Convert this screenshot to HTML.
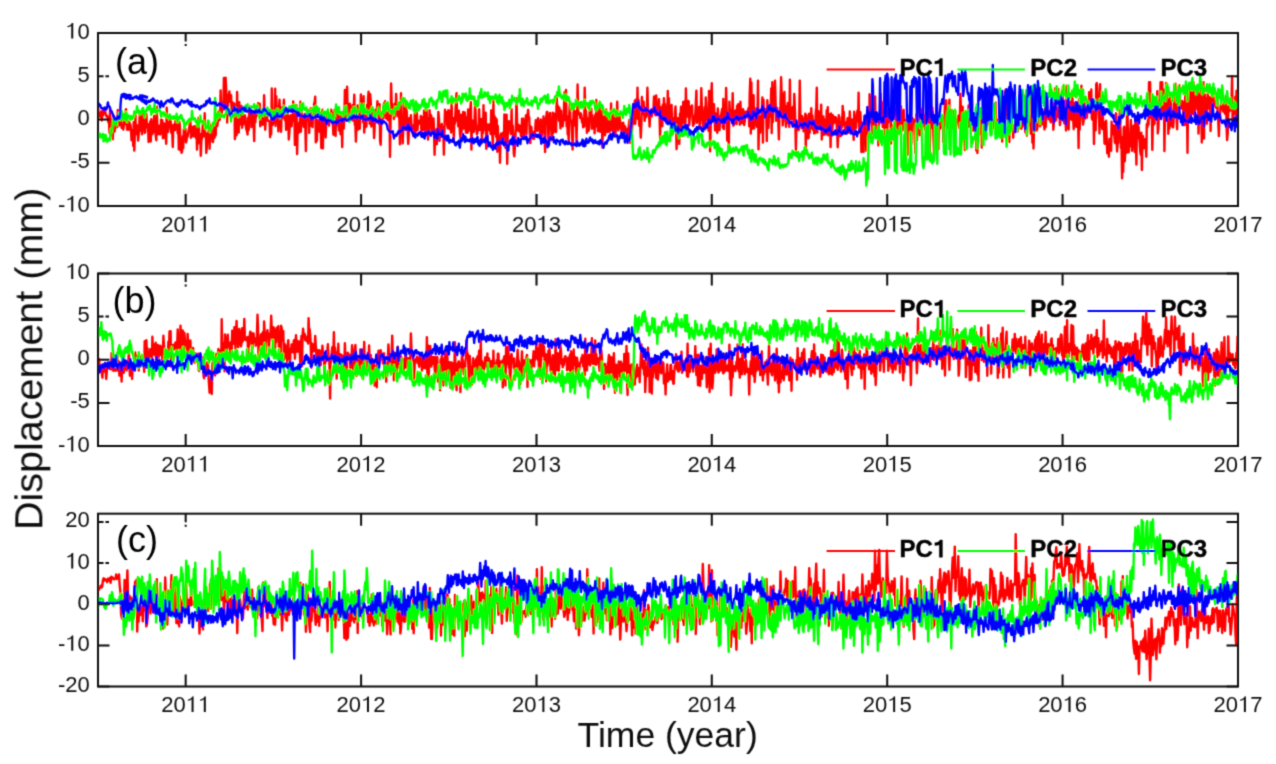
<!DOCTYPE html><html><head><meta charset="utf-8"><style>html,body{margin:0;padding:0;background:#fff;overflow:hidden;}svg{display:block}</style></head><body>
<svg width="1276" height="764" viewBox="0 0 1276 764">
<rect width="1276" height="764" fill="#fff"/>
<defs><filter id="bl" x="0" y="0" width="1276" height="764" filterUnits="userSpaceOnUse"><feConvolveMatrix order="3" kernelMatrix="0.0277 0.1110 0.0277 0.1110 0.4452 0.1110 0.0277 0.1110 0.0277" edgeMode="none"/></filter>
<clipPath id="ca"><rect x="98.0" y="33.0" width="1140.0" height="173.0"/></clipPath>
<clipPath id="cb"><rect x="98.0" y="273.5" width="1140.0" height="172.5"/></clipPath>
<clipPath id="cc"><rect x="98.0" y="513.7" width="1140.0" height="172.8"/></clipPath>
</defs>
<g filter="url(#bl)">
<g clip-path="url(#ca)" fill="none" stroke-width="2.4" stroke-linejoin="round">
<path stroke="#ff0000" d="M98.0 106.3 98.5 111.7 99.1 114.4 99.6 113.1 100.2 116.7 100.7 113.9 101.3 111.3 101.8 120.5 102.4 111.3 102.9 115.5 103.5 110.8 104.0 112.8 104.6 113.5 105.1 110.6 105.7 114.2 106.2 116.1 106.8 115.4 107.3 116.0 107.9 118.9 108.4 122.4 109.0 121.3 109.5 133.2 110.1 107.6 110.6 135.8 111.2 119.2 111.7 121.2 112.3 119.6 112.8 139.2 113.4 120.6 113.9 122.1 114.5 131.5 115.0 128.3 115.6 127.4 116.1 123.1 116.7 121.2 117.2 127.1 117.8 110.0 118.3 118.9 118.9 122.4 119.4 125.3 120.0 123.7 120.5 124.9 121.1 114.7 121.6 127.8 122.2 128.0 122.7 127.0 123.3 129.5 123.8 125.3 124.4 119.2 124.9 124.0 125.5 113.2 126.0 109.2 126.6 122.5 127.1 129.7 127.7 123.3 128.2 121.7 128.8 129.7 129.3 122.0 129.9 128.4 130.4 124.4 131.0 130.0 131.5 140.1 132.1 140.3 132.6 129.9 133.2 145.9 133.7 121.9 134.3 150.6 134.8 133.7 135.4 113.6 135.9 134.1 136.5 124.6 137.0 126.2 137.6 130.5 138.1 140.6 138.7 134.1 139.2 126.0 139.8 111.4 140.3 130.5 140.9 130.1 141.4 125.1 142.0 134.3 142.5 108.9 143.1 117.7 143.6 124.6 144.2 125.3 144.7 133.0 145.3 132.0 145.8 115.3 146.4 113.8 146.9 127.0 147.5 123.9 148.0 124.4 148.6 142.0 149.1 133.4 149.7 127.8 150.2 121.4 150.8 141.5 151.3 119.2 151.9 127.6 152.4 134.2 153.0 127.5 153.5 132.2 154.1 115.6 154.6 124.0 155.2 122.9 155.7 135.7 156.3 140.2 156.8 106.7 157.4 127.7 157.9 134.3 158.5 132.8 159.0 127.0 159.6 125.6 160.1 134.5 160.7 133.5 161.2 119.5 161.8 130.8 162.3 120.2 162.9 138.3 163.4 123.1 164.0 137.6 164.5 123.8 165.1 130.2 165.6 134.3 166.2 143.8 166.7 107.7 167.3 131.2 167.8 132.0 168.4 129.0 168.9 122.1 169.5 126.7 170.0 117.0 170.6 118.9 171.1 132.6 171.7 128.3 172.2 131.3 172.8 147.0 173.3 124.6 173.9 130.0 174.4 129.7 175.0 130.1 175.5 118.1 176.1 126.6 176.6 125.6 177.2 125.0 177.7 133.4 178.3 123.9 178.8 149.4 179.4 121.7 179.9 126.6 180.5 150.3 181.0 141.2 181.6 152.9 182.1 151.3 182.7 136.3 183.2 148.2 183.8 129.7 184.3 126.7 184.9 133.6 185.4 128.7 186.0 142.4 186.5 140.5 187.1 135.7 187.6 136.6 188.2 132.4 188.7 130.2 189.3 127.5 189.8 119.7 190.4 120.1 190.9 137.7 191.5 129.5 192.0 126.9 192.6 132.3 193.1 136.4 193.7 131.8 194.2 126.3 194.8 133.2 195.3 136.5 195.9 137.9 196.4 125.4 197.0 149.6 197.5 132.0 198.1 143.6 198.6 117.7 199.2 135.8 199.7 136.9 200.3 133.9 200.8 155.7 201.4 140.4 201.9 137.9 202.5 130.7 203.0 120.9 203.6 136.5 204.1 132.3 204.7 113.3 205.2 132.7 205.8 134.1 206.3 152.9 206.9 145.6 207.4 134.6 208.0 133.0 208.5 137.9 209.1 122.4 209.6 148.8 210.2 124.8 210.7 137.6 211.3 133.8 211.8 125.9 212.4 141.5 212.9 142.1 213.5 136.9 214.0 125.1 214.6 137.6 215.1 128.6 215.7 135.4 216.2 122.4 216.8 114.8 217.3 126.1 217.9 121.4 218.4 111.6 219.0 111.4 219.5 120.1 220.1 118.2 220.6 90.4 221.2 112.5 221.7 114.6 222.3 102.2 222.8 108.9 223.4 103.9 223.9 78.0 224.5 109.7 225.0 109.2 225.6 77.6 226.1 87.7 226.7 98.0 227.2 122.5 227.8 109.0 228.3 94.6 228.9 97.0 229.4 91.5 230.0 101.7 230.5 97.5 231.1 95.1 231.6 114.4 232.2 101.9 232.7 104.6 233.3 108.9 233.8 107.9 234.4 103.5 234.9 139.0 235.5 134.0 236.0 112.8 236.6 135.0 237.1 92.0 237.7 127.9 238.2 119.4 238.8 132.6 239.3 102.2 239.9 119.4 240.4 106.3 241.0 124.4 241.5 106.0 242.1 127.8 242.6 107.9 243.2 124.6 243.7 122.1 244.3 118.7 244.8 115.3 245.4 117.8 245.9 127.1 246.5 129.8 247.0 131.3 247.6 134.5 248.1 118.0 248.7 130.0 249.2 106.1 249.8 108.6 250.3 122.6 250.9 108.3 251.4 127.1 252.0 111.0 252.5 113.2 253.1 113.1 253.6 122.6 254.2 141.1 254.7 109.5 255.3 122.3 255.8 115.6 256.4 108.7 256.9 116.0 257.5 110.3 258.0 103.3 258.6 114.4 259.1 110.0 259.7 103.6 260.2 126.2 260.8 116.8 261.3 118.7 261.9 118.9 262.4 124.8 263.0 110.0 263.5 124.4 264.1 95.3 264.6 110.2 265.2 129.7 265.7 119.5 266.3 116.5 266.8 111.0 267.4 119.9 267.9 120.7 268.5 120.4 269.0 121.0 269.6 122.2 270.1 137.3 270.7 126.8 271.2 134.4 271.8 88.5 272.3 125.1 272.9 124.4 273.4 122.3 274.0 120.2 274.5 119.9 275.1 88.8 275.6 125.9 276.2 96.3 276.7 109.9 277.3 110.3 277.8 114.5 278.4 131.4 278.9 110.3 279.5 99.8 280.0 112.3 280.6 119.8 281.1 131.9 281.7 107.5 282.2 114.7 282.8 118.1 283.3 111.9 283.9 99.8 284.4 112.0 285.0 120.2 285.5 112.1 286.1 129.9 286.6 119.9 287.2 117.9 287.7 114.1 288.3 119.9 288.8 139.5 289.4 131.8 289.9 120.1 290.5 115.2 291.0 118.1 291.6 126.3 292.1 117.3 292.7 118.5 293.2 101.4 293.8 120.9 294.3 105.9 294.9 144.9 295.4 112.8 296.0 110.5 296.5 105.3 297.1 154.1 297.6 129.2 298.2 124.2 298.7 132.7 299.3 122.3 299.8 128.0 300.4 101.8 300.9 131.8 301.5 108.5 302.0 124.0 302.6 116.1 303.1 117.8 303.7 126.8 304.2 126.6 304.8 113.6 305.3 125.3 305.9 151.1 306.4 119.2 307.0 119.8 307.5 109.6 308.1 118.5 308.6 110.5 309.2 132.9 309.7 109.7 310.3 125.7 310.8 108.2 311.4 122.0 311.9 125.8 312.5 127.1 313.0 113.7 313.6 114.6 314.1 103.7 314.7 102.0 315.2 96.6 315.8 142.4 316.3 120.1 316.9 140.8 317.4 120.0 318.0 123.1 318.5 121.9 319.1 124.6 319.6 131.9 320.2 113.0 320.7 125.1 321.3 148.0 321.8 116.9 322.4 109.6 322.9 148.4 323.5 118.4 324.0 120.8 324.6 122.1 325.1 112.7 325.7 137.4 326.2 121.9 326.8 117.0 327.3 123.3 327.9 112.9 328.4 115.6 329.0 125.6 329.5 119.9 330.1 118.5 330.6 120.6 331.2 109.7 331.7 122.1 332.3 112.7 332.8 122.5 333.4 134.7 333.9 122.8 334.5 110.0 335.0 118.6 335.6 136.0 336.1 107.6 336.7 107.7 337.2 112.8 337.8 125.4 338.3 112.2 338.9 130.5 339.4 116.3 340.0 118.0 340.5 134.2 341.1 120.1 341.6 116.0 342.2 147.0 342.7 112.0 343.3 116.5 343.8 128.5 344.4 115.9 344.9 90.0 345.5 97.6 346.0 119.4 346.6 120.8 347.1 86.6 347.7 113.0 348.2 118.9 348.8 104.4 349.3 109.3 349.9 103.8 350.4 112.4 351.0 110.8 351.5 120.0 352.1 119.1 352.6 105.2 353.2 120.6 353.7 110.1 354.3 94.8 354.8 124.8 355.4 125.5 355.9 141.6 356.5 127.0 357.0 120.1 357.6 105.5 358.1 129.5 358.7 117.8 359.2 105.4 359.8 128.7 360.3 112.9 360.9 94.5 361.4 107.1 362.0 110.4 362.5 112.5 363.1 122.2 363.6 96.2 364.2 132.6 364.7 123.2 365.3 111.7 365.8 127.0 366.4 126.3 366.9 105.0 367.5 119.9 368.0 99.1 368.6 91.7 369.1 107.1 369.7 123.8 370.2 94.1 370.8 102.5 371.3 126.5 371.9 107.3 372.4 107.2 373.0 117.5 373.5 118.6 374.1 138.1 374.6 127.8 375.2 110.0 375.7 112.7 376.3 109.4 376.8 112.1 377.4 101.2 377.9 107.9 378.5 117.2 379.0 123.9 379.6 104.2 380.1 140.9 380.7 144.7 381.2 120.2 381.8 112.2 382.3 112.0 382.9 117.3 383.4 118.4 384.0 103.3 384.5 107.7 385.1 101.1 385.6 105.2 386.2 118.4 386.7 117.5 387.3 118.0 387.8 120.1 388.4 111.9 388.9 118.5 389.5 110.3 390.0 156.7 390.6 117.8 391.1 83.5 391.7 103.9 392.2 103.8 392.8 110.3 393.3 111.4 393.9 119.0 394.4 111.5 395.0 103.4 395.5 116.2 396.1 93.9 396.6 106.0 397.2 113.6 397.7 104.8 398.3 116.6 398.8 106.0 399.4 121.3 399.9 144.2 400.5 121.3 401.0 93.3 401.6 115.6 402.1 117.1 402.7 143.4 403.2 130.7 403.8 125.6 404.3 98.4 404.9 129.9 405.4 124.1 406.0 115.9 406.5 106.9 407.1 119.9 407.6 128.4 408.2 143.9 408.7 135.4 409.3 118.3 409.8 122.5 410.4 126.4 410.9 115.2 411.5 125.7 412.0 131.2 412.6 131.8 413.1 135.6 413.7 125.2 414.2 135.6 414.8 112.0 415.3 134.2 415.9 128.3 416.4 107.7 417.0 115.5 417.5 130.2 418.1 120.5 418.6 121.8 419.2 123.6 419.7 123.4 420.3 123.5 420.8 116.0 421.4 133.0 421.9 122.4 422.5 117.1 423.0 126.8 423.6 130.1 424.1 110.4 424.7 124.6 425.2 114.7 425.8 133.3 426.3 106.8 426.9 116.4 427.4 120.2 428.0 139.6 428.5 132.7 429.1 131.6 429.6 110.2 430.2 123.3 430.7 114.8 431.3 115.8 431.8 133.2 432.4 131.3 432.9 122.0 433.5 118.4 434.0 130.3 434.6 154.8 435.1 129.9 435.7 129.8 436.2 129.8 436.8 144.1 437.3 128.4 437.9 128.9 438.4 111.9 439.0 119.3 439.5 140.9 440.1 130.2 440.6 126.9 441.2 126.3 441.7 123.9 442.3 130.9 442.8 126.8 443.4 134.8 443.9 154.6 444.5 127.3 445.0 109.7 445.6 121.0 446.1 112.2 446.7 112.2 447.2 125.2 447.8 128.4 448.3 110.3 448.9 118.7 449.4 120.0 450.0 129.3 450.5 110.4 451.1 132.6 451.6 101.2 452.2 125.2 452.7 124.5 453.3 118.1 453.8 142.0 454.4 118.8 454.9 123.6 455.5 110.2 456.0 98.5 456.6 93.2 457.1 120.8 457.7 118.1 458.2 126.4 458.8 110.6 459.3 120.8 459.9 132.8 460.4 137.9 461.0 114.8 461.5 133.0 462.1 121.4 462.6 126.8 463.2 111.9 463.7 128.6 464.3 117.8 464.8 112.4 465.4 119.5 465.9 132.6 466.5 117.8 467.0 126.8 467.6 132.7 468.1 109.5 468.7 130.9 469.2 121.2 469.8 111.4 470.3 109.6 470.9 101.9 471.4 149.6 472.0 121.0 472.5 120.5 473.1 132.0 473.6 132.1 474.2 129.1 474.7 114.7 475.3 100.9 475.8 122.3 476.4 127.8 476.9 134.4 477.5 132.0 478.0 129.7 478.6 128.6 479.1 109.3 479.7 129.9 480.2 118.9 480.8 124.6 481.3 119.0 481.9 139.2 482.4 119.9 483.0 132.9 483.5 105.3 484.1 129.5 484.6 126.5 485.2 126.6 485.7 112.8 486.3 148.8 486.8 143.8 487.4 124.5 487.9 127.4 488.5 129.4 489.0 124.4 489.6 130.3 490.1 129.5 490.7 134.1 491.2 110.5 491.8 116.3 492.3 134.5 492.9 146.5 493.4 99.8 494.0 134.1 494.5 116.1 495.1 119.6 495.6 117.8 496.2 137.0 496.7 119.4 497.3 151.8 497.8 126.0 498.4 144.2 498.9 146.5 499.5 138.7 500.0 162.8 500.6 134.9 501.1 133.6 501.7 138.7 502.2 133.7 502.8 133.2 503.3 132.4 503.9 143.5 504.4 114.4 505.0 138.4 505.5 147.9 506.1 130.6 506.6 114.8 507.2 163.8 507.7 135.0 508.3 132.6 508.8 121.1 509.4 124.8 509.9 122.4 510.5 121.6 511.0 134.3 511.6 109.2 512.1 129.0 512.7 125.6 513.2 135.6 513.8 153.3 514.3 156.2 514.9 147.5 515.4 138.8 516.0 121.9 516.5 98.2 517.1 122.8 517.6 130.2 518.2 124.4 518.7 131.4 519.3 127.4 519.8 125.7 520.4 128.6 520.9 136.3 521.5 134.2 522.0 118.7 522.6 123.2 523.1 118.6 523.7 137.9 524.2 124.3 524.8 121.2 525.3 124.9 525.9 115.5 526.4 134.3 527.0 114.6 527.5 116.9 528.1 109.9 528.6 117.6 529.2 117.2 529.7 131.5 530.3 143.1 530.8 126.7 531.4 126.9 531.9 134.2 532.5 138.6 533.0 135.1 533.6 132.2 534.1 138.8 534.7 134.4 535.2 129.2 535.8 120.1 536.3 126.5 536.9 126.8 537.4 131.0 538.0 118.3 538.5 125.3 539.1 127.5 539.6 124.0 540.2 135.9 540.7 119.4 541.3 121.4 541.8 135.8 542.4 128.6 542.9 128.5 543.5 116.5 544.0 121.8 544.6 134.4 545.1 152.1 545.7 122.1 546.2 118.0 546.8 112.0 547.3 112.0 547.9 117.9 548.4 139.4 549.0 126.0 549.5 120.4 550.1 112.9 550.6 129.0 551.2 127.3 551.7 140.3 552.3 133.9 552.8 112.6 553.4 132.8 553.9 130.7 554.5 113.6 555.0 120.9 555.6 114.7 556.1 132.0 556.7 95.1 557.2 113.1 557.8 105.7 558.3 108.2 558.9 120.8 559.4 107.8 560.0 119.4 560.5 128.4 561.1 110.8 561.6 121.1 562.2 117.4 562.7 126.3 563.3 120.5 563.8 114.2 564.4 92.4 564.9 120.1 565.5 109.6 566.0 90.0 566.6 126.2 567.1 116.2 567.7 134.4 568.2 132.1 568.8 141.5 569.3 114.0 569.9 102.5 570.4 120.2 571.0 121.7 571.5 120.6 572.1 134.1 572.6 149.5 573.2 122.4 573.7 109.0 574.3 119.4 574.8 125.4 575.4 120.9 575.9 111.1 576.5 142.3 577.0 120.3 577.6 84.5 578.1 108.3 578.7 114.3 579.2 114.4 579.8 113.4 580.3 118.0 580.9 113.5 581.4 115.4 582.0 122.3 582.5 118.8 583.1 127.3 583.6 125.2 584.2 126.5 584.7 87.6 585.3 113.0 585.8 110.3 586.4 115.9 586.9 132.8 587.5 123.5 588.0 118.7 588.6 130.8 589.1 127.9 589.7 109.8 590.2 120.5 590.8 120.2 591.3 108.5 591.9 128.8 592.4 115.2 593.0 128.0 593.5 123.7 594.1 118.0 594.6 133.4 595.2 115.1 595.7 126.5 596.3 100.0 596.8 126.4 597.4 117.3 597.9 131.2 598.5 123.4 599.0 106.1 599.6 109.0 600.1 131.8 600.7 119.7 601.2 118.6 601.8 108.1 602.3 147.4 602.9 129.8 603.4 122.4 604.0 122.3 604.5 115.2 605.1 135.3 605.6 110.7 606.2 109.6 606.7 125.8 607.3 132.0 607.8 130.6 608.4 128.7 608.9 115.7 609.5 131.9 610.0 124.8 610.6 129.1 611.1 103.5 611.7 130.1 612.2 118.8 612.8 131.2 613.3 113.9 613.9 134.2 614.4 112.5 615.0 111.3 615.5 135.0 616.1 121.8 616.6 117.7 617.2 101.8 617.7 118.3 618.3 130.4 618.8 126.2 619.4 125.9 619.9 116.2 620.5 128.2 621.0 125.5 621.6 132.0 622.1 123.2 622.7 130.4 623.2 122.7 623.8 125.9 624.3 133.1 624.9 126.1 625.4 128.4 626.0 130.3 626.5 128.6 627.1 136.0 627.6 128.9 628.2 141.2 628.7 126.9 629.3 120.0 629.8 132.6 630.4 143.1 630.9 118.5 631.5 135.5 632.0 131.9 632.6 117.9 633.1 104.1 633.7 121.0 634.2 123.5 634.8 100.7 635.3 123.8 635.9 99.7 636.4 100.4 637.0 118.3 637.5 87.6 638.1 119.1 638.6 100.1 639.2 125.5 639.7 125.5 640.3 126.7 640.8 137.8 641.4 123.5 641.9 97.0 642.5 114.0 643.0 110.8 643.6 101.6 644.1 112.2 644.7 120.9 645.2 113.2 645.8 107.6 646.3 117.0 646.9 107.9 647.4 87.7 648.0 107.8 648.5 114.6 649.1 116.1 649.6 126.6 650.2 114.8 650.7 112.1 651.3 113.1 651.8 116.3 652.4 111.7 652.9 108.8 653.5 108.0 654.0 96.5 654.6 108.5 655.1 114.1 655.7 115.2 656.2 95.4 656.8 115.3 657.3 102.9 657.9 105.9 658.4 109.1 659.0 99.3 659.5 112.4 660.1 138.4 660.6 107.1 661.2 116.0 661.7 115.8 662.3 126.3 662.8 104.8 663.4 118.2 663.9 98.2 664.5 110.0 665.0 104.2 665.6 118.1 666.1 116.3 666.7 112.8 667.2 121.8 667.8 91.0 668.3 120.8 668.9 98.2 669.4 110.8 670.0 117.1 670.5 119.6 671.1 125.2 671.6 105.0 672.2 131.0 672.7 134.1 673.3 120.5 673.8 117.9 674.4 127.9 674.9 112.1 675.5 106.5 676.0 120.9 676.6 149.1 677.1 121.3 677.7 118.3 678.2 120.7 678.8 119.8 679.3 143.9 679.9 113.8 680.4 119.0 681.0 106.8 681.5 114.6 682.1 129.2 682.6 136.1 683.2 102.0 683.7 105.6 684.3 130.3 684.8 101.3 685.4 125.9 685.9 88.4 686.5 117.1 687.0 103.7 687.6 110.0 688.1 100.9 688.7 101.4 689.2 125.2 689.8 116.3 690.3 106.7 690.9 112.4 691.4 110.5 692.0 105.4 692.5 119.4 693.1 125.9 693.6 119.0 694.2 123.8 694.7 116.3 695.3 113.8 695.8 103.6 696.4 90.6 696.9 122.8 697.5 116.8 698.0 114.4 698.6 119.5 699.1 107.0 699.7 128.8 700.2 114.6 700.8 115.3 701.3 88.2 701.9 106.7 702.4 119.9 703.0 125.8 703.5 115.8 704.1 124.8 704.6 107.3 705.2 129.3 705.7 97.4 706.3 107.0 706.8 120.4 707.4 114.6 707.9 119.1 708.5 130.7 709.0 90.9 709.6 100.7 710.1 151.3 710.7 125.0 711.2 94.8 711.8 83.2 712.3 109.0 712.9 114.2 713.4 111.5 714.0 104.2 714.5 117.2 715.1 130.4 715.6 113.4 716.2 120.0 716.7 129.8 717.3 132.7 717.8 108.5 718.4 121.7 718.9 116.1 719.5 130.1 720.0 119.8 720.6 121.0 721.1 114.8 721.7 111.2 722.2 108.8 722.8 127.7 723.3 98.9 723.9 129.1 724.4 114.3 725.0 111.7 725.5 121.0 726.1 87.9 726.6 109.0 727.2 140.5 727.7 121.1 728.3 112.9 728.8 148.7 729.4 101.7 729.9 111.9 730.5 117.2 731.0 115.5 731.6 110.0 732.1 119.2 732.7 93.2 733.2 125.6 733.8 125.4 734.3 121.6 734.9 113.0 735.4 110.5 736.0 114.3 736.5 124.1 737.1 105.6 737.6 115.5 738.2 104.1 738.7 119.5 739.3 115.6 739.8 124.8 740.4 101.8 740.9 112.7 741.5 116.3 742.0 123.4 742.6 119.8 743.1 109.2 743.7 112.0 744.2 125.1 744.8 120.5 745.3 112.2 745.9 116.3 746.4 111.4 747.0 117.3 747.5 112.2 748.1 110.6 748.6 107.9 749.2 126.4 749.7 94.6 750.3 78.8 750.8 133.5 751.4 82.5 751.9 129.0 752.5 102.9 753.0 96.6 753.6 95.2 754.1 128.5 754.7 108.2 755.2 115.1 755.8 112.8 756.3 123.4 756.9 126.9 757.4 117.4 758.0 80.6 758.5 149.3 759.1 124.4 759.6 116.3 760.2 132.6 760.7 122.0 761.3 120.2 761.8 110.8 762.4 97.4 762.9 142.5 763.5 99.6 764.0 113.4 764.6 115.4 765.1 108.9 765.7 108.9 766.2 109.1 766.8 141.0 767.3 100.2 767.9 111.9 768.4 128.0 769.0 113.8 769.5 110.5 770.1 104.7 770.6 116.8 771.2 88.4 771.7 133.0 772.3 82.3 772.8 122.0 773.4 90.0 773.9 106.4 774.5 94.7 775.0 80.6 775.6 102.2 776.1 120.7 776.7 113.9 777.2 108.0 777.8 113.3 778.3 120.3 778.9 139.4 779.4 113.0 780.0 114.3 780.5 105.4 781.1 77.2 781.6 92.6 782.2 94.4 782.7 125.4 783.3 114.2 783.8 110.5 784.4 92.0 784.9 119.2 785.5 119.8 786.0 126.8 786.6 105.9 787.1 122.0 787.7 103.0 788.2 123.2 788.8 105.6 789.3 126.9 789.9 79.7 790.4 119.0 791.0 107.5 791.5 108.3 792.1 118.9 792.6 118.3 793.2 106.6 793.7 122.7 794.3 93.9 794.8 107.3 795.4 124.4 795.9 150.2 796.5 121.6 797.0 124.5 797.6 124.7 798.1 129.5 798.7 130.0 799.2 120.1 799.8 80.6 800.3 115.1 800.9 116.1 801.4 128.0 802.0 115.9 802.5 117.9 803.1 126.5 803.6 131.3 804.2 119.3 804.7 123.5 805.3 113.8 805.8 150.6 806.4 115.0 806.9 122.6 807.5 124.6 808.0 138.4 808.6 137.9 809.1 113.6 809.7 132.7 810.2 115.7 810.8 122.2 811.3 108.3 811.9 128.2 812.4 115.5 813.0 129.9 813.5 120.2 814.1 133.5 814.6 126.5 815.2 132.9 815.7 112.6 816.3 107.4 816.8 87.8 817.4 132.4 817.9 114.5 818.5 111.3 819.0 120.4 819.6 118.1 820.1 129.0 820.7 122.1 821.2 104.7 821.8 139.5 822.3 123.2 822.9 123.9 823.4 116.4 824.0 134.7 824.5 123.7 825.1 122.9 825.6 119.5 826.2 134.4 826.7 110.3 827.3 132.4 827.8 107.1 828.4 135.3 828.9 121.0 829.5 134.7 830.0 114.1 830.6 147.1 831.1 113.5 831.7 130.3 832.2 135.6 832.8 115.3 833.3 123.7 833.9 121.3 834.4 119.9 835.0 117.0 835.5 122.5 836.1 117.8 836.6 124.3 837.2 132.4 837.7 147.3 838.3 134.8 838.8 115.1 839.4 136.1 839.9 122.2 840.5 128.3 841.0 136.0 841.6 117.2 842.1 127.2 842.7 105.9 843.2 124.9 843.8 111.6 844.3 123.5 844.9 122.3 845.4 133.8 846.0 122.9 846.5 133.4 847.1 122.5 847.6 118.1 848.2 122.7 848.7 132.6 849.3 124.8 849.8 111.4 850.4 124.6 850.9 133.0 851.5 128.0 852.0 119.4 852.6 127.7 853.1 127.7 853.7 139.9 854.2 111.6 854.8 122.5 855.3 128.5 855.9 128.2 856.4 120.8 857.0 114.1 857.5 110.5 858.1 121.1 858.6 92.8 859.2 130.8 859.7 116.5 860.3 112.1 860.8 122.6 861.4 152.1 861.9 133.4 862.5 122.9 863.0 122.5 863.6 151.9 864.1 125.7 864.7 115.9 865.2 125.5 865.8 127.1 866.3 150.7 866.9 115.1 867.4 132.4 868.0 129.3 868.5 128.7 869.1 137.4 869.6 94.3 870.2 122.2 870.7 116.3 871.3 119.4 871.8 96.3 872.4 133.5 872.9 113.3 873.5 115.7 874.0 125.1 874.6 128.4 875.1 96.4 875.7 130.6 876.2 126.8 876.8 125.6 877.3 126.9 877.9 125.9 878.4 145.4 879.0 119.5 879.5 116.2 880.1 112.9 880.6 93.4 881.2 106.9 881.7 101.7 882.3 114.0 882.8 127.3 883.4 120.2 883.9 112.8 884.5 110.5 885.0 146.9 885.6 124.3 886.1 120.1 886.7 111.9 887.2 137.9 887.8 110.8 888.3 122.4 888.9 114.6 889.4 112.7 890.0 119.7 890.5 108.6 891.1 143.6 891.6 124.1 892.2 137.8 892.7 131.6 893.3 127.9 893.8 139.3 894.4 139.5 894.9 133.3 895.5 122.1 896.0 108.2 896.6 138.2 897.1 113.8 897.7 133.6 898.2 120.8 898.8 126.1 899.3 101.4 899.9 115.8 900.4 134.8 901.0 106.3 901.5 127.0 902.1 119.5 902.6 130.5 903.2 114.2 903.7 109.9 904.3 124.4 904.8 119.8 905.4 137.4 905.9 122.1 906.5 124.4 907.0 141.8 907.6 154.7 908.1 122.3 908.7 124.1 909.2 119.7 909.8 119.7 910.3 135.8 910.9 123.6 911.4 143.9 912.0 120.2 912.5 118.0 913.1 120.5 913.6 119.5 914.2 120.2 914.7 133.0 915.3 153.0 915.8 129.6 916.4 114.3 916.9 140.5 917.5 120.5 918.0 126.8 918.6 128.5 919.1 121.0 919.7 135.2 920.2 109.2 920.8 126.4 921.3 133.5 921.9 136.1 922.4 108.5 923.0 124.8 923.5 125.6 924.1 115.5 924.6 125.0 925.2 129.5 925.7 113.9 926.3 110.2 926.8 129.8 927.4 133.9 927.9 127.5 928.5 97.7 929.0 124.7 929.6 154.8 930.1 134.0 930.7 96.1 931.2 127.9 931.8 122.4 932.3 107.4 932.9 113.0 933.4 135.8 934.0 154.1 934.5 128.0 935.1 127.5 935.6 114.9 936.2 131.0 936.7 94.0 937.3 129.2 937.8 132.8 938.4 149.5 938.9 129.7 939.5 125.6 940.0 117.9 940.6 128.3 941.1 115.9 941.7 123.2 942.2 119.9 942.8 117.3 943.3 141.9 943.9 122.0 944.4 125.5 945.0 100.3 945.5 122.6 946.1 100.5 946.6 111.3 947.2 128.1 947.7 110.5 948.3 111.9 948.8 119.2 949.4 99.6 949.9 122.7 950.5 111.8 951.0 123.1 951.6 110.9 952.1 120.6 952.7 124.6 953.2 128.2 953.8 111.2 954.3 127.3 954.9 115.1 955.4 134.9 956.0 122.8 956.5 119.7 957.1 120.7 957.6 121.9 958.2 115.8 958.7 125.9 959.3 128.3 959.8 121.6 960.4 93.6 960.9 108.4 961.5 125.4 962.0 132.6 962.6 106.8 963.1 115.5 963.7 117.2 964.2 127.7 964.8 150.0 965.3 120.3 965.9 122.7 966.4 133.7 967.0 118.5 967.5 127.2 968.1 120.9 968.6 105.5 969.2 114.8 969.7 126.8 970.3 108.1 970.8 113.2 971.4 119.9 971.9 100.8 972.5 121.8 973.0 131.0 973.6 125.2 974.1 123.0 974.7 122.7 975.2 131.4 975.8 117.4 976.3 150.4 976.9 123.0 977.4 153.0 978.0 128.9 978.5 133.1 979.1 134.5 979.6 128.6 980.2 122.3 980.7 118.2 981.3 117.2 981.8 147.5 982.4 116.1 982.9 118.9 983.5 124.4 984.0 110.0 984.6 126.1 985.1 111.3 985.7 130.5 986.2 130.2 986.8 119.9 987.3 109.6 987.9 119.5 988.4 121.9 989.0 91.2 989.5 124.5 990.1 121.8 990.6 103.8 991.2 123.3 991.7 103.7 992.3 112.8 992.8 128.5 993.4 112.3 993.9 116.4 994.5 119.5 995.0 128.8 995.6 102.5 996.1 126.3 996.7 127.5 997.2 130.4 997.8 126.4 998.3 119.8 998.9 129.6 999.4 130.8 1000.0 124.1 1000.5 126.3 1001.1 127.1 1001.6 93.0 1002.2 141.5 1002.7 120.1 1003.3 123.9 1003.8 123.4 1004.4 127.9 1004.9 126.3 1005.5 89.8 1006.0 106.7 1006.6 117.0 1007.1 118.5 1007.7 118.8 1008.2 96.9 1008.8 119.9 1009.3 142.0 1009.9 115.0 1010.4 117.8 1011.0 120.0 1011.5 125.9 1012.1 124.2 1012.6 126.2 1013.2 137.8 1013.7 126.7 1014.3 131.8 1014.8 124.3 1015.4 123.9 1015.9 120.9 1016.5 119.7 1017.0 117.8 1017.6 131.3 1018.1 125.5 1018.7 127.0 1019.2 127.9 1019.8 127.6 1020.3 126.2 1020.9 115.9 1021.4 128.7 1022.0 122.1 1022.5 126.6 1023.1 93.4 1023.6 112.4 1024.2 112.4 1024.7 120.0 1025.3 132.2 1025.8 123.8 1026.4 129.9 1026.9 135.7 1027.5 114.4 1028.0 124.6 1028.6 120.3 1029.1 118.4 1029.7 91.7 1030.2 122.4 1030.8 133.7 1031.3 101.6 1031.9 107.2 1032.4 142.6 1033.0 124.9 1033.5 148.5 1034.1 124.5 1034.6 131.4 1035.2 90.8 1035.7 118.0 1036.3 123.9 1036.8 130.4 1037.4 127.6 1037.9 112.1 1038.5 123.9 1039.0 116.9 1039.6 119.2 1040.1 126.2 1040.7 124.6 1041.2 112.6 1041.8 124.3 1042.3 123.5 1042.9 123.9 1043.4 121.9 1044.0 123.3 1044.5 129.5 1045.1 108.3 1045.6 127.2 1046.2 118.2 1046.7 106.1 1047.3 116.6 1047.8 111.5 1048.4 118.1 1048.9 119.2 1049.5 111.0 1050.0 116.1 1050.6 122.2 1051.1 121.0 1051.7 116.2 1052.2 110.9 1052.8 104.3 1053.3 129.7 1053.9 123.0 1054.4 108.7 1055.0 88.3 1055.5 120.8 1056.1 119.7 1056.6 106.6 1057.2 109.6 1057.7 116.8 1058.3 88.9 1058.8 115.6 1059.4 108.8 1059.9 125.1 1060.5 120.8 1061.0 117.3 1061.6 108.3 1062.1 116.9 1062.7 87.0 1063.2 120.1 1063.8 118.0 1064.3 123.3 1064.9 121.8 1065.4 116.6 1066.0 130.5 1066.5 85.8 1067.1 127.7 1067.6 94.5 1068.2 99.1 1068.7 129.5 1069.3 103.4 1069.8 118.9 1070.4 102.0 1070.9 104.9 1071.5 119.8 1072.0 91.0 1072.6 101.1 1073.1 117.1 1073.7 129.3 1074.2 113.6 1074.8 102.9 1075.3 126.0 1075.9 123.0 1076.4 126.9 1077.0 102.3 1077.5 122.0 1078.1 119.1 1078.6 148.0 1079.2 99.2 1079.7 129.6 1080.3 115.0 1080.8 113.3 1081.4 85.8 1081.9 117.5 1082.5 109.7 1083.0 124.6 1083.6 121.0 1084.1 101.8 1084.7 104.0 1085.2 118.6 1085.8 112.5 1086.3 103.1 1086.9 117.6 1087.4 101.0 1088.0 105.4 1088.5 112.6 1089.1 92.1 1089.6 112.1 1090.2 93.2 1090.7 107.5 1091.3 89.5 1091.8 118.4 1092.4 119.6 1092.9 105.7 1093.5 117.3 1094.0 143.9 1094.6 101.3 1095.1 110.4 1095.7 130.2 1096.2 84.2 1096.8 83.0 1097.3 88.5 1097.9 104.3 1098.4 111.0 1099.0 120.5 1099.5 133.5 1100.1 84.3 1100.6 120.3 1101.2 122.4 1101.7 124.9 1102.3 129.1 1102.8 115.2 1103.4 126.9 1103.9 122.3 1104.5 143.3 1105.0 143.8 1105.6 134.6 1106.1 120.7 1106.7 138.4 1107.2 153.2 1107.8 144.5 1108.3 142.7 1108.9 156.8 1109.4 139.0 1110.0 140.2 1110.5 150.2 1111.1 150.7 1111.6 121.7 1112.2 134.5 1112.7 125.2 1113.3 134.2 1113.8 125.6 1114.4 136.3 1114.9 142.5 1115.5 143.2 1116.0 113.1 1116.6 140.3 1117.1 151.5 1117.7 142.3 1118.2 143.3 1118.8 127.6 1119.3 132.4 1119.9 109.9 1120.4 129.5 1121.0 148.0 1121.5 143.1 1122.1 178.3 1122.6 137.0 1123.2 171.7 1123.7 128.0 1124.3 126.7 1124.8 161.4 1125.4 149.3 1125.9 144.9 1126.5 152.8 1127.0 111.5 1127.6 115.0 1128.1 151.9 1128.7 152.2 1129.2 141.5 1129.8 146.1 1130.3 132.1 1130.9 120.0 1131.4 136.0 1132.0 150.9 1132.5 138.2 1133.1 140.9 1133.6 125.6 1134.2 135.9 1134.7 152.0 1135.3 122.1 1135.8 134.3 1136.4 164.6 1136.9 119.8 1137.5 138.0 1138.0 125.0 1138.6 127.4 1139.1 136.6 1139.7 142.6 1140.2 151.2 1140.8 154.8 1141.3 132.6 1141.9 169.9 1142.4 141.5 1143.0 136.1 1143.5 148.2 1144.1 148.1 1144.6 141.0 1145.2 139.3 1145.7 140.8 1146.3 156.8 1146.8 124.1 1147.4 127.1 1147.9 120.4 1148.5 124.6 1149.0 82.3 1149.6 87.2 1150.1 82.3 1150.7 117.6 1151.2 107.3 1151.8 110.5 1152.3 149.7 1152.9 117.3 1153.4 125.1 1154.0 110.4 1154.5 123.7 1155.1 105.5 1155.6 107.4 1156.2 118.2 1156.7 107.7 1157.3 91.2 1157.8 133.4 1158.4 128.2 1158.9 112.0 1159.5 110.7 1160.0 105.9 1160.6 82.3 1161.1 87.7 1161.7 114.4 1162.2 82.3 1162.8 110.7 1163.3 111.0 1163.9 89.7 1164.4 151.0 1165.0 113.7 1165.5 114.4 1166.1 82.9 1166.6 94.6 1167.2 104.9 1167.7 99.2 1168.3 133.8 1168.8 115.8 1169.4 128.7 1169.9 95.6 1170.5 112.5 1171.0 101.0 1171.6 125.8 1172.1 113.3 1172.7 127.2 1173.2 127.3 1173.8 116.8 1174.3 95.2 1174.9 106.6 1175.4 83.8 1176.0 111.3 1176.5 114.6 1177.1 129.3 1177.6 102.2 1178.2 91.1 1178.7 96.2 1179.3 85.2 1179.8 94.2 1180.4 107.8 1180.9 108.0 1181.5 106.2 1182.0 100.9 1182.6 109.3 1183.1 103.2 1183.7 125.0 1184.2 101.8 1184.8 125.0 1185.3 92.6 1185.9 112.5 1186.4 113.1 1187.0 107.4 1187.5 152.7 1188.1 101.9 1188.6 87.8 1189.2 88.6 1189.7 94.8 1190.3 117.6 1190.8 84.8 1191.4 97.7 1191.9 91.9 1192.5 113.9 1193.0 106.6 1193.6 82.3 1194.1 98.3 1194.7 116.9 1195.2 87.3 1195.8 98.9 1196.3 105.8 1196.9 98.4 1197.4 109.6 1198.0 85.2 1198.5 133.5 1199.1 102.5 1199.6 120.0 1200.2 82.3 1200.7 116.1 1201.3 112.8 1201.8 142.4 1202.4 91.7 1202.9 111.2 1203.5 82.3 1204.0 138.5 1204.6 94.2 1205.1 98.2 1205.7 102.4 1206.2 108.4 1206.8 123.7 1207.3 101.8 1207.9 90.8 1208.4 108.3 1209.0 104.6 1209.5 99.7 1210.1 97.3 1210.6 131.0 1211.2 103.1 1211.7 99.8 1212.3 88.6 1212.8 93.5 1213.4 94.1 1213.9 102.7 1214.5 105.8 1215.0 106.2 1215.6 104.6 1216.1 107.7 1216.7 93.8 1217.2 98.2 1217.8 116.1 1218.3 121.5 1218.9 136.1 1219.4 114.7 1220.0 116.3 1220.5 107.0 1221.1 103.0 1221.6 107.4 1222.2 104.6 1222.7 109.5 1223.3 111.5 1223.8 105.4 1224.4 102.0 1224.9 113.7 1225.5 111.6 1226.0 96.0 1226.6 126.9 1227.1 140.1 1227.7 133.7 1228.2 114.5 1228.8 105.2 1229.3 111.3 1229.9 104.1 1230.4 110.2 1231.0 102.1 1231.5 101.8 1232.1 76.2 1232.6 122.6 1233.2 104.0 1233.7 114.3 1234.3 110.1 1234.8 103.9 1235.4 96.6 1235.9 117.7 1236.5 90.7 1237.0 99.7 1237.6 104.0"/>
<path stroke="#00ff00" d="M98.0 135.8 98.5 136.7 99.1 136.4 99.6 133.5 100.2 135.7 100.7 137.6 101.3 134.9 101.8 136.6 102.4 137.3 102.9 133.9 103.5 141.4 104.0 141.0 104.6 138.9 105.1 135.0 105.7 134.9 106.2 139.6 106.8 141.6 107.3 141.8 107.9 140.7 108.4 138.6 109.0 139.9 109.5 138.3 110.1 139.9 110.6 132.1 111.2 128.6 111.7 132.2 112.3 128.8 112.8 124.2 113.4 119.5 113.9 121.8 114.5 123.5 115.0 122.4 115.6 118.1 116.1 119.4 116.7 125.5 117.2 120.2 117.8 120.0 118.3 119.2 118.9 113.1 119.4 115.8 120.0 120.1 120.5 115.0 121.1 117.1 121.6 110.7 122.2 119.7 122.7 118.3 123.3 115.8 123.8 114.0 124.4 117.1 124.9 119.7 125.5 117.2 126.0 112.0 126.6 119.9 127.1 122.1 127.7 114.9 128.2 115.7 128.8 116.0 129.3 117.2 129.9 117.0 130.4 119.9 131.0 115.9 131.5 118.2 132.1 116.8 132.6 119.1 133.2 116.5 133.7 117.1 134.3 111.5 134.8 112.7 135.4 113.5 135.9 113.0 136.5 112.4 137.0 106.3 137.6 109.6 138.1 110.6 138.7 113.0 139.2 113.1 139.8 114.4 140.3 111.2 140.9 111.2 141.4 113.6 142.0 110.1 142.5 108.7 143.1 107.9 143.6 112.2 144.2 111.6 144.7 117.4 145.3 113.6 145.8 110.6 146.4 110.9 146.9 109.5 147.5 107.2 148.0 107.0 148.6 109.5 149.1 107.2 149.7 105.3 150.2 108.8 150.8 108.7 151.3 114.8 151.9 112.3 152.4 109.5 153.0 108.8 153.5 112.4 154.1 110.4 154.6 103.3 155.2 108.7 155.7 111.0 156.3 113.2 156.8 111.0 157.4 110.1 157.9 111.2 158.5 110.2 159.0 109.4 159.6 110.3 160.1 110.4 160.7 114.8 161.2 117.1 161.8 112.8 162.3 113.4 162.9 112.5 163.4 113.4 164.0 112.4 164.5 116.1 165.1 116.0 165.6 113.5 166.2 114.6 166.7 116.3 167.3 117.4 167.8 116.1 168.4 118.3 168.9 118.1 169.5 114.5 170.0 115.1 170.6 118.6 171.1 116.5 171.7 118.8 172.2 118.6 172.8 116.9 173.3 118.7 173.9 116.1 174.4 118.8 175.0 118.9 175.5 118.1 176.1 119.5 176.6 113.8 177.2 122.0 177.7 122.2 178.3 118.6 178.8 117.1 179.4 118.4 179.9 117.9 180.5 115.6 181.0 114.9 181.6 116.1 182.1 119.2 182.7 121.0 183.2 119.3 183.8 119.8 184.3 128.5 184.9 123.4 185.4 124.8 186.0 123.9 186.5 122.8 187.1 123.8 187.6 120.9 188.2 122.3 188.7 121.7 189.3 119.0 189.8 120.5 190.4 119.9 190.9 120.2 191.5 118.1 192.0 111.0 192.6 118.3 193.1 119.5 193.7 118.5 194.2 118.9 194.8 118.2 195.3 119.3 195.9 122.2 196.4 120.3 197.0 121.0 197.5 126.3 198.1 120.6 198.6 126.2 199.2 122.7 199.7 121.3 200.3 115.6 200.8 119.9 201.4 121.4 201.9 122.2 202.5 122.2 203.0 123.2 203.6 121.0 204.1 123.0 204.7 124.1 205.2 127.7 205.8 129.1 206.3 126.6 206.9 127.9 207.4 126.6 208.0 120.4 208.5 121.2 209.1 126.2 209.6 130.5 210.2 132.2 210.7 129.2 211.3 128.6 211.8 127.7 212.4 124.3 212.9 122.7 213.5 123.1 214.0 125.1 214.6 123.1 215.1 97.9 215.7 121.4 216.2 118.6 216.8 118.4 217.3 114.9 217.9 117.8 218.4 113.5 219.0 116.4 219.5 112.5 220.1 114.7 220.6 115.6 221.2 117.0 221.7 115.6 222.3 115.8 222.8 115.7 223.4 114.9 223.9 117.3 224.5 117.2 225.0 115.5 225.6 113.8 226.1 112.4 226.7 109.5 227.2 111.9 227.8 112.5 228.3 111.8 228.9 108.2 229.4 110.7 230.0 116.1 230.5 116.3 231.1 121.5 231.6 112.0 232.2 114.0 232.7 117.0 233.3 114.1 233.8 114.4 234.4 115.6 234.9 115.6 235.5 114.7 236.0 108.0 236.6 111.5 237.1 110.1 237.7 109.9 238.2 117.0 238.8 116.6 239.3 115.5 239.9 113.3 240.4 113.2 241.0 112.7 241.5 112.2 242.1 112.3 242.6 114.1 243.2 110.7 243.7 107.8 244.3 106.8 244.8 106.4 245.4 106.9 245.9 105.6 246.5 109.8 247.0 106.8 247.6 104.3 248.1 107.3 248.7 108.4 249.2 108.9 249.8 108.6 250.3 109.0 250.9 107.0 251.4 106.4 252.0 106.6 252.5 107.6 253.1 107.3 253.6 107.3 254.2 104.1 254.7 106.1 255.3 107.5 255.8 110.3 256.4 112.5 256.9 106.0 257.5 105.2 258.0 107.7 258.6 111.6 259.1 115.6 259.7 119.0 260.2 116.2 260.8 113.8 261.3 115.9 261.9 108.9 262.4 109.8 263.0 110.4 263.5 115.7 264.1 109.6 264.6 108.5 265.2 111.8 265.7 114.0 266.3 115.1 266.8 112.5 267.4 107.5 267.9 112.5 268.5 115.3 269.0 113.9 269.6 116.3 270.1 109.7 270.7 115.0 271.2 111.8 271.8 110.9 272.3 112.0 272.9 119.5 273.4 116.7 274.0 111.4 274.5 111.5 275.1 118.2 275.6 112.1 276.2 112.2 276.7 109.5 277.3 109.7 277.8 109.2 278.4 114.5 278.9 113.7 279.5 114.8 280.0 118.4 280.6 110.9 281.1 113.1 281.7 110.2 282.2 112.3 282.8 109.4 283.3 108.4 283.9 106.1 284.4 114.0 285.0 111.5 285.5 109.2 286.1 112.8 286.6 112.9 287.2 111.3 287.7 112.9 288.3 108.5 288.8 107.9 289.4 106.5 289.9 107.7 290.5 107.6 291.0 106.5 291.6 109.2 292.1 105.7 292.7 105.0 293.2 110.6 293.8 108.9 294.3 105.4 294.9 111.6 295.4 104.7 296.0 109.6 296.5 108.0 297.1 108.5 297.6 112.5 298.2 109.9 298.7 108.4 299.3 109.3 299.8 109.5 300.4 110.9 300.9 104.5 301.5 111.6 302.0 105.9 302.6 103.5 303.1 103.3 303.7 109.2 304.2 108.4 304.8 109.7 305.3 108.2 305.9 109.9 306.4 107.4 307.0 113.4 307.5 114.5 308.1 112.8 308.6 111.5 309.2 113.0 309.7 110.3 310.3 111.0 310.8 109.9 311.4 110.8 311.9 109.5 312.5 108.7 313.0 112.1 313.6 114.8 314.1 107.1 314.7 112.1 315.2 109.6 315.8 107.3 316.3 105.8 316.9 106.6 317.4 111.1 318.0 116.0 318.5 112.1 319.1 108.4 319.6 112.8 320.2 114.3 320.7 115.8 321.3 114.0 321.8 116.4 322.4 116.0 322.9 113.4 323.5 111.2 324.0 114.7 324.6 113.6 325.1 116.7 325.7 112.3 326.2 111.8 326.8 113.3 327.3 113.9 327.9 109.4 328.4 119.3 329.0 112.8 329.5 115.3 330.1 117.3 330.6 121.1 331.2 114.2 331.7 117.4 332.3 119.9 332.8 123.0 333.4 120.8 333.9 119.2 334.5 115.8 335.0 116.1 335.6 109.4 336.1 104.5 336.7 111.5 337.2 112.5 337.8 110.7 338.3 113.1 338.9 107.1 339.4 112.8 340.0 113.1 340.5 114.2 341.1 112.9 341.6 112.1 342.2 112.6 342.7 112.8 343.3 116.3 343.8 114.0 344.4 111.0 344.9 106.8 345.5 108.3 346.0 106.2 346.6 113.0 347.1 113.4 347.7 116.3 348.2 121.2 348.8 118.4 349.3 116.0 349.9 121.6 350.4 114.8 351.0 114.0 351.5 112.3 352.1 109.6 352.6 113.5 353.2 112.6 353.7 107.1 354.3 111.4 354.8 111.3 355.4 107.5 355.9 109.3 356.5 117.8 357.0 112.5 357.6 112.0 358.1 112.0 358.7 110.1 359.2 109.6 359.8 110.3 360.3 103.9 360.9 106.9 361.4 105.7 362.0 114.0 362.5 107.3 363.1 107.0 363.6 104.0 364.2 109.2 364.7 113.0 365.3 112.1 365.8 109.5 366.4 109.6 366.9 113.4 367.5 114.1 368.0 110.9 368.6 111.4 369.1 116.1 369.7 112.9 370.2 111.8 370.8 110.8 371.3 108.6 371.9 107.1 372.4 111.1 373.0 109.5 373.5 109.6 374.1 118.1 374.6 113.4 375.2 118.4 375.7 116.8 376.3 114.3 376.8 114.1 377.4 111.6 377.9 111.5 378.5 107.5 379.0 113.4 379.6 113.4 380.1 112.7 380.7 115.2 381.2 112.8 381.8 116.7 382.3 111.7 382.9 111.0 383.4 105.5 384.0 110.2 384.5 112.6 385.1 108.5 385.6 103.2 386.2 106.2 386.7 110.1 387.3 108.0 387.8 102.1 388.4 107.2 388.9 106.7 389.5 111.2 390.0 112.4 390.6 112.9 391.1 109.9 391.7 111.6 392.2 111.2 392.8 110.4 393.3 111.3 393.9 115.2 394.4 112.3 395.0 107.3 395.5 109.6 396.1 107.2 396.6 107.3 397.2 107.7 397.7 108.1 398.3 108.9 398.8 102.3 399.4 105.7 399.9 103.3 400.5 102.4 401.0 103.4 401.6 100.8 402.1 102.2 402.7 98.0 403.2 100.7 403.8 99.7 404.3 98.8 404.9 102.6 405.4 105.7 406.0 100.7 406.5 104.2 407.1 101.9 407.6 103.8 408.2 108.0 408.7 104.3 409.3 105.5 409.8 108.3 410.4 103.4 410.9 100.7 411.5 103.5 412.0 104.3 412.6 105.8 413.1 99.9 413.7 110.8 414.2 104.0 414.8 107.1 415.3 112.6 415.9 101.4 416.4 110.7 417.0 108.1 417.5 103.8 418.1 110.4 418.6 108.8 419.2 109.0 419.7 105.1 420.3 107.8 420.8 105.5 421.4 105.2 421.9 103.9 422.5 100.3 423.0 103.2 423.6 106.3 424.1 99.0 424.7 102.5 425.2 105.6 425.8 109.8 426.3 103.5 426.9 104.4 427.4 106.7 428.0 107.3 428.5 106.5 429.1 102.6 429.6 99.3 430.2 99.8 430.7 100.7 431.3 97.6 431.8 101.7 432.4 100.2 432.9 105.3 433.5 102.1 434.0 101.4 434.6 102.8 435.1 104.0 435.7 105.5 436.2 108.5 436.8 100.5 437.3 101.8 437.9 100.2 438.4 99.2 439.0 97.1 439.5 91.6 440.1 91.8 440.6 98.0 441.2 98.1 441.7 102.1 442.3 101.9 442.8 92.7 443.4 91.3 443.9 93.9 444.5 95.8 445.0 91.0 445.6 90.4 446.1 94.7 446.7 97.2 447.2 90.4 447.8 103.4 448.3 100.3 448.9 102.9 449.4 102.0 450.0 101.8 450.5 98.6 451.1 101.6 451.6 96.3 452.2 97.9 452.7 103.2 453.3 99.4 453.8 98.4 454.4 99.9 454.9 99.5 455.5 99.5 456.0 102.2 456.6 100.3 457.1 99.6 457.7 100.4 458.2 98.8 458.8 95.6 459.3 99.2 459.9 97.3 460.4 97.9 461.0 103.5 461.5 100.5 462.1 101.7 462.6 93.6 463.2 98.5 463.7 94.3 464.3 96.9 464.8 96.5 465.4 94.2 465.9 93.5 466.5 100.4 467.0 99.0 467.6 100.9 468.1 96.6 468.7 98.6 469.2 99.0 469.8 88.4 470.3 98.8 470.9 95.1 471.4 98.2 472.0 99.0 472.5 96.5 473.1 99.0 473.6 97.7 474.2 96.7 474.7 104.7 475.3 101.7 475.8 100.9 476.4 101.4 476.9 106.8 477.5 102.3 478.0 105.8 478.6 96.2 479.1 96.0 479.7 97.7 480.2 92.3 480.8 93.2 481.3 89.0 481.9 97.8 482.4 94.4 483.0 94.9 483.5 96.4 484.1 96.7 484.6 92.2 485.2 92.7 485.7 94.2 486.3 96.1 486.8 93.9 487.4 94.6 487.9 92.5 488.5 99.6 489.0 95.8 489.6 96.1 490.1 103.0 490.7 97.3 491.2 97.7 491.8 98.4 492.3 96.4 492.9 96.9 493.4 99.2 494.0 99.1 494.5 97.8 495.1 96.3 495.6 94.5 496.2 96.0 496.7 102.1 497.3 101.1 497.8 97.0 498.4 103.8 498.9 97.0 499.5 94.7 500.0 96.8 500.6 98.2 501.1 102.7 501.7 100.5 502.2 97.3 502.8 104.4 503.3 100.7 503.9 105.1 504.4 110.0 505.0 107.8 505.5 103.3 506.1 104.9 506.6 103.1 507.2 106.4 507.7 103.7 508.3 102.3 508.8 104.1 509.4 99.6 509.9 108.5 510.5 101.8 511.0 104.4 511.6 102.1 512.1 95.7 512.7 99.8 513.2 99.5 513.8 100.4 514.3 98.9 514.9 97.8 515.4 99.0 516.0 103.2 516.5 103.6 517.1 103.4 517.6 102.0 518.2 100.2 518.7 95.9 519.3 101.0 519.8 89.2 520.4 97.2 520.9 103.2 521.5 105.3 522.0 102.1 522.6 98.8 523.1 100.5 523.7 106.4 524.2 101.5 524.8 101.4 525.3 103.2 525.9 102.2 526.4 99.8 527.0 98.2 527.5 100.5 528.1 104.6 528.6 104.4 529.2 104.6 529.7 103.6 530.3 102.9 530.8 104.3 531.4 100.8 531.9 105.8 532.5 101.6 533.0 100.8 533.6 101.6 534.1 101.8 534.7 98.2 535.2 97.1 535.8 102.2 536.3 97.9 536.9 102.1 537.4 103.0 538.0 108.8 538.5 105.2 539.1 104.0 539.6 104.4 540.2 101.8 540.7 98.8 541.3 98.5 541.8 101.8 542.4 98.4 542.9 99.6 543.5 97.0 544.0 97.2 544.6 95.7 545.1 96.2 545.7 99.8 546.2 102.7 546.8 97.0 547.3 96.7 547.9 94.4 548.4 103.2 549.0 103.1 549.5 103.0 550.1 100.5 550.6 101.9 551.2 101.0 551.7 100.4 552.3 100.3 552.8 100.1 553.4 103.4 553.9 99.6 554.5 101.3 555.0 96.7 555.6 97.3 556.1 96.2 556.7 95.8 557.2 92.2 557.8 91.7 558.3 96.0 558.9 86.4 559.4 91.8 560.0 94.2 560.5 94.6 561.1 97.3 561.6 96.9 562.2 98.6 562.7 97.5 563.3 95.7 563.8 94.6 564.4 97.3 564.9 100.2 565.5 94.5 566.0 97.4 566.6 101.0 567.1 96.2 567.7 96.5 568.2 98.1 568.8 97.4 569.3 101.7 569.9 102.1 570.4 102.0 571.0 105.7 571.5 109.7 572.1 104.7 572.6 104.3 573.2 103.6 573.7 108.5 574.3 107.3 574.8 107.3 575.4 104.6 575.9 99.8 576.5 104.4 577.0 104.7 577.6 102.8 578.1 103.6 578.7 102.1 579.2 104.2 579.8 108.3 580.3 106.3 580.9 101.8 581.4 102.9 582.0 102.2 582.5 107.3 583.1 107.7 583.6 106.5 584.2 101.1 584.7 99.9 585.3 101.6 585.8 104.6 586.4 104.5 586.9 103.2 587.5 104.8 588.0 107.7 588.6 103.1 589.1 105.8 589.7 109.9 590.2 101.3 590.8 105.1 591.3 103.9 591.9 101.5 592.4 100.7 593.0 101.1 593.5 102.8 594.1 102.5 594.6 102.4 595.2 109.4 595.7 105.1 596.3 110.5 596.8 106.4 597.4 109.0 597.9 106.8 598.5 107.4 599.0 103.5 599.6 101.7 600.1 103.0 600.7 104.2 601.2 106.6 601.8 108.8 602.3 105.2 602.9 107.0 603.4 109.6 604.0 113.9 604.5 112.0 605.1 113.8 605.6 111.3 606.2 111.0 606.7 115.5 607.3 115.8 607.8 113.0 608.4 115.9 608.9 117.8 609.5 119.1 610.0 114.6 610.6 112.0 611.1 113.3 611.7 113.7 612.2 110.8 612.8 111.6 613.3 111.7 613.9 108.9 614.4 110.4 615.0 112.4 615.5 115.8 616.1 113.3 616.6 110.6 617.2 115.2 617.7 112.9 618.3 113.2 618.8 115.4 619.4 113.0 619.9 114.5 620.5 111.3 621.0 114.2 621.6 113.8 622.1 113.7 622.7 118.0 623.2 111.9 623.8 111.6 624.3 106.0 624.9 113.7 625.4 112.8 626.0 114.9 626.5 112.3 627.1 108.5 627.6 109.6 628.2 112.3 628.7 111.6 629.3 104.9 629.8 107.8 630.4 114.5 630.9 124.3 631.5 130.2 632.0 135.7 632.6 147.2 633.1 156.6 633.7 158.9 634.2 154.9 634.8 157.1 635.3 157.6 635.9 159.2 636.4 156.1 637.0 157.4 637.5 154.3 638.1 156.7 638.6 149.2 639.2 150.9 639.7 147.3 640.3 152.0 640.8 153.8 641.4 159.7 641.9 156.0 642.5 158.5 643.0 155.5 643.6 153.5 644.1 150.8 644.7 157.2 645.2 152.9 645.8 157.9 646.3 153.2 646.9 158.5 647.4 147.9 648.0 159.0 648.5 152.6 649.1 162.2 649.6 155.5 650.2 155.7 650.7 155.7 651.3 156.9 651.8 155.5 652.4 157.2 652.9 150.7 653.5 150.2 654.0 152.7 654.6 152.8 655.1 149.7 655.7 149.6 656.2 148.5 656.8 146.1 657.3 146.4 657.9 144.9 658.4 146.8 659.0 142.5 659.5 143.2 660.1 145.3 660.6 137.0 661.2 143.4 661.7 142.9 662.3 143.0 662.8 135.9 663.4 137.0 663.9 137.5 664.5 141.5 665.0 132.2 665.6 144.0 666.1 136.8 666.7 145.3 667.2 131.7 667.8 138.1 668.3 136.4 668.9 140.5 669.4 141.3 670.0 140.9 670.5 129.9 671.1 123.4 671.6 135.0 672.2 135.0 672.7 130.8 673.3 131.1 673.8 122.9 674.4 123.9 674.9 131.5 675.5 124.9 676.0 132.5 676.6 129.5 677.1 129.4 677.7 127.7 678.2 130.8 678.8 138.2 679.3 136.3 679.9 133.0 680.4 133.4 681.0 130.3 681.5 136.0 682.1 133.5 682.6 135.4 683.2 133.1 683.7 125.7 684.3 135.6 684.8 133.3 685.4 129.9 685.9 134.3 686.5 134.4 687.0 130.7 687.6 131.7 688.1 136.8 688.7 132.9 689.2 134.9 689.8 132.0 690.3 135.4 690.9 134.3 691.4 137.1 692.0 149.6 692.5 147.0 693.1 141.8 693.6 146.6 694.2 136.9 694.7 139.5 695.3 139.6 695.8 137.6 696.4 136.8 696.9 136.8 697.5 136.0 698.0 131.4 698.6 143.3 699.1 138.0 699.7 135.2 700.2 135.0 700.8 133.9 701.3 135.1 701.9 134.3 702.4 145.1 703.0 140.8 703.5 142.2 704.1 146.5 704.6 145.1 705.2 147.3 705.7 146.8 706.3 146.3 706.8 143.2 707.4 145.6 707.9 142.8 708.5 142.9 709.0 143.5 709.6 141.6 710.1 143.1 710.7 146.3 711.2 144.9 711.8 144.7 712.3 142.6 712.9 142.0 713.4 141.1 714.0 142.7 714.5 148.1 715.1 142.1 715.6 145.2 716.2 144.8 716.7 149.0 717.3 155.6 717.8 143.2 718.4 146.0 718.9 148.6 719.5 150.7 720.0 147.9 720.6 154.5 721.1 151.6 721.7 149.2 722.2 154.4 722.8 156.5 723.3 153.7 723.9 160.1 724.4 155.9 725.0 152.6 725.5 152.9 726.1 153.1 726.6 156.2 727.2 152.5 727.7 151.3 728.3 152.2 728.8 145.1 729.4 145.9 729.9 147.7 730.5 148.5 731.0 153.1 731.6 149.6 732.1 151.7 732.7 149.3 733.2 147.9 733.8 151.6 734.3 149.2 734.9 149.8 735.4 150.4 736.0 147.3 736.5 149.0 737.1 148.6 737.6 149.4 738.2 151.9 738.7 153.4 739.3 150.0 739.8 150.8 740.4 150.3 740.9 148.6 741.5 147.6 742.0 146.4 742.6 150.3 743.1 152.4 743.7 155.6 744.2 146.0 744.8 148.9 745.3 149.0 745.9 147.8 746.4 145.4 747.0 145.1 747.5 150.3 748.1 153.8 748.6 153.8 749.2 149.9 749.7 158.1 750.3 154.0 750.8 153.5 751.4 161.9 751.9 150.3 752.5 150.0 753.0 152.4 753.6 157.5 754.1 159.5 754.7 161.8 755.2 154.1 755.8 154.8 756.3 160.5 756.9 161.8 757.4 160.4 758.0 164.9 758.5 160.8 759.1 158.7 759.6 158.3 760.2 157.7 760.7 159.1 761.3 159.7 761.8 161.4 762.4 160.9 762.9 158.6 763.5 163.3 764.0 163.1 764.6 159.9 765.1 164.4 765.7 162.4 766.2 162.2 766.8 164.4 767.3 167.4 767.9 169.3 768.4 170.3 769.0 163.7 769.5 159.0 770.1 160.8 770.6 159.9 771.2 161.6 771.7 160.3 772.3 162.4 772.8 164.3 773.4 162.1 773.9 155.9 774.5 157.2 775.0 162.9 775.6 165.2 776.1 162.6 776.7 163.1 777.2 160.0 777.8 160.8 778.3 158.1 778.9 165.7 779.4 162.8 780.0 168.1 780.5 167.3 781.1 165.6 781.6 166.1 782.2 164.7 782.7 166.5 783.3 167.3 783.8 165.8 784.4 164.9 784.9 164.6 785.5 166.3 786.0 166.0 786.6 164.8 787.1 164.2 787.7 163.6 788.2 163.4 788.8 153.6 789.3 157.4 789.9 155.2 790.4 156.5 791.0 153.8 791.5 158.1 792.1 156.4 792.6 150.6 793.2 152.6 793.7 151.8 794.3 152.4 794.8 155.0 795.4 152.3 795.9 155.9 796.5 151.9 797.0 154.5 797.6 157.0 798.1 152.0 798.7 157.9 799.2 161.1 799.8 153.9 800.3 155.3 800.9 155.3 801.4 156.2 802.0 152.1 802.5 151.5 803.1 160.4 803.6 157.0 804.2 151.0 804.7 147.1 805.3 148.2 805.8 150.1 806.4 154.0 806.9 149.8 807.5 154.9 808.0 153.4 808.6 156.0 809.1 158.3 809.7 156.3 810.2 157.4 810.8 154.6 811.3 156.3 811.9 152.8 812.4 158.0 813.0 160.1 813.5 163.4 814.1 159.1 814.6 163.9 815.2 159.5 815.7 157.6 816.3 159.9 816.8 158.1 817.4 164.9 817.9 158.4 818.5 157.6 819.0 160.5 819.6 160.8 820.1 159.7 820.7 163.2 821.2 158.6 821.8 161.7 822.3 162.1 822.9 159.0 823.4 154.8 824.0 158.5 824.5 154.8 825.1 156.8 825.6 159.9 826.2 157.7 826.7 158.1 827.3 153.9 827.8 162.6 828.4 161.4 828.9 162.8 829.5 163.8 830.0 164.3 830.6 162.7 831.1 167.3 831.7 165.0 832.2 159.9 832.8 161.7 833.3 164.4 833.9 166.5 834.4 168.3 835.0 168.5 835.5 170.3 836.1 169.0 836.6 168.8 837.2 171.6 837.7 168.2 838.3 171.1 838.8 172.3 839.4 167.8 839.9 174.1 840.5 166.7 841.0 174.3 841.6 167.6 842.1 167.5 842.7 165.3 843.2 172.1 843.8 167.5 844.3 174.4 844.9 179.5 845.4 170.3 846.0 177.4 846.5 174.0 847.1 169.6 847.6 171.1 848.2 169.7 848.7 164.5 849.3 167.2 849.8 170.2 850.4 170.5 850.9 163.2 851.5 160.9 852.0 168.8 852.6 168.4 853.1 164.3 853.7 168.2 854.2 167.6 854.8 167.2 855.3 172.7 855.9 161.2 856.4 169.4 857.0 170.3 857.5 169.6 858.1 171.0 858.6 169.8 859.2 161.7 859.7 166.2 860.3 167.7 860.8 170.7 861.4 166.8 861.9 166.3 862.5 170.1 863.0 169.0 863.6 158.2 864.1 164.9 864.7 164.7 865.2 166.1 865.8 162.6 866.3 185.6 866.9 177.0 867.4 170.6 868.0 179.2 868.5 135.7 869.1 135.4 869.6 132.6 870.2 134.5 870.7 133.4 871.3 142.5 871.8 142.2 872.4 143.2 872.9 138.2 873.5 135.8 874.0 126.6 874.6 133.4 875.1 137.6 875.7 137.8 876.2 135.6 876.8 130.4 877.3 131.2 877.9 139.3 878.4 126.4 879.0 129.7 879.5 137.6 880.1 142.3 880.6 137.7 881.2 130.8 881.7 145.1 882.3 130.8 882.8 137.3 883.4 135.8 883.9 138.7 884.5 138.8 885.0 173.9 885.6 139.0 886.1 130.1 886.7 131.2 887.2 136.8 887.8 168.0 888.3 168.2 888.9 167.8 889.4 130.1 890.0 129.8 890.5 138.5 891.1 140.2 891.6 133.3 892.2 138.5 892.7 127.9 893.3 130.8 893.8 128.3 894.4 121.9 894.9 171.1 895.5 128.3 896.0 133.8 896.6 173.3 897.1 131.7 897.7 134.3 898.2 131.1 898.8 133.4 899.3 130.9 899.9 127.8 900.4 126.5 901.0 126.3 901.5 166.9 902.1 161.0 902.6 170.2 903.2 164.9 903.7 170.6 904.3 134.8 904.8 170.4 905.4 123.0 905.9 157.5 906.5 171.4 907.0 170.1 907.6 165.4 908.1 164.5 908.7 170.2 909.2 159.6 909.8 173.0 910.3 132.1 910.9 133.1 911.4 167.0 912.0 163.5 912.5 163.4 913.1 163.6 913.6 173.7 914.2 170.8 914.7 164.4 915.3 165.4 915.8 163.9 916.4 123.8 916.9 126.8 917.5 120.4 918.0 125.1 918.6 122.4 919.1 123.5 919.7 127.8 920.2 127.6 920.8 123.4 921.3 118.8 921.9 133.6 922.4 158.5 923.0 166.4 923.5 168.3 924.1 163.5 924.6 157.2 925.2 159.4 925.7 127.1 926.3 159.2 926.8 122.5 927.4 159.3 927.9 156.9 928.5 134.0 929.0 125.1 929.6 159.1 930.1 161.3 930.7 156.4 931.2 153.4 931.8 159.7 932.3 163.4 932.9 156.1 933.4 161.9 934.0 160.4 934.5 154.4 935.1 120.8 935.6 115.7 936.2 121.4 936.7 124.4 937.3 163.8 937.8 116.9 938.4 121.7 938.9 114.8 939.5 116.7 940.0 120.5 940.6 119.4 941.1 117.5 941.7 118.4 942.2 114.6 942.8 125.7 943.3 124.5 943.9 152.2 944.4 154.2 945.0 150.7 945.5 149.9 946.1 154.3 946.6 116.2 947.2 117.7 947.7 110.6 948.3 119.2 948.8 106.1 949.4 148.9 949.9 113.0 950.5 154.6 951.0 117.7 951.6 109.7 952.1 118.3 952.7 118.0 953.2 115.8 953.8 153.6 954.3 156.4 954.9 109.6 955.4 110.9 956.0 152.6 956.5 154.6 957.1 147.5 957.6 149.3 958.2 148.6 958.7 153.9 959.3 151.0 959.8 153.6 960.4 122.8 960.9 154.4 961.5 145.6 962.0 141.0 962.6 113.1 963.1 139.2 963.7 139.2 964.2 122.2 964.8 116.2 965.3 111.0 965.9 145.5 966.4 149.2 967.0 147.8 967.5 111.8 968.1 112.6 968.6 117.0 969.2 110.0 969.7 117.0 970.3 115.7 970.8 131.9 971.4 147.1 971.9 140.4 972.5 143.4 973.0 137.3 973.6 138.0 974.1 139.0 974.7 139.7 975.2 134.5 975.8 108.0 976.3 108.5 976.9 104.3 977.4 148.3 978.0 142.6 978.5 142.6 979.1 109.9 979.6 108.2 980.2 108.3 980.7 117.9 981.3 107.6 981.8 111.5 982.4 115.0 982.9 114.4 983.5 145.3 984.0 113.9 984.6 118.7 985.1 135.6 985.7 131.6 986.2 139.3 986.8 104.4 987.3 99.4 987.9 112.4 988.4 101.7 989.0 111.5 989.5 114.9 990.1 130.1 990.6 135.6 991.2 129.5 991.7 134.8 992.3 103.9 992.8 114.6 993.4 117.4 993.9 108.3 994.5 103.1 995.0 129.4 995.6 138.7 996.1 133.1 996.7 122.4 997.2 137.8 997.8 124.4 998.3 129.0 998.9 136.1 999.4 102.4 1000.0 88.4 1000.5 138.1 1001.1 122.0 1001.6 130.8 1002.2 128.3 1002.7 105.2 1003.3 137.4 1003.8 103.0 1004.4 104.5 1004.9 129.3 1005.5 135.6 1006.0 130.3 1006.6 146.8 1007.1 129.2 1007.7 126.2 1008.2 109.9 1008.8 103.1 1009.3 134.2 1009.9 132.9 1010.4 98.6 1011.0 101.6 1011.5 130.6 1012.1 122.1 1012.6 93.9 1013.2 98.8 1013.7 98.2 1014.3 91.6 1014.8 97.7 1015.4 97.2 1015.9 129.2 1016.5 127.9 1017.0 129.8 1017.6 129.6 1018.1 123.9 1018.7 126.5 1019.2 104.5 1019.8 126.7 1020.3 96.9 1020.9 97.5 1021.4 100.7 1022.0 91.4 1022.5 90.0 1023.1 95.1 1023.6 95.5 1024.2 120.7 1024.7 105.2 1025.3 96.0 1025.8 99.3 1026.4 90.0 1026.9 134.5 1027.5 126.1 1028.0 123.5 1028.6 121.0 1029.1 100.2 1029.7 94.0 1030.2 96.3 1030.8 95.0 1031.3 90.4 1031.9 86.9 1032.4 86.4 1033.0 85.7 1033.5 116.6 1034.1 132.0 1034.6 93.7 1035.2 96.5 1035.7 85.7 1036.3 118.5 1036.8 121.9 1037.4 102.3 1037.9 101.3 1038.5 102.7 1039.0 103.4 1039.6 87.1 1040.1 123.8 1040.7 90.9 1041.2 99.7 1041.8 102.7 1042.3 99.6 1042.9 85.4 1043.4 94.3 1044.0 106.3 1044.5 98.8 1045.1 91.5 1045.6 100.3 1046.2 93.2 1046.7 96.6 1047.3 98.1 1047.8 95.8 1048.4 93.1 1048.9 96.3 1049.5 96.9 1050.0 84.2 1050.6 87.1 1051.1 96.3 1051.7 89.4 1052.2 99.0 1052.8 100.7 1053.3 94.2 1053.9 99.3 1054.4 92.3 1055.0 96.2 1055.5 100.3 1056.1 94.5 1056.6 86.1 1057.2 89.2 1057.7 99.5 1058.3 104.8 1058.8 105.8 1059.4 101.1 1059.9 94.7 1060.5 98.7 1061.0 100.7 1061.6 91.0 1062.1 96.0 1062.7 94.6 1063.2 87.6 1063.8 85.0 1064.3 93.0 1064.9 95.2 1065.4 95.4 1066.0 96.8 1066.5 96.0 1067.1 98.2 1067.6 92.4 1068.2 85.5 1068.7 93.4 1069.3 92.9 1069.8 98.5 1070.4 93.5 1070.9 94.2 1071.5 96.3 1072.0 94.0 1072.6 90.6 1073.1 94.8 1073.7 89.0 1074.2 96.0 1074.8 81.5 1075.3 90.3 1075.9 96.8 1076.4 97.2 1077.0 90.7 1077.5 84.9 1078.1 94.1 1078.6 89.7 1079.2 90.3 1079.7 94.3 1080.3 103.3 1080.8 89.8 1081.4 95.2 1081.9 98.2 1082.5 108.4 1083.0 89.4 1083.6 101.3 1084.1 100.7 1084.7 99.0 1085.2 97.6 1085.8 96.7 1086.3 100.5 1086.9 100.6 1087.4 106.3 1088.0 101.5 1088.5 105.7 1089.1 107.4 1089.6 104.8 1090.2 103.1 1090.7 104.6 1091.3 102.6 1091.8 106.3 1092.4 103.0 1092.9 106.0 1093.5 107.4 1094.0 104.1 1094.6 109.2 1095.1 100.0 1095.7 102.7 1096.2 109.6 1096.8 102.5 1097.3 102.7 1097.9 103.7 1098.4 102.8 1099.0 106.2 1099.5 99.3 1100.1 102.0 1100.6 107.7 1101.2 102.5 1101.7 97.9 1102.3 91.9 1102.8 96.8 1103.4 103.6 1103.9 99.6 1104.5 98.6 1105.0 102.2 1105.6 89.3 1106.1 94.7 1106.7 100.7 1107.2 101.0 1107.8 102.1 1108.3 101.4 1108.9 106.6 1109.4 106.2 1110.0 109.6 1110.5 101.3 1111.1 102.9 1111.6 115.1 1112.2 105.4 1112.7 101.8 1113.3 101.9 1113.8 105.2 1114.4 106.5 1114.9 102.7 1115.5 102.3 1116.0 104.0 1116.6 108.7 1117.1 100.1 1117.7 110.6 1118.2 108.5 1118.8 95.9 1119.3 100.9 1119.9 102.3 1120.4 101.6 1121.0 96.3 1121.5 115.1 1122.1 105.9 1122.6 108.6 1123.2 107.8 1123.7 105.6 1124.3 99.7 1124.8 103.9 1125.4 103.4 1125.9 103.4 1126.5 101.5 1127.0 114.0 1127.6 92.4 1128.1 106.2 1128.7 100.7 1129.2 102.2 1129.8 93.9 1130.3 114.2 1130.9 105.1 1131.4 98.4 1132.0 98.0 1132.5 102.0 1133.1 101.3 1133.6 102.1 1134.2 103.8 1134.7 98.8 1135.3 93.4 1135.8 102.3 1136.4 108.1 1136.9 103.0 1137.5 103.5 1138.0 99.2 1138.6 102.0 1139.1 105.5 1139.7 101.4 1140.2 102.8 1140.8 96.1 1141.3 101.0 1141.9 101.8 1142.4 106.4 1143.0 103.5 1143.5 103.8 1144.1 100.1 1144.6 103.6 1145.2 104.5 1145.7 108.0 1146.3 109.1 1146.8 96.3 1147.4 93.0 1147.9 103.8 1148.5 106.6 1149.0 104.0 1149.6 107.2 1150.1 105.8 1150.7 109.3 1151.2 103.4 1151.8 102.0 1152.3 94.3 1152.9 106.3 1153.4 106.7 1154.0 96.7 1154.5 101.8 1155.1 106.0 1155.6 101.2 1156.2 97.2 1156.7 96.8 1157.3 102.0 1157.8 105.3 1158.4 103.3 1158.9 107.6 1159.5 104.5 1160.0 105.6 1160.6 100.8 1161.1 91.6 1161.7 104.3 1162.2 98.6 1162.8 97.9 1163.3 100.0 1163.9 96.2 1164.4 96.4 1165.0 94.7 1165.5 101.0 1166.1 85.9 1166.6 89.9 1167.2 84.0 1167.7 90.3 1168.3 87.4 1168.8 96.3 1169.4 94.7 1169.9 92.3 1170.5 94.0 1171.0 96.1 1171.6 96.8 1172.1 92.8 1172.7 101.1 1173.2 94.7 1173.8 96.0 1174.3 84.2 1174.9 95.1 1175.4 91.2 1176.0 94.2 1176.5 102.0 1177.1 94.3 1177.6 93.4 1178.2 86.2 1178.7 105.0 1179.3 102.7 1179.8 95.8 1180.4 91.7 1180.9 87.9 1181.5 90.5 1182.0 90.1 1182.6 91.1 1183.1 85.6 1183.7 94.1 1184.2 88.6 1184.8 94.0 1185.3 92.0 1185.9 81.4 1186.4 89.4 1187.0 89.7 1187.5 100.9 1188.1 86.5 1188.6 86.1 1189.2 82.6 1189.7 86.4 1190.3 82.6 1190.8 90.0 1191.4 85.4 1191.9 82.3 1192.5 78.3 1193.0 90.3 1193.6 84.2 1194.1 88.5 1194.7 86.1 1195.2 89.9 1195.8 90.5 1196.3 94.4 1196.9 89.3 1197.4 84.6 1198.0 86.3 1198.5 85.7 1199.1 91.5 1199.6 88.1 1200.2 76.1 1200.7 87.8 1201.3 82.0 1201.8 87.0 1202.4 94.3 1202.9 86.9 1203.5 87.1 1204.0 90.8 1204.6 91.7 1205.1 89.9 1205.7 88.7 1206.2 88.9 1206.8 84.2 1207.3 91.7 1207.9 91.0 1208.4 85.9 1209.0 92.7 1209.5 84.3 1210.1 86.7 1210.6 91.4 1211.2 88.1 1211.7 95.5 1212.3 92.4 1212.8 96.3 1213.4 83.8 1213.9 92.6 1214.5 87.9 1215.0 89.7 1215.6 94.2 1216.1 94.5 1216.7 100.2 1217.2 105.4 1217.8 94.0 1218.3 89.0 1218.9 97.8 1219.4 92.8 1220.0 96.8 1220.5 89.7 1221.1 103.8 1221.6 97.1 1222.2 85.4 1222.7 93.1 1223.3 96.1 1223.8 99.8 1224.4 103.2 1224.9 102.7 1225.5 101.2 1226.0 101.7 1226.6 96.5 1227.1 91.2 1227.7 97.4 1228.2 103.6 1228.8 103.8 1229.3 99.4 1229.9 104.8 1230.4 98.0 1231.0 106.1 1231.5 108.1 1232.1 105.1 1232.6 105.2 1233.2 108.4 1233.7 101.1 1234.3 106.6 1234.8 108.5 1235.4 102.7 1235.9 107.4 1236.5 104.5 1237.0 105.6 1237.6 104.2"/>
<path stroke="#0000ff" d="M98.0 106.8 98.5 103.3 99.1 104.6 99.6 105.4 100.2 105.0 100.7 106.7 101.3 108.2 101.8 108.2 102.4 108.2 102.9 109.1 103.5 109.0 104.0 110.1 104.6 107.4 105.1 109.6 105.7 109.8 106.2 109.4 106.8 108.3 107.3 106.0 107.9 102.5 108.4 105.8 109.0 106.1 109.5 106.7 110.1 108.6 110.6 111.0 111.2 112.5 111.7 111.4 112.3 113.5 112.8 114.1 113.4 117.0 113.9 116.0 114.5 119.3 115.0 119.8 115.6 118.5 116.1 119.6 116.7 119.6 117.2 118.3 117.8 116.0 118.3 118.7 118.9 117.2 119.4 118.4 120.0 117.1 120.5 105.7 121.1 97.9 121.6 95.7 122.2 96.9 122.7 96.7 123.3 96.4 123.8 96.4 124.4 96.9 124.9 97.4 125.5 97.8 126.0 98.5 126.6 97.0 127.1 98.1 127.7 97.4 128.2 97.2 128.8 98.3 129.3 97.4 129.9 99.3 130.4 98.4 131.0 98.3 131.5 97.4 132.1 98.9 132.6 98.8 133.2 98.2 133.7 97.9 134.3 97.1 134.8 97.3 135.4 96.7 135.9 97.3 136.5 96.3 137.0 97.9 137.6 97.6 138.1 98.4 138.7 99.1 139.2 97.1 139.8 96.9 140.3 99.5 140.9 100.2 141.4 98.8 142.0 97.0 142.5 101.6 143.1 101.3 143.6 99.7 144.2 101.4 144.7 102.9 145.3 101.4 145.8 100.4 146.4 104.2 146.9 102.6 147.5 102.4 148.0 101.6 148.6 100.7 149.1 102.0 149.7 101.6 150.2 101.6 150.8 100.4 151.3 99.6 151.9 99.7 152.4 100.5 153.0 98.4 153.5 99.9 154.1 99.5 154.6 100.6 155.2 101.5 155.7 102.6 156.3 101.2 156.8 102.1 157.4 100.8 157.9 103.2 158.5 102.5 159.0 103.6 159.6 104.1 160.1 107.7 160.7 105.2 161.2 101.1 161.8 102.9 162.3 103.7 162.9 105.8 163.4 106.4 164.0 104.4 164.5 103.9 165.1 102.8 165.6 103.2 166.2 101.4 166.7 101.4 167.3 100.6 167.8 101.1 168.4 100.2 168.9 101.5 169.5 100.6 170.0 100.6 170.6 102.3 171.1 98.7 171.7 100.5 172.2 98.5 172.8 99.9 173.3 101.4 173.9 103.4 174.4 103.3 175.0 103.6 175.5 104.3 176.1 105.6 176.6 103.4 177.2 103.4 177.7 106.8 178.3 104.7 178.8 104.5 179.4 102.6 179.9 104.7 180.5 102.4 181.0 101.5 181.6 100.1 182.1 100.7 182.7 101.1 183.2 101.6 183.8 102.6 184.3 101.7 184.9 101.3 185.4 102.2 186.0 101.5 186.5 101.1 187.1 100.7 187.6 99.7 188.2 101.3 188.7 103.8 189.3 101.6 189.8 103.5 190.4 105.4 190.9 105.1 191.5 101.9 192.0 106.5 192.6 105.5 193.1 105.7 193.7 104.7 194.2 105.4 194.8 106.0 195.3 106.6 195.9 107.2 196.4 105.5 197.0 105.3 197.5 105.9 198.1 106.8 198.6 106.7 199.2 108.3 199.7 109.3 200.3 107.3 200.8 107.8 201.4 105.9 201.9 106.6 202.5 106.5 203.0 105.8 203.6 106.3 204.1 104.5 204.7 105.2 205.2 105.6 205.8 104.6 206.3 101.2 206.9 103.5 207.4 100.8 208.0 102.1 208.5 101.4 209.1 101.4 209.6 98.5 210.2 103.0 210.7 102.8 211.3 103.6 211.8 102.8 212.4 102.4 212.9 103.5 213.5 102.8 214.0 102.1 214.6 102.5 215.1 104.2 215.7 102.2 216.2 104.4 216.8 105.6 217.3 105.3 217.9 105.3 218.4 104.8 219.0 104.1 219.5 103.0 220.1 105.1 220.6 103.6 221.2 103.6 221.7 103.6 222.3 106.0 222.8 105.0 223.4 105.8 223.9 107.4 224.5 108.8 225.0 105.0 225.6 106.8 226.1 106.8 226.7 106.2 227.2 107.6 227.8 109.6 228.3 109.8 228.9 110.8 229.4 112.3 230.0 115.2 230.5 113.2 231.1 113.6 231.6 113.7 232.2 111.6 232.7 110.4 233.3 110.6 233.8 109.0 234.4 107.1 234.9 110.9 235.5 110.1 236.0 110.0 236.6 110.0 237.1 108.5 237.7 112.8 238.2 111.1 238.8 110.5 239.3 111.0 239.9 110.4 240.4 111.8 241.0 108.1 241.5 109.5 242.1 108.3 242.6 108.3 243.2 107.6 243.7 110.3 244.3 110.9 244.8 111.3 245.4 107.8 245.9 109.5 246.5 110.9 247.0 111.7 247.6 111.5 248.1 111.1 248.7 110.5 249.2 108.2 249.8 108.8 250.3 110.7 250.9 113.5 251.4 110.1 252.0 111.6 252.5 112.0 253.1 111.6 253.6 112.7 254.2 111.2 254.7 113.1 255.3 113.0 255.8 111.2 256.4 110.1 256.9 110.6 257.5 112.8 258.0 111.3 258.6 111.8 259.1 109.6 259.7 112.4 260.2 112.4 260.8 112.1 261.3 112.7 261.9 113.1 262.4 111.6 263.0 110.5 263.5 109.6 264.1 108.0 264.6 110.6 265.2 110.3 265.7 109.7 266.3 111.2 266.8 111.3 267.4 113.7 267.9 112.8 268.5 114.8 269.0 115.1 269.6 113.0 270.1 114.5 270.7 114.8 271.2 117.7 271.8 119.6 272.3 118.6 272.9 119.8 273.4 119.9 274.0 116.8 274.5 118.0 275.1 118.3 275.6 115.9 276.2 116.2 276.7 114.1 277.3 113.2 277.8 115.2 278.4 116.4 278.9 117.3 279.5 116.0 280.0 116.6 280.6 115.3 281.1 117.2 281.7 114.3 282.2 115.6 282.8 113.7 283.3 113.9 283.9 112.6 284.4 111.8 285.0 108.9 285.5 109.3 286.1 107.8 286.6 110.1 287.2 111.1 287.7 112.4 288.3 109.5 288.8 109.9 289.4 111.0 289.9 109.9 290.5 110.9 291.0 111.6 291.6 108.9 292.1 111.8 292.7 110.0 293.2 111.8 293.8 109.8 294.3 110.4 294.9 110.8 295.4 111.9 296.0 111.8 296.5 112.8 297.1 111.6 297.6 116.1 298.2 115.1 298.7 112.5 299.3 114.8 299.8 115.8 300.4 115.1 300.9 115.4 301.5 116.3 302.0 116.3 302.6 116.6 303.1 115.7 303.7 116.2 304.2 117.1 304.8 117.9 305.3 114.6 305.9 116.9 306.4 116.5 307.0 116.1 307.5 116.5 308.1 115.9 308.6 115.5 309.2 114.7 309.7 114.2 310.3 117.3 310.8 117.9 311.4 119.6 311.9 116.8 312.5 118.9 313.0 117.1 313.6 117.3 314.1 117.5 314.7 117.5 315.2 116.3 315.8 115.7 316.3 117.2 316.9 116.4 317.4 117.0 318.0 114.2 318.5 116.7 319.1 116.9 319.6 117.2 320.2 119.7 320.7 119.1 321.3 115.6 321.8 118.5 322.4 121.0 322.9 118.9 323.5 117.5 324.0 117.2 324.6 119.2 325.1 118.4 325.7 121.5 326.2 122.5 326.8 124.1 327.3 119.9 327.9 119.8 328.4 119.8 329.0 121.2 329.5 120.1 330.1 120.0 330.6 120.7 331.2 121.4 331.7 121.1 332.3 123.0 332.8 123.4 333.4 122.7 333.9 121.8 334.5 121.4 335.0 121.4 335.6 122.2 336.1 123.8 336.7 122.8 337.2 121.5 337.8 120.3 338.3 122.7 338.9 119.9 339.4 121.0 340.0 120.1 340.5 120.8 341.1 119.2 341.6 119.6 342.2 121.4 342.7 119.0 343.3 120.5 343.8 119.0 344.4 119.6 344.9 118.5 345.5 119.3 346.0 119.3 346.6 120.6 347.1 120.0 347.7 120.6 348.2 119.7 348.8 118.8 349.3 118.7 349.9 119.4 350.4 117.0 351.0 117.7 351.5 119.1 352.1 116.7 352.6 116.0 353.2 117.9 353.7 115.2 354.3 117.0 354.8 117.8 355.4 117.6 355.9 116.0 356.5 115.6 357.0 118.2 357.6 116.2 358.1 116.3 358.7 116.7 359.2 117.7 359.8 117.7 360.3 117.4 360.9 118.5 361.4 115.6 362.0 116.0 362.5 115.7 363.1 115.6 363.6 119.6 364.2 119.5 364.7 119.6 365.3 119.1 365.8 120.2 366.4 119.9 366.9 118.6 367.5 118.2 368.0 118.3 368.6 119.4 369.1 118.9 369.7 118.3 370.2 114.9 370.8 118.0 371.3 119.5 371.9 120.3 372.4 121.0 373.0 117.5 373.5 120.0 374.1 118.7 374.6 120.8 375.2 120.0 375.7 118.7 376.3 120.0 376.8 122.0 377.4 122.5 377.9 122.4 378.5 121.6 379.0 119.8 379.6 119.6 380.1 119.8 380.7 123.6 381.2 122.2 381.8 124.0 382.3 120.8 382.9 122.4 383.4 121.1 384.0 121.4 384.5 122.3 385.1 122.4 385.6 122.8 386.2 123.5 386.7 124.5 387.3 126.2 387.8 129.3 388.4 129.7 388.9 131.2 389.5 131.3 390.0 132.0 390.6 132.7 391.1 131.4 391.7 132.0 392.2 132.4 392.8 131.3 393.3 135.1 393.9 138.4 394.4 136.0 395.0 135.9 395.5 134.8 396.1 134.9 396.6 135.7 397.2 134.0 397.7 132.6 398.3 133.8 398.8 130.7 399.4 132.5 399.9 131.3 400.5 131.0 401.0 131.6 401.6 131.3 402.1 127.2 402.7 129.7 403.2 126.6 403.8 128.1 404.3 127.3 404.9 128.4 405.4 127.6 406.0 127.9 406.5 129.9 407.1 126.2 407.6 125.0 408.2 124.6 408.7 126.6 409.3 130.6 409.8 128.5 410.4 129.9 410.9 127.3 411.5 129.4 412.0 131.7 412.6 133.0 413.1 132.1 413.7 136.3 414.2 134.6 414.8 133.2 415.3 137.5 415.9 134.9 416.4 134.4 417.0 134.3 417.5 135.6 418.1 135.1 418.6 132.9 419.2 133.6 419.7 132.3 420.3 131.9 420.8 134.4 421.4 136.2 421.9 136.8 422.5 132.9 423.0 135.5 423.6 137.2 424.1 132.9 424.7 138.5 425.2 132.2 425.8 133.5 426.3 133.2 426.9 135.2 427.4 134.2 428.0 131.5 428.5 131.4 429.1 132.4 429.6 132.4 430.2 134.6 430.7 135.8 431.3 134.4 431.8 132.8 432.4 132.9 432.9 131.4 433.5 133.3 434.0 131.3 434.6 138.1 435.1 134.5 435.7 133.8 436.2 137.2 436.8 134.6 437.3 139.2 437.9 129.2 438.4 133.4 439.0 134.7 439.5 135.0 440.1 133.8 440.6 132.8 441.2 134.4 441.7 136.8 442.3 130.2 442.8 135.8 443.4 135.3 443.9 135.9 444.5 139.0 445.0 138.7 445.6 139.1 446.1 135.7 446.7 140.6 447.2 140.3 447.8 136.9 448.3 135.6 448.9 140.6 449.4 142.7 450.0 140.3 450.5 139.9 451.1 140.5 451.6 141.6 452.2 141.2 452.7 141.5 453.3 138.1 453.8 141.2 454.4 142.0 454.9 143.5 455.5 145.3 456.0 145.3 456.6 142.5 457.1 142.3 457.7 142.6 458.2 143.8 458.8 140.7 459.3 145.6 459.9 147.6 460.4 141.5 461.0 138.3 461.5 141.3 462.1 140.1 462.6 137.4 463.2 134.2 463.7 139.0 464.3 136.3 464.8 142.0 465.4 136.8 465.9 139.8 466.5 140.7 467.0 141.0 467.6 139.5 468.1 140.0 468.7 140.9 469.2 141.2 469.8 141.5 470.3 139.0 470.9 140.5 471.4 141.1 472.0 142.4 472.5 137.9 473.1 140.8 473.6 143.4 474.2 140.4 474.7 141.7 475.3 139.0 475.8 141.8 476.4 140.9 476.9 139.3 477.5 136.8 478.0 142.3 478.6 144.3 479.1 142.5 479.7 145.7 480.2 140.8 480.8 139.3 481.3 143.5 481.9 141.2 482.4 142.2 483.0 141.6 483.5 139.5 484.1 141.0 484.6 139.7 485.2 142.5 485.7 137.5 486.3 140.6 486.8 139.7 487.4 135.7 487.9 142.6 488.5 146.3 489.0 142.5 489.6 143.3 490.1 142.5 490.7 145.7 491.2 147.2 491.8 147.6 492.3 147.1 492.9 149.8 493.4 145.1 494.0 145.3 494.5 144.9 495.1 145.7 495.6 148.9 496.2 143.7 496.7 142.8 497.3 144.3 497.8 141.6 498.4 145.2 498.9 144.4 499.5 141.5 500.0 141.4 500.6 141.7 501.1 143.4 501.7 143.5 502.2 143.2 502.8 138.5 503.3 143.9 503.9 145.4 504.4 142.6 505.0 143.0 505.5 142.3 506.1 144.3 506.6 145.1 507.2 150.4 507.7 147.0 508.3 150.7 508.8 144.9 509.4 144.2 509.9 140.7 510.5 142.8 511.0 139.8 511.6 144.2 512.1 142.4 512.7 136.7 513.2 144.8 513.8 137.3 514.3 142.0 514.9 143.4 515.4 140.8 516.0 141.9 516.5 140.7 517.1 143.7 517.6 145.8 518.2 138.0 518.7 140.4 519.3 139.3 519.8 139.7 520.4 144.0 520.9 139.4 521.5 138.6 522.0 138.7 522.6 137.0 523.1 137.9 523.7 139.2 524.2 138.4 524.8 137.6 525.3 136.4 525.9 139.2 526.4 136.5 527.0 138.8 527.5 143.2 528.1 140.5 528.6 141.3 529.2 139.1 529.7 138.7 530.3 137.7 530.8 137.9 531.4 134.5 531.9 135.7 532.5 136.0 533.0 133.9 533.6 135.1 534.1 136.3 534.7 136.0 535.2 135.0 535.8 134.5 536.3 136.6 536.9 134.8 537.4 137.1 538.0 136.3 538.5 134.7 539.1 136.3 539.6 137.6 540.2 138.6 540.7 135.3 541.3 143.7 541.8 139.9 542.4 138.4 542.9 140.0 543.5 142.4 544.0 142.8 544.6 137.2 545.1 139.4 545.7 140.5 546.2 140.0 546.8 144.0 547.3 147.3 547.9 142.0 548.4 146.3 549.0 144.1 549.5 138.3 550.1 137.1 550.6 139.2 551.2 139.2 551.7 138.3 552.3 139.1 552.8 137.8 553.4 136.8 553.9 142.5 554.5 140.4 555.0 141.2 555.6 141.1 556.1 143.9 556.7 139.6 557.2 140.8 557.8 141.1 558.3 140.8 558.9 141.4 559.4 141.5 560.0 144.7 560.5 141.1 561.1 140.1 561.6 140.5 562.2 140.2 562.7 139.7 563.3 142.8 563.8 141.6 564.4 143.5 564.9 144.3 565.5 144.0 566.0 141.1 566.6 142.5 567.1 142.7 567.7 143.9 568.2 142.8 568.8 141.6 569.3 143.7 569.9 143.5 570.4 143.3 571.0 143.1 571.5 145.3 572.1 145.4 572.6 144.9 573.2 143.7 573.7 145.1 574.3 143.5 574.8 144.2 575.4 144.9 575.9 143.7 576.5 146.2 577.0 140.9 577.6 144.7 578.1 145.1 578.7 143.7 579.2 145.6 579.8 145.4 580.3 144.5 580.9 142.8 581.4 144.2 582.0 142.6 582.5 139.8 583.1 145.8 583.6 140.6 584.2 146.3 584.7 143.3 585.3 145.9 585.8 142.4 586.4 138.8 586.9 141.7 587.5 142.8 588.0 142.8 588.6 142.5 589.1 140.9 589.7 138.4 590.2 137.6 590.8 140.4 591.3 140.7 591.9 141.3 592.4 139.6 593.0 142.7 593.5 143.3 594.1 141.1 594.6 141.3 595.2 140.3 595.7 142.8 596.3 142.1 596.8 142.8 597.4 142.8 597.9 143.6 598.5 141.4 599.0 142.4 599.6 144.3 600.1 141.1 600.7 139.9 601.2 141.4 601.8 141.7 602.3 143.9 602.9 144.4 603.4 147.7 604.0 144.5 604.5 144.3 605.1 142.4 605.6 142.8 606.2 142.0 606.7 143.5 607.3 140.5 607.8 140.1 608.4 140.2 608.9 136.9 609.5 135.4 610.0 135.4 610.6 133.9 611.1 139.2 611.7 139.6 612.2 138.0 612.8 136.4 613.3 132.5 613.9 135.8 614.4 135.4 615.0 136.5 615.5 136.3 616.1 135.4 616.6 135.3 617.2 135.3 617.7 138.5 618.3 142.5 618.8 138.3 619.4 136.7 619.9 138.2 620.5 135.5 621.0 135.1 621.6 132.1 622.1 137.7 622.7 137.9 623.2 134.3 623.8 134.9 624.3 132.6 624.9 142.5 625.4 137.8 626.0 138.9 626.5 138.5 627.1 134.4 627.6 142.9 628.2 137.6 628.7 140.6 629.3 139.7 629.8 140.0 630.4 133.6 630.9 128.3 631.5 119.3 632.0 115.7 632.6 110.4 633.1 105.0 633.7 103.9 634.2 104.1 634.8 106.8 635.3 107.9 635.9 102.7 636.4 105.5 637.0 103.2 637.5 106.4 638.1 101.5 638.6 104.1 639.2 108.5 639.7 108.0 640.3 106.8 640.8 110.2 641.4 109.3 641.9 110.2 642.5 109.8 643.0 111.1 643.6 110.3 644.1 109.9 644.7 110.8 645.2 107.9 645.8 110.0 646.3 110.3 646.9 109.0 647.4 109.5 648.0 110.4 648.5 110.7 649.1 112.2 649.6 111.6 650.2 114.5 650.7 113.1 651.3 109.5 651.8 112.3 652.4 112.5 652.9 111.9 653.5 111.4 654.0 112.2 654.6 107.0 655.1 109.8 655.7 111.9 656.2 110.8 656.8 114.9 657.3 113.4 657.9 114.7 658.4 113.2 659.0 113.4 659.5 115.6 660.1 110.6 660.6 118.1 661.2 115.7 661.7 119.0 662.3 118.4 662.8 119.1 663.4 119.7 663.9 117.8 664.5 117.2 665.0 120.7 665.6 121.4 666.1 118.1 666.7 123.4 667.2 121.6 667.8 122.1 668.3 124.2 668.9 122.9 669.4 121.6 670.0 120.3 670.5 123.5 671.1 123.7 671.6 127.9 672.2 124.0 672.7 123.3 673.3 124.2 673.8 124.4 674.4 122.3 674.9 128.0 675.5 130.3 676.0 131.0 676.6 130.3 677.1 131.0 677.7 126.2 678.2 133.2 678.8 128.2 679.3 128.9 679.9 129.7 680.4 129.4 681.0 130.8 681.5 131.2 682.1 130.1 682.6 126.8 683.2 126.8 683.7 126.6 684.3 128.2 684.8 125.5 685.4 124.9 685.9 125.8 686.5 129.5 687.0 127.1 687.6 125.0 688.1 129.2 688.7 129.3 689.2 132.3 689.8 134.5 690.3 130.5 690.9 131.5 691.4 131.5 692.0 132.1 692.5 134.2 693.1 132.8 693.6 135.3 694.2 130.7 694.7 130.8 695.3 129.0 695.8 131.7 696.4 128.3 696.9 127.0 697.5 130.2 698.0 129.1 698.6 126.8 699.1 127.2 699.7 127.5 700.2 128.3 700.8 127.8 701.3 127.2 701.9 131.0 702.4 130.7 703.0 131.5 703.5 129.5 704.1 127.0 704.6 128.7 705.2 128.3 705.7 123.4 706.3 126.8 706.8 126.6 707.4 127.7 707.9 124.2 708.5 119.7 709.0 119.6 709.6 122.7 710.1 121.1 710.7 123.9 711.2 122.0 711.8 120.1 712.3 115.9 712.9 121.6 713.4 117.9 714.0 120.5 714.5 116.0 715.1 119.8 715.6 119.7 716.2 123.0 716.7 119.7 717.3 120.6 717.8 118.0 718.4 118.1 718.9 119.0 719.5 120.1 720.0 120.3 720.6 120.3 721.1 122.8 721.7 119.4 722.2 121.6 722.8 119.4 723.3 122.6 723.9 117.9 724.4 121.9 725.0 122.8 725.5 116.9 726.1 120.1 726.6 119.1 727.2 119.1 727.7 112.7 728.3 115.4 728.8 117.8 729.4 118.9 729.9 118.5 730.5 120.0 731.0 119.6 731.6 120.3 732.1 123.0 732.7 119.1 733.2 124.0 733.8 121.2 734.3 119.8 734.9 118.0 735.4 117.4 736.0 116.3 736.5 117.2 737.1 118.8 737.6 116.5 738.2 118.9 738.7 120.3 739.3 119.3 739.8 118.6 740.4 117.2 740.9 117.9 741.5 117.5 742.0 118.7 742.6 117.6 743.1 117.7 743.7 118.1 744.2 115.3 744.8 116.3 745.3 117.5 745.9 116.7 746.4 115.8 747.0 113.8 747.5 115.6 748.1 111.8 748.6 116.5 749.2 116.1 749.7 115.3 750.3 120.1 750.8 117.3 751.4 117.9 751.9 119.1 752.5 119.1 753.0 111.2 753.6 115.9 754.1 115.7 754.7 113.0 755.2 116.0 755.8 116.4 756.3 118.3 756.9 112.3 757.4 108.3 758.0 112.5 758.5 113.6 759.1 111.8 759.6 111.8 760.2 110.0 760.7 112.4 761.3 111.4 761.8 109.2 762.4 105.6 762.9 108.7 763.5 108.4 764.0 111.5 764.6 111.8 765.1 117.6 765.7 112.7 766.2 111.5 766.8 111.5 767.3 112.4 767.9 107.6 768.4 105.9 769.0 109.5 769.5 109.7 770.1 105.1 770.6 110.9 771.2 107.6 771.7 108.1 772.3 109.3 772.8 111.7 773.4 107.8 773.9 110.0 774.5 109.7 775.0 111.2 775.6 107.6 776.1 109.5 776.7 110.3 777.2 116.1 777.8 117.0 778.3 117.6 778.9 114.3 779.4 111.2 780.0 113.2 780.5 113.0 781.1 116.3 781.6 117.2 782.2 116.5 782.7 117.6 783.3 117.0 783.8 117.3 784.4 114.1 784.9 117.7 785.5 113.7 786.0 116.4 786.6 118.5 787.1 119.0 787.7 119.6 788.2 120.2 788.8 120.9 789.3 122.8 789.9 123.3 790.4 122.2 791.0 122.6 791.5 121.5 792.1 122.5 792.6 126.6 793.2 126.5 793.7 126.0 794.3 125.3 794.8 124.3 795.4 126.6 795.9 125.7 796.5 120.5 797.0 126.1 797.6 128.2 798.1 127.1 798.7 126.4 799.2 125.9 799.8 125.1 800.3 123.2 800.9 123.9 801.4 125.7 802.0 125.3 802.5 124.9 803.1 127.8 803.6 123.1 804.2 122.6 804.7 123.7 805.3 125.1 805.8 123.3 806.4 125.8 806.9 126.0 807.5 127.3 808.0 128.2 808.6 125.1 809.1 121.2 809.7 123.2 810.2 121.4 810.8 123.0 811.3 122.4 811.9 125.1 812.4 123.6 813.0 123.9 813.5 121.1 814.1 121.7 814.6 125.1 815.2 127.7 815.7 128.3 816.3 126.0 816.8 129.0 817.4 126.9 817.9 128.6 818.5 128.4 819.0 127.5 819.6 129.0 820.1 126.3 820.7 127.9 821.2 129.7 821.8 127.4 822.3 129.3 822.9 128.9 823.4 128.5 824.0 131.3 824.5 129.1 825.1 130.7 825.6 132.3 826.2 132.5 826.7 131.3 827.3 129.2 827.8 131.2 828.4 128.1 828.9 129.1 829.5 128.4 830.0 125.5 830.6 131.0 831.1 132.7 831.7 134.9 832.2 133.0 832.8 132.5 833.3 132.0 833.9 134.5 834.4 131.8 835.0 131.1 835.5 130.2 836.1 134.5 836.6 132.3 837.2 133.2 837.7 134.4 838.3 130.2 838.8 131.6 839.4 126.2 839.9 131.9 840.5 131.8 841.0 133.5 841.6 132.4 842.1 134.6 842.7 133.6 843.2 131.0 843.8 130.3 844.3 133.2 844.9 132.0 845.4 131.4 846.0 133.4 846.5 132.2 847.1 133.3 847.6 126.7 848.2 129.1 848.7 130.5 849.3 128.9 849.8 127.0 850.4 130.4 850.9 133.6 851.5 130.6 852.0 131.7 852.6 133.2 853.1 133.9 853.7 134.9 854.2 134.8 854.8 133.6 855.3 130.8 855.9 131.0 856.4 133.7 857.0 136.3 857.5 132.3 858.1 133.4 858.6 132.5 859.2 131.7 859.7 129.7 860.3 132.0 860.8 127.3 861.4 126.6 861.9 127.2 862.5 124.1 863.0 123.0 863.6 123.2 864.1 123.6 864.7 115.8 865.2 124.8 865.8 115.7 866.3 115.5 866.9 115.5 867.4 107.0 868.0 112.9 868.5 129.7 869.1 124.7 869.6 121.9 870.2 118.3 870.7 111.1 871.3 116.9 871.8 115.7 872.4 79.2 872.9 85.5 873.5 119.6 874.0 116.4 874.6 121.4 875.1 119.3 875.7 112.2 876.2 122.5 876.8 112.5 877.3 121.9 877.9 115.6 878.4 114.4 879.0 119.6 879.5 117.9 880.1 78.1 880.6 119.0 881.2 122.6 881.7 117.6 882.3 121.9 882.8 119.5 883.4 117.6 883.9 122.6 884.5 82.2 885.0 83.1 885.6 75.8 886.1 116.9 886.7 81.3 887.2 73.7 887.8 77.0 888.3 79.2 888.9 116.9 889.4 116.6 890.0 119.0 890.5 119.5 891.1 116.8 891.6 77.3 892.2 121.0 892.7 114.3 893.3 119.4 893.8 117.7 894.4 79.3 894.9 78.5 895.5 77.1 896.0 74.5 896.6 114.0 897.1 117.5 897.7 120.4 898.2 80.6 898.8 115.4 899.3 118.2 899.9 120.6 900.4 75.2 901.0 83.3 901.5 78.2 902.1 80.9 902.6 76.8 903.2 81.7 903.7 81.5 904.3 83.7 904.8 83.8 905.4 88.6 905.9 83.9 906.5 82.9 907.0 120.6 907.6 115.3 908.1 122.0 908.7 116.7 909.2 122.4 909.8 119.2 910.3 86.4 910.9 121.7 911.4 118.0 912.0 80.8 912.5 81.1 913.1 79.0 913.6 86.8 914.2 77.0 914.7 80.5 915.3 79.4 915.8 78.4 916.4 85.7 916.9 115.7 917.5 122.0 918.0 82.6 918.6 80.3 919.1 77.2 919.7 78.3 920.2 117.0 920.8 117.5 921.3 119.1 921.9 114.4 922.4 117.3 923.0 123.0 923.5 76.6 924.1 85.5 924.6 80.5 925.2 87.5 925.7 78.6 926.3 123.7 926.8 122.9 927.4 117.8 927.9 119.8 928.5 74.7 929.0 82.1 929.6 78.0 930.1 79.6 930.7 117.4 931.2 84.3 931.8 120.3 932.3 112.3 932.9 121.1 933.4 121.5 934.0 115.1 934.5 123.4 935.1 121.9 935.6 122.0 936.2 117.8 936.7 78.1 937.3 125.0 937.8 120.4 938.4 117.1 938.9 117.2 939.5 116.7 940.0 111.3 940.6 104.6 941.1 103.5 941.7 103.5 942.2 99.6 942.8 98.9 943.3 104.0 943.9 95.1 944.4 89.1 945.0 80.9 945.5 75.8 946.1 82.5 946.6 78.5 947.2 92.1 947.7 88.5 948.3 74.4 948.8 81.3 949.4 78.9 949.9 74.5 950.5 74.3 951.0 78.1 951.6 76.4 952.1 71.8 952.7 86.2 953.2 76.8 953.8 78.5 954.3 80.6 954.9 76.0 955.4 87.4 956.0 87.3 956.5 91.5 957.1 91.5 957.6 88.3 958.2 95.0 958.7 73.9 959.3 76.2 959.8 80.0 960.4 76.5 960.9 79.7 961.5 79.9 962.0 70.8 962.6 75.9 963.1 96.0 963.7 91.6 964.2 87.1 964.8 73.7 965.3 71.1 965.9 77.4 966.4 81.1 967.0 87.4 967.5 92.5 968.1 94.5 968.6 92.8 969.2 100.1 969.7 97.8 970.3 117.6 970.8 120.7 971.4 89.7 971.9 85.7 972.5 123.0 973.0 125.1 973.6 115.9 974.1 113.3 974.7 127.1 975.2 130.9 975.8 117.1 976.3 122.6 976.9 126.0 977.4 112.8 978.0 114.7 978.5 92.6 979.1 87.6 979.6 99.9 980.2 93.0 980.7 96.9 981.3 89.0 981.8 97.8 982.4 90.0 982.9 123.0 983.5 91.9 984.0 116.7 984.6 123.0 985.1 83.8 985.7 130.3 986.2 124.6 986.8 87.9 987.3 94.5 987.9 94.7 988.4 120.8 989.0 118.4 989.5 86.6 990.1 100.4 990.6 119.5 991.2 115.2 991.7 120.4 992.3 90.1 992.8 65.0 993.4 95.2 993.9 90.9 994.5 90.3 995.0 89.3 995.6 91.6 996.1 94.4 996.7 89.6 997.2 89.5 997.8 93.0 998.3 96.8 998.9 96.3 999.4 123.1 1000.0 119.5 1000.5 120.8 1001.1 121.6 1001.6 121.2 1002.2 90.9 1002.7 101.7 1003.3 122.1 1003.8 116.3 1004.4 96.7 1004.9 133.0 1005.5 91.1 1006.0 91.9 1006.6 89.1 1007.1 94.7 1007.7 97.2 1008.2 119.3 1008.8 92.7 1009.3 87.0 1009.9 122.3 1010.4 82.5 1011.0 89.1 1011.5 88.5 1012.1 91.5 1012.6 94.5 1013.2 117.6 1013.7 110.3 1014.3 116.8 1014.8 85.2 1015.4 132.2 1015.9 123.5 1016.5 126.1 1017.0 114.7 1017.6 116.0 1018.1 120.2 1018.7 125.2 1019.2 96.9 1019.8 85.9 1020.3 119.9 1020.9 89.7 1021.4 95.7 1022.0 119.4 1022.5 116.3 1023.1 122.1 1023.6 123.3 1024.2 124.3 1024.7 118.0 1025.3 129.2 1025.8 122.5 1026.4 122.8 1026.9 96.1 1027.5 97.2 1028.0 85.1 1028.6 90.0 1029.1 95.1 1029.7 89.1 1030.2 89.8 1030.8 86.5 1031.3 91.8 1031.9 94.4 1032.4 117.0 1033.0 105.9 1033.5 116.8 1034.1 130.5 1034.6 84.6 1035.2 90.5 1035.7 121.8 1036.3 97.5 1036.8 88.9 1037.4 93.2 1037.9 81.0 1038.5 88.4 1039.0 117.1 1039.6 88.0 1040.1 95.9 1040.7 97.1 1041.2 114.5 1041.8 112.8 1042.3 109.3 1042.9 120.0 1043.4 112.2 1044.0 113.2 1044.5 112.9 1045.1 111.3 1045.6 114.2 1046.2 93.2 1046.7 97.0 1047.3 97.2 1047.8 116.9 1048.4 111.5 1048.9 116.6 1049.5 113.3 1050.0 112.6 1050.6 114.2 1051.1 100.4 1051.7 98.3 1052.2 116.3 1052.8 110.5 1053.3 107.2 1053.9 122.4 1054.4 116.9 1055.0 100.5 1055.5 110.0 1056.1 100.0 1056.6 104.2 1057.2 102.7 1057.7 103.2 1058.3 102.6 1058.8 100.8 1059.4 106.4 1059.9 118.9 1060.5 117.8 1061.0 96.6 1061.6 99.2 1062.1 119.2 1062.7 120.3 1063.2 116.4 1063.8 100.8 1064.3 117.1 1064.9 117.2 1065.4 114.7 1066.0 124.4 1066.5 108.5 1067.1 106.6 1067.6 102.5 1068.2 98.4 1068.7 104.1 1069.3 107.9 1069.8 106.8 1070.4 109.4 1070.9 107.3 1071.5 110.3 1072.0 111.4 1072.6 106.5 1073.1 109.7 1073.7 108.2 1074.2 112.3 1074.8 108.3 1075.3 110.8 1075.9 102.1 1076.4 104.3 1077.0 112.2 1077.5 103.2 1078.1 110.4 1078.6 106.6 1079.2 110.8 1079.7 112.6 1080.3 106.2 1080.8 115.9 1081.4 109.6 1081.9 114.1 1082.5 115.0 1083.0 114.5 1083.6 104.8 1084.1 107.5 1084.7 117.6 1085.2 110.7 1085.8 108.9 1086.3 112.0 1086.9 107.6 1087.4 106.3 1088.0 105.0 1088.5 107.2 1089.1 111.5 1089.6 109.9 1090.2 112.4 1090.7 112.1 1091.3 99.4 1091.8 109.0 1092.4 102.1 1092.9 99.3 1093.5 101.1 1094.0 107.3 1094.6 106.6 1095.1 105.3 1095.7 110.5 1096.2 108.7 1096.8 110.0 1097.3 102.4 1097.9 105.8 1098.4 108.6 1099.0 107.7 1099.5 108.7 1100.1 107.6 1100.6 103.5 1101.2 103.2 1101.7 110.8 1102.3 114.8 1102.8 112.8 1103.4 107.2 1103.9 111.0 1104.5 114.5 1105.0 111.7 1105.6 112.9 1106.1 109.0 1106.7 110.4 1107.2 109.1 1107.8 111.6 1108.3 109.5 1108.9 113.2 1109.4 111.0 1110.0 114.2 1110.5 114.6 1111.1 112.9 1111.6 116.2 1112.2 115.1 1112.7 115.0 1113.3 118.2 1113.8 115.1 1114.4 121.8 1114.9 121.0 1115.5 121.3 1116.0 122.6 1116.6 124.3 1117.1 123.8 1117.7 121.7 1118.2 128.8 1118.8 117.0 1119.3 123.7 1119.9 123.7 1120.4 118.0 1121.0 116.5 1121.5 114.9 1122.1 117.9 1122.6 117.2 1123.2 116.0 1123.7 115.9 1124.3 111.1 1124.8 107.8 1125.4 108.5 1125.9 108.9 1126.5 109.5 1127.0 105.1 1127.6 110.3 1128.1 112.1 1128.7 115.0 1129.2 107.8 1129.8 105.1 1130.3 111.1 1130.9 114.0 1131.4 110.8 1132.0 114.8 1132.5 116.6 1133.1 114.9 1133.6 114.6 1134.2 113.9 1134.7 115.5 1135.3 121.5 1135.8 116.9 1136.4 116.3 1136.9 118.0 1137.5 120.8 1138.0 112.8 1138.6 117.0 1139.1 123.6 1139.7 115.9 1140.2 115.7 1140.8 114.4 1141.3 114.8 1141.9 117.6 1142.4 117.0 1143.0 114.8 1143.5 113.1 1144.1 113.4 1144.6 109.6 1145.2 118.7 1145.7 105.5 1146.3 109.1 1146.8 109.1 1147.4 115.9 1147.9 113.1 1148.5 109.6 1149.0 111.5 1149.6 114.7 1150.1 111.3 1150.7 111.6 1151.2 111.2 1151.8 111.6 1152.3 114.8 1152.9 109.8 1153.4 113.9 1154.0 117.0 1154.5 114.3 1155.1 106.5 1155.6 111.7 1156.2 113.5 1156.7 119.7 1157.3 106.4 1157.8 114.2 1158.4 112.9 1158.9 114.3 1159.5 116.6 1160.0 109.0 1160.6 118.6 1161.1 119.1 1161.7 116.3 1162.2 115.4 1162.8 113.3 1163.3 113.9 1163.9 115.5 1164.4 111.6 1165.0 116.3 1165.5 117.0 1166.1 115.2 1166.6 120.8 1167.2 110.7 1167.7 114.2 1168.3 115.6 1168.8 115.8 1169.4 110.4 1169.9 107.1 1170.5 119.5 1171.0 116.9 1171.6 117.5 1172.1 115.5 1172.7 115.3 1173.2 111.0 1173.8 116.9 1174.3 112.0 1174.9 117.4 1175.4 116.4 1176.0 113.7 1176.5 117.4 1177.1 114.8 1177.6 113.8 1178.2 116.5 1178.7 118.4 1179.3 106.9 1179.8 116.6 1180.4 114.3 1180.9 122.3 1181.5 118.6 1182.0 116.6 1182.6 125.1 1183.1 117.3 1183.7 112.1 1184.2 118.4 1184.8 118.9 1185.3 121.7 1185.9 121.4 1186.4 120.8 1187.0 120.9 1187.5 121.5 1188.1 121.5 1188.6 122.4 1189.2 118.7 1189.7 122.2 1190.3 120.5 1190.8 115.3 1191.4 122.8 1191.9 118.0 1192.5 120.8 1193.0 120.8 1193.6 121.1 1194.1 119.8 1194.7 121.8 1195.2 112.4 1195.8 120.2 1196.3 124.0 1196.9 118.1 1197.4 115.5 1198.0 120.9 1198.5 121.7 1199.1 124.1 1199.6 122.1 1200.2 123.0 1200.7 116.7 1201.3 117.4 1201.8 118.7 1202.4 116.5 1202.9 115.4 1203.5 116.9 1204.0 126.4 1204.6 118.1 1205.1 118.2 1205.7 111.5 1206.2 113.2 1206.8 117.3 1207.3 117.3 1207.9 113.0 1208.4 120.3 1209.0 113.9 1209.5 116.9 1210.1 115.7 1210.6 119.1 1211.2 121.9 1211.7 115.6 1212.3 108.7 1212.8 104.1 1213.4 116.3 1213.9 115.2 1214.5 114.4 1215.0 119.6 1215.6 118.7 1216.1 113.8 1216.7 118.2 1217.2 111.6 1217.8 113.9 1218.3 113.4 1218.9 117.6 1219.4 113.9 1220.0 115.7 1220.5 119.6 1221.1 120.8 1221.6 121.6 1222.2 123.0 1222.7 120.8 1223.3 121.4 1223.8 120.7 1224.4 120.4 1224.9 123.7 1225.5 122.2 1226.0 126.6 1226.6 121.1 1227.1 119.4 1227.7 119.4 1228.2 121.5 1228.8 121.0 1229.3 123.7 1229.9 127.4 1230.4 125.8 1231.0 123.6 1231.5 130.2 1232.1 124.8 1232.6 121.1 1233.2 124.5 1233.7 125.0 1234.3 117.8 1234.8 131.3 1235.4 122.8 1235.9 118.4 1236.5 126.6 1237.0 116.8 1237.6 115.2"/>
<path stroke="#0000ff" stroke-width="3" d="M121 95.5L124 94.2L127 95.5L130 95.2L131 96.5M139 96L142 95.8L146 97L148 97.5"/>
</g>
<g stroke="#0d0d0d" stroke-width="2" fill="none">
<rect x="98.0" y="33.0" width="1140.0" height="173.0"/>
<path d="M185.7 206.0V194.0M361.1 206.0V194.0M361.1 33.0V45.0M536.5 206.0V194.0M536.5 33.0V45.0M711.8 206.0V194.0M711.8 33.0V45.0M887.2 206.0V194.0M887.2 33.0V45.0M1062.6 206.0V194.0M1062.6 33.0V45.0M98.0 33.0H109.5M1238.0 33.0H1226.5M1238.0 76.2H1226.5M98.0 119.5H109.5M1238.0 119.5H1226.5M98.0 162.8H109.5M1238.0 162.8H1226.5M98.0 206.0H109.5M1238.0 206.0H1226.5M185.7 33.0V41.5M185.7 44.0V46.0M98.0 76.2H103.5M105.5 76.2H109.0"/>
</g>
<g font-family="Liberation Sans, sans-serif" font-size="22" fill="#0d0d0d">
<text x="161.22" y="231.50">20</text>
<path d="M191.59 231.50L193.59 231.50L193.59 216.03L192.20 216.03C191.74 217.75 189.87 218.78 187.89 219.00L187.89 220.32C189.65 220.24 190.97 219.73 191.59 218.85ZM203.82 231.50L205.83 231.50L205.83 216.03L204.44 216.03C203.98 217.75 202.11 218.78 200.13 219.00L200.13 220.32C201.89 220.24 203.21 219.73 203.82 218.85Z"/>
<text x="336.61" y="231.50">20</text>
<text x="373.31" y="231.50">2</text>
<path d="M366.97 231.50L368.97 231.50L368.97 216.03L367.59 216.03C367.13 217.75 365.26 218.78 363.28 219.00L363.28 220.32C365.04 220.24 366.36 219.73 366.97 218.85Z"/>
<text x="511.99" y="231.50">20</text>
<text x="548.70" y="231.50">3</text>
<path d="M542.36 231.50L544.36 231.50L544.36 216.03L542.97 216.03C542.51 217.75 540.64 218.78 538.66 219.00L538.66 220.32C540.42 220.24 541.74 219.73 542.36 218.85Z"/>
<text x="687.38" y="231.50">20</text>
<text x="724.08" y="231.50">4</text>
<path d="M717.74 231.50L719.74 231.50L719.74 216.03L718.36 216.03C717.90 217.75 716.03 218.78 714.05 219.00L714.05 220.32C715.81 220.24 717.13 219.73 717.74 218.85Z"/>
<text x="862.76" y="231.50">20</text>
<text x="899.47" y="231.50">5</text>
<path d="M893.13 231.50L895.13 231.50L895.13 216.03L893.74 216.03C893.28 217.75 891.41 218.78 889.43 219.00L889.43 220.32C891.19 220.24 892.51 219.73 893.13 218.85Z"/>
<text x="1038.14" y="231.50">20</text>
<text x="1074.85" y="231.50">6</text>
<path d="M1068.51 231.50L1070.51 231.50L1070.51 216.03L1069.13 216.03C1068.67 217.75 1066.80 218.78 1064.82 219.00L1064.82 220.32C1066.58 220.24 1067.90 219.73 1068.51 218.85Z"/>
<text x="1213.53" y="231.50">20</text>
<text x="1250.24" y="231.50">7</text>
<path d="M1243.90 231.50L1245.90 231.50L1245.90 216.03L1244.51 216.03C1244.05 217.75 1242.18 218.78 1240.20 219.00L1240.20 220.32C1241.96 220.24 1243.28 219.73 1243.90 218.85Z"/>
<text x="77.56" y="38.50">0</text>
<path d="M71.23 38.50L73.23 38.50L73.23 23.03L71.84 23.03C71.38 24.75 69.51 25.78 67.53 26.00L67.53 27.32C69.29 27.24 70.61 26.73 71.23 25.85Z"/>
<text x="77.56" y="81.75">5</text>
<text x="77.56" y="125.00">0</text>
<text x="70.24" y="168.25">-5</text>
<text x="58.00" y="211.50">-</text>
<text x="77.56" y="211.50">0</text>
<path d="M71.23 211.50L73.23 211.50L73.23 196.03L71.84 196.03C71.38 197.75 69.51 198.78 67.53 199.00L67.53 200.32C69.29 200.24 70.61 199.73 71.23 198.85Z"/>
</g>
<text x="115.0" y="74.4" font-family="Liberation Sans, sans-serif" font-size="36" fill="#000">(a)</text>
<g stroke-width="2">
<line x1="826.6" y1="69.4" x2="895.0" y2="69.4" stroke="#ff0000"/>
<line x1="957.4" y1="69.4" x2="1025.0" y2="69.4" stroke="#00ff00"/>
<line x1="1087.5" y1="69.4" x2="1155.3" y2="69.4" stroke="#0000ff"/>
</g>
<g font-family="Liberation Sans, sans-serif" font-size="24" font-weight="bold" fill="#000" stroke="#000" stroke-width="0.45" stroke-linejoin="round">
<text x="899.5" y="75.7">PC</text>
<path d="M939.37 75.70L942.39 75.70L942.39 58.61L939.94 58.61C939.37 60.58 937.40 61.30 934.88 61.35L934.88 63.89C936.92 63.89 938.48 63.58 939.37 62.98Z"/>
<text x="1030.3" y="75.7">PC2</text>
<text x="1160.4" y="75.7">PC3</text>
</g>
<g clip-path="url(#cb)" fill="none" stroke-width="2.4" stroke-linejoin="round">
<path stroke="#ff0000" d="M98.0 370.3 98.5 368.8 99.1 359.0 99.6 368.5 100.2 371.4 100.7 371.7 101.3 370.3 101.8 373.6 102.4 377.7 102.9 364.3 103.5 369.5 104.0 371.5 104.6 369.1 105.1 366.3 105.7 369.9 106.2 379.0 106.8 371.2 107.3 364.2 107.9 364.4 108.4 363.5 109.0 367.7 109.5 368.9 110.1 365.9 110.6 367.0 111.2 369.3 111.7 352.9 112.3 354.1 112.8 369.2 113.4 370.8 113.9 367.3 114.5 363.6 115.0 369.4 115.6 370.7 116.1 366.9 116.7 360.5 117.2 352.8 117.8 370.6 118.3 363.7 118.9 361.3 119.4 375.6 120.0 364.6 120.5 370.4 121.1 367.5 121.6 381.6 122.2 364.0 122.7 371.2 123.3 367.4 123.8 372.7 124.4 362.7 124.9 362.5 125.5 366.7 126.0 364.4 126.6 370.4 127.1 363.6 127.7 367.0 128.2 367.8 128.8 351.2 129.3 362.0 129.9 375.7 130.4 370.0 131.0 368.3 131.5 364.1 132.1 379.0 132.6 368.8 133.2 363.0 133.7 369.3 134.3 358.7 134.8 360.6 135.4 352.5 135.9 359.7 136.5 358.7 137.0 358.7 137.6 355.9 138.1 362.6 138.7 370.5 139.2 359.6 139.8 358.0 140.3 361.0 140.9 360.1 141.4 355.7 142.0 360.1 142.5 360.4 143.1 361.0 143.6 359.2 144.2 371.9 144.7 341.3 145.3 361.4 145.8 357.1 146.4 340.3 146.9 356.5 147.5 348.2 148.0 365.4 148.6 361.2 149.1 354.9 149.7 353.6 150.2 349.3 150.8 357.6 151.3 352.3 151.9 359.1 152.4 336.8 153.0 354.6 153.5 344.2 154.1 351.6 154.6 348.1 155.2 355.5 155.7 342.8 156.3 365.4 156.8 356.5 157.4 354.0 157.9 344.9 158.5 359.3 159.0 349.9 159.6 353.7 160.1 345.8 160.7 354.7 161.2 346.7 161.8 346.6 162.3 360.2 162.9 352.1 163.4 335.8 164.0 345.3 164.5 353.0 165.1 349.5 165.6 354.2 166.2 354.1 166.7 350.4 167.3 360.1 167.8 355.0 168.4 341.8 168.9 352.8 169.5 331.5 170.0 351.7 170.6 331.1 171.1 366.6 171.7 347.4 172.2 345.9 172.8 345.1 173.3 348.3 173.9 349.4 174.4 344.5 175.0 344.9 175.5 342.4 176.1 350.9 176.6 356.3 177.2 344.2 177.7 329.5 178.3 347.4 178.8 344.2 179.4 346.5 179.9 349.4 180.5 325.7 181.0 338.7 181.6 360.5 182.1 341.9 182.7 330.4 183.2 346.0 183.8 349.9 184.3 332.7 184.9 339.2 185.4 344.8 186.0 343.6 186.5 345.0 187.1 353.3 187.6 333.9 188.2 341.8 188.7 351.8 189.3 351.1 189.8 348.7 190.4 340.5 190.9 360.6 191.5 360.3 192.0 354.8 192.6 353.5 193.1 348.0 193.7 360.6 194.2 362.2 194.8 362.7 195.3 353.2 195.9 356.8 196.4 358.9 197.0 360.4 197.5 357.3 198.1 353.7 198.6 370.0 199.2 370.9 199.7 360.6 200.3 359.0 200.8 366.6 201.4 366.9 201.9 362.8 202.5 368.0 203.0 357.3 203.6 376.2 204.1 378.3 204.7 364.9 205.2 368.3 205.8 369.0 206.3 364.1 206.9 362.3 207.4 373.0 208.0 363.6 208.5 376.3 209.1 385.7 209.6 392.7 210.2 382.7 210.7 387.2 211.3 374.4 211.8 394.0 212.4 363.0 212.9 371.5 213.5 358.8 214.0 365.8 214.6 363.6 215.1 375.5 215.7 358.5 216.2 353.9 216.8 357.6 217.3 371.1 217.9 354.9 218.4 349.0 219.0 350.0 219.5 364.0 220.1 356.7 220.6 358.2 221.2 366.5 221.7 319.2 222.3 353.2 222.8 342.7 223.4 364.6 223.9 349.9 224.5 371.3 225.0 334.4 225.6 353.6 226.1 345.1 226.7 356.2 227.2 340.3 227.8 334.6 228.3 346.6 228.9 342.8 229.4 344.1 230.0 350.2 230.5 354.3 231.1 341.7 231.6 353.6 232.2 330.6 232.7 343.6 233.3 335.5 233.8 343.8 234.4 327.1 234.9 338.3 235.5 349.2 236.0 332.5 236.6 321.0 237.1 341.7 237.7 329.4 238.2 347.2 238.8 339.2 239.3 329.0 239.9 333.8 240.4 341.5 241.0 346.3 241.5 343.8 242.1 328.2 242.6 341.5 243.2 337.5 243.7 338.8 244.3 318.9 244.8 334.9 245.4 340.1 245.9 337.6 246.5 340.2 247.0 337.8 247.6 336.9 248.1 361.1 248.7 345.1 249.2 346.2 249.8 335.0 250.3 331.6 250.9 333.2 251.4 332.8 252.0 345.6 252.5 348.4 253.1 341.3 253.6 333.5 254.2 341.8 254.7 338.7 255.3 338.4 255.8 345.7 256.4 340.9 256.9 336.6 257.5 314.8 258.0 326.3 258.6 360.2 259.1 339.9 259.7 337.7 260.2 344.1 260.8 335.1 261.3 334.0 261.9 347.3 262.4 344.0 263.0 332.0 263.5 356.1 264.1 321.4 264.6 332.7 265.2 332.9 265.7 352.8 266.3 335.6 266.8 333.2 267.4 330.3 267.9 334.4 268.5 334.0 269.0 350.7 269.6 337.4 270.1 337.6 270.7 329.6 271.2 315.8 271.8 330.7 272.3 337.7 272.9 340.9 273.4 327.3 274.0 328.4 274.5 330.8 275.1 349.4 275.6 332.2 276.2 342.1 276.7 327.6 277.3 339.3 277.8 331.3 278.4 326.1 278.9 346.8 279.5 333.8 280.0 332.3 280.6 359.8 281.1 325.8 281.7 327.9 282.2 333.0 282.8 340.6 283.3 331.1 283.9 359.7 284.4 358.6 285.0 344.5 285.5 355.6 286.1 356.5 286.6 346.2 287.2 364.4 287.7 344.8 288.3 340.1 288.8 360.6 289.4 355.6 289.9 372.3 290.5 348.6 291.0 352.2 291.6 344.4 292.1 344.7 292.7 352.0 293.2 352.5 293.8 340.5 294.3 340.1 294.9 358.7 295.4 344.4 296.0 335.3 296.5 351.6 297.1 340.4 297.6 351.7 298.2 351.1 298.7 351.0 299.3 341.5 299.8 353.1 300.4 367.0 300.9 344.7 301.5 335.9 302.0 366.0 302.6 335.2 303.1 328.6 303.7 334.5 304.2 337.5 304.8 334.1 305.3 340.3 305.9 339.1 306.4 338.8 307.0 341.2 307.5 336.1 308.1 343.6 308.6 318.1 309.2 336.7 309.7 329.3 310.3 335.8 310.8 347.9 311.4 367.8 311.9 343.6 312.5 344.0 313.0 345.2 313.6 351.5 314.1 351.0 314.7 348.9 315.2 335.9 315.8 345.4 316.3 354.4 316.9 361.4 317.4 349.9 318.0 363.9 318.5 363.1 319.1 370.2 319.6 350.3 320.2 352.1 320.7 365.1 321.3 352.4 321.8 359.3 322.4 345.7 322.9 352.2 323.5 357.0 324.0 358.3 324.6 373.8 325.1 356.2 325.7 353.5 326.2 361.5 326.8 354.1 327.3 350.9 327.9 344.3 328.4 356.5 329.0 357.0 329.5 365.7 330.1 398.6 330.6 358.8 331.2 361.4 331.7 352.9 332.3 347.1 332.8 356.5 333.4 351.5 333.9 332.1 334.5 360.2 335.0 347.6 335.6 352.8 336.1 353.5 336.7 378.6 337.2 352.3 337.8 366.6 338.3 343.7 338.9 363.1 339.4 357.3 340.0 361.4 340.5 354.1 341.1 355.7 341.6 364.8 342.2 355.4 342.7 381.6 343.3 380.8 343.8 363.1 344.4 363.1 344.9 343.2 345.5 360.9 346.0 361.1 346.6 379.7 347.1 358.0 347.7 352.7 348.2 353.6 348.8 358.2 349.3 357.3 349.9 355.0 350.4 368.5 351.0 363.5 351.5 356.9 352.1 345.3 352.6 363.8 353.2 369.5 353.7 366.4 354.3 354.0 354.8 349.2 355.4 345.0 355.9 357.1 356.5 376.0 357.0 362.7 357.6 373.0 358.1 360.0 358.7 358.6 359.2 371.7 359.8 361.6 360.3 349.5 360.9 373.5 361.4 356.4 362.0 352.4 362.5 378.3 363.1 349.2 363.6 369.7 364.2 341.9 364.7 365.9 365.3 364.5 365.8 364.6 366.4 368.4 366.9 362.9 367.5 359.8 368.0 352.7 368.6 363.5 369.1 345.5 369.7 362.5 370.2 361.9 370.8 355.1 371.3 381.8 371.9 365.5 372.4 363.6 373.0 365.5 373.5 371.6 374.1 361.2 374.6 385.6 375.2 366.3 375.7 372.3 376.3 376.2 376.8 387.2 377.4 354.2 377.9 363.3 378.5 350.6 379.0 361.2 379.6 356.3 380.1 354.5 380.7 350.3 381.2 354.9 381.8 359.5 382.3 353.6 382.9 363.5 383.4 354.3 384.0 353.2 384.5 372.6 385.1 370.3 385.6 371.1 386.2 381.7 386.7 363.3 387.3 373.0 387.8 359.7 388.4 344.5 388.9 353.8 389.5 367.8 390.0 372.1 390.6 359.4 391.1 371.8 391.7 354.2 392.2 335.6 392.8 358.4 393.3 359.9 393.9 380.4 394.4 369.6 395.0 352.7 395.5 359.6 396.1 355.6 396.6 374.3 397.2 362.5 397.7 346.8 398.3 367.2 398.8 365.0 399.4 366.4 399.9 365.7 400.5 367.6 401.0 356.4 401.6 365.3 402.1 363.4 402.7 358.9 403.2 369.4 403.8 370.8 404.3 362.5 404.9 367.2 405.4 353.7 406.0 357.6 406.5 367.8 407.1 361.1 407.6 357.9 408.2 361.5 408.7 373.3 409.3 358.1 409.8 364.6 410.4 354.5 410.9 333.4 411.5 349.7 412.0 351.1 412.6 354.0 413.1 360.9 413.7 361.2 414.2 378.9 414.8 361.4 415.3 359.2 415.9 360.5 416.4 359.7 417.0 356.6 417.5 363.1 418.1 361.1 418.6 359.2 419.2 366.7 419.7 356.4 420.3 357.0 420.8 360.4 421.4 353.7 421.9 370.7 422.5 356.0 423.0 359.4 423.6 364.5 424.1 368.1 424.7 355.3 425.2 362.7 425.8 358.3 426.3 368.8 426.9 337.1 427.4 377.8 428.0 345.4 428.5 382.8 429.1 363.6 429.6 363.5 430.2 345.9 430.7 352.4 431.3 366.6 431.8 358.9 432.4 357.0 432.9 363.7 433.5 361.8 434.0 357.0 434.6 367.8 435.1 374.0 435.7 357.1 436.2 366.6 436.8 361.5 437.3 356.9 437.9 381.5 438.4 366.6 439.0 372.4 439.5 368.0 440.1 390.2 440.6 359.4 441.2 360.8 441.7 356.0 442.3 358.3 442.8 365.4 443.4 385.5 443.9 380.4 444.5 365.1 445.0 353.0 445.6 368.5 446.1 362.0 446.7 378.5 447.2 353.0 447.8 367.0 448.3 374.5 448.9 362.3 449.4 362.2 450.0 365.1 450.5 387.8 451.1 362.4 451.6 362.5 452.2 375.1 452.7 369.7 453.3 387.8 453.8 363.1 454.4 367.6 454.9 342.3 455.5 369.3 456.0 372.5 456.6 390.2 457.1 371.7 457.7 363.8 458.2 362.9 458.8 361.3 459.3 379.6 459.9 368.7 460.4 392.1 461.0 363.2 461.5 362.5 462.1 354.1 462.6 361.0 463.2 365.8 463.7 374.5 464.3 368.4 464.8 371.0 465.4 360.8 465.9 357.9 466.5 340.1 467.0 352.8 467.6 353.3 468.1 355.7 468.7 383.5 469.2 361.6 469.8 355.9 470.3 372.3 470.9 366.8 471.4 373.2 472.0 384.6 472.5 370.6 473.1 358.2 473.6 363.9 474.2 373.0 474.7 374.7 475.3 374.6 475.8 360.0 476.4 358.6 476.9 372.4 477.5 356.4 478.0 367.4 478.6 358.1 479.1 350.6 479.7 371.9 480.2 367.4 480.8 341.5 481.3 369.8 481.9 361.0 482.4 363.6 483.0 364.1 483.5 364.6 484.1 370.2 484.6 363.8 485.2 357.4 485.7 363.7 486.3 357.3 486.8 366.9 487.4 353.4 487.9 369.0 488.5 359.4 489.0 358.3 489.6 362.9 490.1 362.5 490.7 367.6 491.2 361.1 491.8 361.5 492.3 376.3 492.9 374.4 493.4 350.7 494.0 371.1 494.5 363.2 495.1 364.7 495.6 372.3 496.2 369.0 496.7 360.3 497.3 375.7 497.8 353.6 498.4 353.6 498.9 368.4 499.5 360.9 500.0 361.8 500.6 370.7 501.1 371.3 501.7 372.6 502.2 360.8 502.8 387.4 503.3 363.0 503.9 357.9 504.4 356.3 505.0 360.4 505.5 385.6 506.1 347.0 506.6 359.3 507.2 360.0 507.7 364.1 508.3 346.4 508.8 367.5 509.4 359.0 509.9 385.0 510.5 382.8 511.0 355.7 511.6 354.0 512.1 359.7 512.7 359.7 513.2 362.0 513.8 367.9 514.3 358.5 514.9 379.8 515.4 365.5 516.0 366.2 516.5 370.2 517.1 360.9 517.6 349.8 518.2 360.2 518.7 360.8 519.3 367.6 519.8 375.9 520.4 384.3 520.9 369.8 521.5 362.7 522.0 351.4 522.6 376.3 523.1 365.4 523.7 360.1 524.2 370.2 524.8 371.8 525.3 366.6 525.9 361.7 526.4 357.7 527.0 354.9 527.5 386.9 528.1 362.3 528.6 361.1 529.2 359.7 529.7 365.3 530.3 364.8 530.8 361.3 531.4 368.5 531.9 359.9 532.5 362.3 533.0 359.4 533.6 351.3 534.1 366.4 534.7 355.9 535.2 359.6 535.8 357.9 536.3 342.4 536.9 355.5 537.4 348.1 538.0 359.9 538.5 357.1 539.1 372.2 539.6 344.3 540.2 354.1 540.7 378.7 541.3 352.3 541.8 341.5 542.4 355.6 542.9 343.4 543.5 355.9 544.0 346.1 544.6 360.9 545.1 353.6 545.7 360.8 546.2 381.2 546.8 354.6 547.3 365.7 547.9 362.2 548.4 350.8 549.0 359.1 549.5 348.5 550.1 358.0 550.6 371.0 551.2 373.3 551.7 362.4 552.3 360.3 552.8 355.1 553.4 373.6 553.9 355.9 554.5 359.8 555.0 377.0 555.6 339.2 556.1 368.2 556.7 355.3 557.2 370.1 557.8 353.2 558.3 370.2 558.9 371.0 559.4 354.8 560.0 354.3 560.5 346.1 561.1 352.2 561.6 364.0 562.2 359.6 562.7 367.4 563.3 359.5 563.8 365.1 564.4 360.8 564.9 356.6 565.5 356.2 566.0 360.4 566.6 359.6 567.1 370.4 567.7 360.5 568.2 357.8 568.8 357.7 569.3 369.5 569.9 354.6 570.4 387.8 571.0 351.3 571.5 355.3 572.1 355.5 572.6 355.2 573.2 371.9 573.7 349.5 574.3 365.0 574.8 356.6 575.4 360.3 575.9 361.1 576.5 376.4 577.0 357.8 577.6 362.1 578.1 365.2 578.7 366.0 579.2 371.1 579.8 364.5 580.3 362.2 580.9 362.3 581.4 357.8 582.0 359.5 582.5 354.9 583.1 366.2 583.6 362.5 584.2 365.7 584.7 375.6 585.3 338.6 585.8 361.3 586.4 346.5 586.9 370.3 587.5 361.0 588.0 364.4 588.6 360.7 589.1 354.6 589.7 359.4 590.2 365.4 590.8 360.7 591.3 356.1 591.9 338.2 592.4 355.7 593.0 364.0 593.5 361.5 594.1 363.9 594.6 359.6 595.2 340.5 595.7 365.0 596.3 354.1 596.8 363.5 597.4 359.6 597.9 360.6 598.5 358.3 599.0 365.0 599.6 371.1 600.1 357.8 600.7 348.2 601.2 349.9 601.8 355.9 602.3 364.5 602.9 365.5 603.4 366.3 604.0 388.9 604.5 364.5 605.1 364.0 605.6 380.3 606.2 377.9 606.7 366.9 607.3 383.6 607.8 365.5 608.4 360.7 608.9 355.0 609.5 380.9 610.0 377.3 610.6 356.9 611.1 368.3 611.7 362.9 612.2 357.6 612.8 378.7 613.3 364.6 613.9 353.1 614.4 370.5 615.0 392.8 615.5 370.7 616.1 364.6 616.6 365.9 617.2 380.1 617.7 370.7 618.3 366.9 618.8 361.5 619.4 368.8 619.9 367.4 620.5 392.9 621.0 361.7 621.6 377.1 622.1 367.0 622.7 364.0 623.2 373.5 623.8 373.2 624.3 353.9 624.9 364.2 625.4 369.9 626.0 370.8 626.5 346.0 627.1 380.8 627.6 395.0 628.2 353.4 628.7 372.2 629.3 365.5 629.8 369.3 630.4 377.5 630.9 384.0 631.5 364.5 632.0 368.0 632.6 386.0 633.1 381.8 633.7 363.1 634.2 368.2 634.8 384.5 635.3 370.6 635.9 377.7 636.4 376.1 637.0 364.7 637.5 375.0 638.1 376.0 638.6 368.2 639.2 369.2 639.7 382.2 640.3 367.5 640.8 359.4 641.4 344.5 641.9 350.7 642.5 365.0 643.0 368.6 643.6 360.9 644.1 374.7 644.7 361.5 645.2 392.1 645.8 378.9 646.3 367.3 646.9 376.4 647.4 364.9 648.0 347.8 648.5 372.7 649.1 356.3 649.6 392.1 650.2 361.1 650.7 369.6 651.3 364.7 651.8 393.6 652.4 371.4 652.9 377.4 653.5 366.6 654.0 358.3 654.6 366.0 655.1 355.8 655.7 372.3 656.2 378.1 656.8 362.0 657.3 357.6 657.9 379.6 658.4 374.1 659.0 370.6 659.5 362.9 660.1 366.9 660.6 361.0 661.2 373.4 661.7 368.0 662.3 361.6 662.8 364.9 663.4 363.1 663.9 383.4 664.5 380.9 665.0 376.3 665.6 394.5 666.1 373.9 666.7 372.5 667.2 364.4 667.8 381.5 668.3 372.7 668.9 378.7 669.4 379.5 670.0 377.9 670.5 365.4 671.1 364.7 671.6 379.5 672.2 371.0 672.7 376.2 673.3 383.7 673.8 383.6 674.4 370.5 674.9 365.6 675.5 366.7 676.0 354.3 676.6 356.2 677.1 369.5 677.7 362.8 678.2 371.5 678.8 371.4 679.3 367.1 679.9 359.5 680.4 366.6 681.0 369.5 681.5 351.7 682.1 372.7 682.6 360.7 683.2 370.6 683.7 361.6 684.3 368.2 684.8 363.6 685.4 362.6 685.9 370.7 686.5 358.0 687.0 376.3 687.6 343.6 688.1 376.7 688.7 360.5 689.2 371.7 689.8 372.0 690.3 367.0 690.9 359.1 691.4 360.3 692.0 367.6 692.5 362.4 693.1 371.6 693.6 361.1 694.2 362.0 694.7 363.7 695.3 346.1 695.8 365.6 696.4 375.1 696.9 355.2 697.5 369.3 698.0 385.2 698.6 354.7 699.1 384.9 699.7 367.8 700.2 385.9 700.8 365.9 701.3 378.2 701.9 378.7 702.4 371.5 703.0 361.7 703.5 364.7 704.1 372.8 704.6 368.3 705.2 369.4 705.7 357.5 706.3 370.6 706.8 387.3 707.4 377.3 707.9 369.6 708.5 378.9 709.0 348.8 709.6 392.0 710.1 371.6 710.7 343.8 711.2 372.8 711.8 378.9 712.3 388.5 712.9 381.1 713.4 361.7 714.0 364.5 714.5 358.7 715.1 372.8 715.6 370.9 716.2 369.5 716.7 349.4 717.3 367.7 717.8 360.2 718.4 372.5 718.9 371.8 719.5 366.4 720.0 369.9 720.6 353.5 721.1 370.4 721.7 358.9 722.2 357.3 722.8 370.8 723.3 373.4 723.9 361.5 724.4 372.0 725.0 354.1 725.5 370.3 726.1 367.3 726.6 370.6 727.2 366.3 727.7 365.5 728.3 365.1 728.8 371.2 729.4 344.6 729.9 379.0 730.5 362.2 731.0 395.3 731.6 380.8 732.1 358.0 732.7 377.3 733.2 366.4 733.8 366.1 734.3 366.3 734.9 369.0 735.4 371.0 736.0 367.6 736.5 361.7 737.1 363.3 737.6 344.5 738.2 369.0 738.7 371.3 739.3 366.4 739.8 377.6 740.4 358.6 740.9 367.4 741.5 370.3 742.0 374.2 742.6 344.2 743.1 365.6 743.7 362.7 744.2 367.2 744.8 374.1 745.3 362.9 745.9 360.0 746.4 366.1 747.0 372.1 747.5 369.2 748.1 368.8 748.6 373.4 749.2 394.6 749.7 371.7 750.3 367.4 750.8 361.1 751.4 373.8 751.9 353.0 752.5 371.1 753.0 367.6 753.6 376.0 754.1 357.1 754.7 382.0 755.2 373.9 755.8 368.2 756.3 370.9 756.9 349.8 757.4 359.4 758.0 354.5 758.5 369.6 759.1 367.5 759.6 361.0 760.2 375.1 760.7 371.3 761.3 356.7 761.8 351.5 762.4 372.5 762.9 380.5 763.5 367.6 764.0 374.1 764.6 365.8 765.1 362.4 765.7 367.0 766.2 372.0 766.8 360.5 767.3 373.2 767.9 384.6 768.4 366.4 769.0 345.4 769.5 366.8 770.1 371.4 770.6 363.4 771.2 371.6 771.7 374.4 772.3 375.3 772.8 358.4 773.4 356.8 773.9 354.0 774.5 357.1 775.0 380.4 775.6 369.5 776.1 375.3 776.7 348.7 777.2 370.5 777.8 383.3 778.3 366.0 778.9 392.3 779.4 367.5 780.0 357.9 780.5 382.3 781.1 371.4 781.6 378.2 782.2 372.9 782.7 374.7 783.3 359.0 783.8 380.3 784.4 370.2 784.9 366.3 785.5 360.4 786.0 372.7 786.6 374.5 787.1 363.1 787.7 368.7 788.2 363.0 788.8 369.9 789.3 380.4 789.9 364.4 790.4 357.7 791.0 366.1 791.5 390.8 792.1 364.9 792.6 359.6 793.2 366.2 793.7 365.1 794.3 366.4 794.8 365.1 795.4 363.9 795.9 369.2 796.5 360.0 797.0 379.8 797.6 348.3 798.1 361.0 798.7 372.2 799.2 359.7 799.8 358.2 800.3 371.8 800.9 364.7 801.4 366.4 802.0 352.9 802.5 360.9 803.1 356.2 803.6 350.6 804.2 349.0 804.7 366.9 805.3 370.4 805.8 363.7 806.4 363.6 806.9 366.5 807.5 364.7 808.0 365.1 808.6 367.8 809.1 359.2 809.7 368.7 810.2 371.4 810.8 375.9 811.3 357.8 811.9 351.2 812.4 372.4 813.0 363.2 813.5 367.0 814.1 344.5 814.6 373.6 815.2 353.3 815.7 366.7 816.3 359.8 816.8 362.8 817.4 368.6 817.9 361.3 818.5 358.9 819.0 368.3 819.6 361.1 820.1 376.8 820.7 372.1 821.2 354.6 821.8 360.0 822.3 355.1 822.9 355.1 823.4 367.8 824.0 363.3 824.5 357.4 825.1 371.3 825.6 363.7 826.2 366.5 826.7 362.9 827.3 372.1 827.8 364.4 828.4 359.4 828.9 374.3 829.5 372.1 830.0 373.7 830.6 364.5 831.1 351.0 831.7 366.2 832.2 374.7 832.8 368.1 833.3 349.7 833.9 372.1 834.4 345.0 835.0 366.3 835.5 357.4 836.1 367.5 836.6 363.9 837.2 339.6 837.7 369.8 838.3 360.8 838.8 341.7 839.4 365.3 839.9 360.6 840.5 361.8 841.0 371.6 841.6 361.2 842.1 349.7 842.7 363.3 843.2 362.6 843.8 365.5 844.3 371.6 844.9 369.5 845.4 378.9 846.0 369.8 846.5 357.7 847.1 363.4 847.6 388.4 848.2 368.0 848.7 364.2 849.3 350.8 849.8 361.8 850.4 348.8 850.9 364.7 851.5 371.0 852.0 375.0 852.6 361.2 853.1 337.5 853.7 368.9 854.2 348.0 854.8 356.5 855.3 363.7 855.9 353.1 856.4 360.5 857.0 363.5 857.5 354.9 858.1 361.8 858.6 367.3 859.2 359.1 859.7 350.6 860.3 368.4 860.8 356.7 861.4 378.3 861.9 361.3 862.5 368.9 863.0 362.1 863.6 362.0 864.1 354.4 864.7 388.7 865.2 356.9 865.8 365.6 866.3 360.5 866.9 340.7 867.4 358.1 868.0 362.6 868.5 362.5 869.1 369.4 869.6 367.9 870.2 358.9 870.7 363.3 871.3 373.7 871.8 356.2 872.4 371.4 872.9 371.6 873.5 362.0 874.0 369.1 874.6 376.4 875.1 363.9 875.7 385.0 876.2 372.7 876.8 347.7 877.3 362.4 877.9 360.8 878.4 349.6 879.0 350.1 879.5 356.2 880.1 370.6 880.6 363.2 881.2 362.4 881.7 355.0 882.3 347.9 882.8 355.2 883.4 356.5 883.9 371.9 884.5 346.3 885.0 349.4 885.6 339.0 886.1 355.0 886.7 358.5 887.2 354.0 887.8 345.2 888.3 370.8 888.9 355.3 889.4 356.3 890.0 355.3 890.5 365.8 891.1 360.6 891.6 368.3 892.2 353.2 892.7 372.5 893.3 359.2 893.8 366.0 894.4 367.1 894.9 363.3 895.5 369.6 896.0 361.3 896.6 360.9 897.1 363.5 897.7 359.6 898.2 355.7 898.8 363.1 899.3 358.0 899.9 372.5 900.4 345.1 901.0 358.5 901.5 360.4 902.1 360.3 902.6 365.7 903.2 380.2 903.7 363.0 904.3 372.4 904.8 341.5 905.4 363.0 905.9 349.6 906.5 347.8 907.0 333.5 907.6 355.7 908.1 360.6 908.7 356.5 909.2 365.2 909.8 356.6 910.3 356.6 910.9 385.1 911.4 358.0 912.0 357.7 912.5 360.9 913.1 357.0 913.6 349.1 914.2 349.4 914.7 346.2 915.3 354.0 915.8 354.4 916.4 356.9 916.9 373.2 917.5 358.4 918.0 318.4 918.6 353.0 919.1 358.7 919.7 360.6 920.2 346.8 920.8 362.5 921.3 344.8 921.9 361.1 922.4 354.5 923.0 360.1 923.5 351.3 924.1 338.3 924.6 346.8 925.2 342.7 925.7 356.5 926.3 353.0 926.8 364.1 927.4 351.6 927.9 349.7 928.5 361.3 929.0 361.7 929.6 356.9 930.1 366.4 930.7 348.2 931.2 354.7 931.8 356.0 932.3 358.6 932.9 348.6 933.4 336.7 934.0 359.9 934.5 356.6 935.1 356.4 935.6 352.3 936.2 350.1 936.7 346.0 937.3 356.1 937.8 358.1 938.4 357.5 938.9 358.7 939.5 341.1 940.0 347.8 940.6 330.4 941.1 359.6 941.7 346.3 942.2 368.7 942.8 348.8 943.3 363.3 943.9 354.2 944.4 353.9 945.0 375.5 945.5 346.2 946.1 354.6 946.6 351.3 947.2 333.6 947.7 353.5 948.3 343.8 948.8 356.6 949.4 369.9 949.9 354.4 950.5 349.3 951.0 352.6 951.6 352.6 952.1 344.2 952.7 328.9 953.2 353.1 953.8 359.1 954.3 357.9 954.9 349.0 955.4 353.2 956.0 353.1 956.5 358.2 957.1 329.7 957.6 345.5 958.2 353.9 958.7 375.6 959.3 367.3 959.8 338.6 960.4 344.3 960.9 348.7 961.5 346.6 962.0 335.0 962.6 345.4 963.1 358.1 963.7 348.3 964.2 339.9 964.8 353.2 965.3 329.4 965.9 377.1 966.4 362.2 967.0 358.5 967.5 360.4 968.1 361.5 968.6 364.5 969.2 353.5 969.7 380.2 970.3 350.4 970.8 350.8 971.4 379.5 971.9 361.6 972.5 357.7 973.0 365.0 973.6 330.2 974.1 333.3 974.7 348.5 975.2 372.0 975.8 331.8 976.3 349.6 976.9 360.2 977.4 374.4 978.0 339.9 978.5 380.7 979.1 345.8 979.6 349.3 980.2 338.2 980.7 341.4 981.3 327.6 981.8 360.1 982.4 354.9 982.9 348.5 983.5 349.8 984.0 361.9 984.6 350.4 985.1 342.1 985.7 348.3 986.2 356.5 986.8 345.0 987.3 375.7 987.9 350.5 988.4 325.2 989.0 353.4 989.5 346.4 990.1 349.4 990.6 348.9 991.2 373.6 991.7 347.8 992.3 356.7 992.8 355.5 993.4 338.6 993.9 350.1 994.5 344.6 995.0 350.4 995.6 349.6 996.1 355.4 996.7 355.3 997.2 338.3 997.8 377.7 998.3 356.1 998.9 372.6 999.4 356.6 1000.0 342.0 1000.5 354.5 1001.1 333.8 1001.6 359.8 1002.2 346.9 1002.7 327.8 1003.3 377.4 1003.8 354.6 1004.4 350.1 1004.9 353.6 1005.5 349.7 1006.0 339.8 1006.6 331.7 1007.1 363.2 1007.7 367.6 1008.2 346.3 1008.8 352.4 1009.3 377.3 1009.9 356.7 1010.4 350.5 1011.0 349.6 1011.5 349.5 1012.1 350.8 1012.6 339.4 1013.2 350.9 1013.7 346.2 1014.3 344.8 1014.8 333.9 1015.4 349.3 1015.9 353.3 1016.5 339.0 1017.0 351.7 1017.6 353.4 1018.1 354.6 1018.7 347.5 1019.2 339.2 1019.8 345.6 1020.3 350.9 1020.9 337.3 1021.4 348.7 1022.0 350.3 1022.5 367.7 1023.1 344.9 1023.6 362.6 1024.2 358.0 1024.7 359.5 1025.3 336.8 1025.8 359.8 1026.4 353.8 1026.9 354.3 1027.5 353.2 1028.0 357.1 1028.6 351.2 1029.1 340.6 1029.7 345.4 1030.2 375.3 1030.8 357.6 1031.3 355.7 1031.9 343.5 1032.4 353.9 1033.0 350.5 1033.5 348.0 1034.1 351.4 1034.6 345.6 1035.2 339.8 1035.7 350.4 1036.3 337.0 1036.8 359.8 1037.4 343.5 1037.9 333.7 1038.5 344.5 1039.0 331.4 1039.6 357.4 1040.1 361.9 1040.7 345.9 1041.2 348.0 1041.8 334.6 1042.3 369.0 1042.9 347.5 1043.4 346.6 1044.0 344.3 1044.5 352.0 1045.1 346.8 1045.6 332.0 1046.2 349.4 1046.7 354.6 1047.3 351.8 1047.8 348.0 1048.4 344.0 1048.9 346.4 1049.5 350.8 1050.0 358.2 1050.6 356.3 1051.1 339.9 1051.7 338.4 1052.2 357.8 1052.8 344.9 1053.3 350.1 1053.9 361.5 1054.4 349.2 1055.0 350.2 1055.5 357.7 1056.1 348.2 1056.6 348.1 1057.2 350.0 1057.7 351.2 1058.3 339.0 1058.8 353.2 1059.4 351.5 1059.9 345.2 1060.5 337.6 1061.0 334.4 1061.6 335.2 1062.1 355.2 1062.7 349.3 1063.2 361.7 1063.8 356.2 1064.3 347.6 1064.9 326.8 1065.4 354.8 1066.0 357.0 1066.5 351.8 1067.1 320.1 1067.6 354.7 1068.2 346.1 1068.7 357.2 1069.3 349.1 1069.8 343.7 1070.4 350.2 1070.9 346.6 1071.5 325.0 1072.0 343.0 1072.6 369.7 1073.1 326.3 1073.7 353.9 1074.2 344.9 1074.8 347.1 1075.3 356.9 1075.9 359.3 1076.4 357.3 1077.0 347.7 1077.5 360.1 1078.1 360.8 1078.6 350.3 1079.2 357.9 1079.7 352.0 1080.3 353.3 1080.8 357.4 1081.4 356.8 1081.9 350.8 1082.5 345.4 1083.0 344.5 1083.6 351.5 1084.1 359.5 1084.7 355.6 1085.2 346.7 1085.8 343.4 1086.3 360.5 1086.9 348.5 1087.4 345.0 1088.0 335.1 1088.5 344.8 1089.1 370.9 1089.6 341.1 1090.2 341.4 1090.7 348.8 1091.3 334.9 1091.8 341.0 1092.4 349.1 1092.9 349.2 1093.5 353.8 1094.0 338.3 1094.6 337.2 1095.1 346.7 1095.7 343.4 1096.2 341.0 1096.8 329.9 1097.3 356.9 1097.9 354.4 1098.4 338.2 1099.0 354.7 1099.5 350.5 1100.1 351.2 1100.6 344.4 1101.2 347.1 1101.7 341.4 1102.3 347.4 1102.8 357.8 1103.4 344.5 1103.9 320.5 1104.5 354.5 1105.0 350.5 1105.6 350.1 1106.1 349.4 1106.7 361.6 1107.2 339.0 1107.8 346.9 1108.3 353.2 1108.9 348.8 1109.4 345.3 1110.0 348.7 1110.5 353.9 1111.1 347.6 1111.6 357.3 1112.2 350.2 1112.7 350.2 1113.3 358.2 1113.8 346.8 1114.4 373.3 1114.9 373.1 1115.5 341.2 1116.0 362.4 1116.6 344.2 1117.1 349.0 1117.7 349.4 1118.2 345.2 1118.8 342.0 1119.3 342.9 1119.9 353.6 1120.4 375.7 1121.0 343.1 1121.5 354.2 1122.1 372.7 1122.6 347.2 1123.2 351.6 1123.7 357.0 1124.3 355.7 1124.8 349.2 1125.4 343.6 1125.9 354.4 1126.5 351.3 1127.0 343.6 1127.6 343.3 1128.1 346.9 1128.7 346.3 1129.2 370.3 1129.8 348.7 1130.3 343.8 1130.9 352.0 1131.4 351.6 1132.0 352.7 1132.5 370.2 1133.1 342.1 1133.6 355.9 1134.2 361.0 1134.7 353.7 1135.3 333.6 1135.8 349.2 1136.4 361.7 1136.9 353.7 1137.5 341.0 1138.0 356.7 1138.6 354.0 1139.1 363.7 1139.7 355.7 1140.2 350.2 1140.8 362.1 1141.3 338.2 1141.9 344.2 1142.4 343.0 1143.0 316.6 1143.5 324.8 1144.1 332.8 1144.6 328.5 1145.2 344.1 1145.7 325.8 1146.3 311.3 1146.8 340.3 1147.4 354.9 1147.9 331.5 1148.5 338.2 1149.0 323.6 1149.6 344.1 1150.1 340.9 1150.7 340.0 1151.2 329.5 1151.8 366.2 1152.3 347.1 1152.9 340.5 1153.4 336.2 1154.0 348.6 1154.5 346.9 1155.1 343.0 1155.6 352.7 1156.2 355.7 1156.7 372.0 1157.3 351.1 1157.8 368.7 1158.4 338.4 1158.9 357.9 1159.5 341.3 1160.0 356.3 1160.6 336.7 1161.1 339.0 1161.7 349.1 1162.2 353.5 1162.8 356.6 1163.3 346.3 1163.9 349.0 1164.4 339.3 1165.0 329.8 1165.5 342.2 1166.1 317.4 1166.6 343.4 1167.2 338.8 1167.7 346.4 1168.3 331.0 1168.8 331.4 1169.4 337.5 1169.9 334.8 1170.5 355.7 1171.0 332.7 1171.6 316.5 1172.1 331.1 1172.7 334.1 1173.2 333.6 1173.8 331.3 1174.3 355.8 1174.9 316.6 1175.4 334.0 1176.0 336.8 1176.5 339.2 1177.1 331.5 1177.6 328.1 1178.2 335.9 1178.7 348.4 1179.3 325.9 1179.8 373.1 1180.4 353.6 1180.9 374.7 1181.5 345.8 1182.0 336.9 1182.6 358.6 1183.1 353.8 1183.7 333.7 1184.2 355.1 1184.8 360.2 1185.3 350.8 1185.9 365.3 1186.4 365.2 1187.0 362.4 1187.5 361.1 1188.1 357.0 1188.6 357.7 1189.2 350.5 1189.7 353.8 1190.3 355.0 1190.8 352.3 1191.4 355.6 1191.9 354.7 1192.5 368.5 1193.0 333.8 1193.6 359.8 1194.1 345.8 1194.7 360.3 1195.2 364.2 1195.8 357.4 1196.3 361.0 1196.9 348.8 1197.4 347.8 1198.0 366.5 1198.5 370.4 1199.1 362.0 1199.6 363.2 1200.2 365.7 1200.7 359.1 1201.3 353.8 1201.8 360.9 1202.4 357.5 1202.9 386.2 1203.5 370.4 1204.0 365.5 1204.6 372.5 1205.1 358.2 1205.7 346.4 1206.2 378.4 1206.8 362.4 1207.3 353.1 1207.9 380.3 1208.4 369.1 1209.0 349.2 1209.5 364.3 1210.1 371.9 1210.6 370.0 1211.2 370.3 1211.7 358.0 1212.3 359.1 1212.8 365.6 1213.4 361.5 1213.9 352.9 1214.5 385.5 1215.0 385.4 1215.6 366.3 1216.1 354.0 1216.7 349.3 1217.2 352.8 1217.8 375.6 1218.3 351.4 1218.9 358.3 1219.4 356.1 1220.0 380.1 1220.5 373.4 1221.1 361.3 1221.6 342.4 1222.2 362.7 1222.7 358.2 1223.3 358.8 1223.8 374.0 1224.4 337.2 1224.9 369.8 1225.5 362.2 1226.0 363.9 1226.6 363.8 1227.1 357.6 1227.7 365.2 1228.2 336.5 1228.8 354.9 1229.3 362.1 1229.9 353.3 1230.4 354.4 1231.0 356.4 1231.5 360.7 1232.1 360.4 1232.6 354.3 1233.2 364.6 1233.7 358.7 1234.3 360.2 1234.8 367.4 1235.4 368.3 1235.9 361.1 1236.5 352.6 1237.0 357.0 1237.6 335.8"/>
<path stroke="#00ff00" d="M98.0 334.7 98.5 336.7 99.1 328.2 99.6 330.4 100.2 334.9 100.7 334.1 101.3 322.1 101.8 331.1 102.4 335.6 102.9 339.8 103.5 338.2 104.0 331.1 104.6 334.8 105.1 331.6 105.7 338.3 106.2 332.2 106.8 340.8 107.3 334.7 107.9 334.1 108.4 334.6 109.0 334.7 109.5 333.7 110.1 335.6 110.6 333.4 111.2 335.5 111.7 339.2 112.3 340.5 112.8 350.6 113.4 354.0 113.9 366.1 114.5 361.9 115.0 355.1 115.6 362.2 116.1 367.1 116.7 364.0 117.2 353.0 117.8 354.4 118.3 348.5 118.9 347.5 119.4 345.2 120.0 347.9 120.5 356.2 121.1 352.1 121.6 350.9 122.2 361.9 122.7 365.6 123.3 354.2 123.8 357.8 124.4 349.6 124.9 353.2 125.5 347.6 126.0 349.9 126.6 352.4 127.1 348.2 127.7 346.6 128.2 353.2 128.8 352.3 129.3 343.9 129.9 340.6 130.4 347.6 131.0 344.7 131.5 351.1 132.1 353.3 132.6 351.7 133.2 355.6 133.7 358.3 134.3 361.1 134.8 364.5 135.4 361.3 135.9 360.5 136.5 364.3 137.0 357.6 137.6 362.9 138.1 367.8 138.7 352.2 139.2 364.7 139.8 360.1 140.3 366.3 140.9 362.1 141.4 364.3 142.0 354.8 142.5 361.6 143.1 359.4 143.6 362.3 144.2 360.2 144.7 361.7 145.3 365.7 145.8 359.8 146.4 363.3 146.9 358.8 147.5 363.4 148.0 367.7 148.6 364.4 149.1 375.5 149.7 358.9 150.2 366.1 150.8 362.4 151.3 361.3 151.9 367.9 152.4 379.0 153.0 375.3 153.5 375.4 154.1 362.8 154.6 365.6 155.2 370.7 155.7 364.4 156.3 364.6 156.8 360.5 157.4 358.9 157.9 366.9 158.5 366.7 159.0 365.7 159.6 373.8 160.1 376.6 160.7 371.5 161.2 370.3 161.8 367.1 162.3 371.9 162.9 369.4 163.4 362.7 164.0 362.7 164.5 362.2 165.1 349.1 165.6 357.1 166.2 354.7 166.7 358.4 167.3 349.9 167.8 357.9 168.4 352.2 168.9 357.7 169.5 357.3 170.0 352.1 170.6 353.4 171.1 351.8 171.7 347.2 172.2 351.9 172.8 357.3 173.3 362.4 173.9 355.7 174.4 354.4 175.0 355.2 175.5 354.6 176.1 350.6 176.6 352.9 177.2 356.1 177.7 351.0 178.3 368.4 178.8 358.8 179.4 356.7 179.9 360.6 180.5 350.3 181.0 353.7 181.6 372.5 182.1 354.8 182.7 360.5 183.2 347.0 183.8 358.1 184.3 350.4 184.9 352.1 185.4 356.7 186.0 354.1 186.5 352.3 187.1 358.4 187.6 370.5 188.2 355.7 188.7 360.6 189.3 358.4 189.8 351.7 190.4 357.7 190.9 349.6 191.5 351.1 192.0 355.7 192.6 351.1 193.1 357.4 193.7 352.5 194.2 356.4 194.8 354.7 195.3 359.5 195.9 361.8 196.4 359.6 197.0 356.5 197.5 356.4 198.1 357.7 198.6 357.8 199.2 369.6 199.7 359.5 200.3 357.3 200.8 364.4 201.4 360.3 201.9 365.3 202.5 364.8 203.0 365.5 203.6 358.6 204.1 367.1 204.7 354.4 205.2 354.2 205.8 353.8 206.3 352.3 206.9 350.2 207.4 359.3 208.0 358.7 208.5 347.4 209.1 362.8 209.6 359.7 210.2 355.1 210.7 356.4 211.3 351.2 211.8 359.2 212.4 353.0 212.9 357.6 213.5 352.9 214.0 369.9 214.6 358.6 215.1 365.4 215.7 368.9 216.2 367.1 216.8 357.1 217.3 358.3 217.9 360.1 218.4 353.1 219.0 355.3 219.5 356.0 220.1 353.9 220.6 363.8 221.2 367.2 221.7 368.9 222.3 353.3 222.8 355.1 223.4 353.2 223.9 360.9 224.5 353.3 225.0 355.0 225.6 354.5 226.1 350.5 226.7 359.7 227.2 351.5 227.8 355.9 228.3 352.5 228.9 361.4 229.4 355.7 230.0 358.5 230.5 363.5 231.1 358.0 231.6 352.3 232.2 351.0 232.7 356.5 233.3 355.7 233.8 355.1 234.4 359.4 234.9 354.3 235.5 350.6 236.0 360.0 236.6 360.5 237.1 350.2 237.7 359.0 238.2 355.8 238.8 357.6 239.3 357.6 239.9 360.7 240.4 358.3 241.0 356.1 241.5 359.8 242.1 364.8 242.6 351.6 243.2 362.4 243.7 356.6 244.3 360.4 244.8 361.8 245.4 362.6 245.9 360.9 246.5 356.6 247.0 349.2 247.6 360.2 248.1 357.9 248.7 355.6 249.2 360.0 249.8 356.8 250.3 353.3 250.9 361.7 251.4 360.6 252.0 346.0 252.5 362.7 253.1 361.7 253.6 364.4 254.2 355.9 254.7 366.1 255.3 354.9 255.8 356.1 256.4 361.9 256.9 359.7 257.5 366.2 258.0 368.7 258.6 363.4 259.1 355.1 259.7 362.8 260.2 352.5 260.8 348.8 261.3 353.4 261.9 346.9 262.4 353.7 263.0 357.0 263.5 351.7 264.1 354.8 264.6 343.1 265.2 358.9 265.7 359.4 266.3 354.6 266.8 354.3 267.4 356.7 267.9 357.6 268.5 357.7 269.0 347.7 269.6 352.2 270.1 350.3 270.7 351.7 271.2 351.9 271.8 355.3 272.3 352.5 272.9 340.0 273.4 350.0 274.0 358.2 274.5 358.1 275.1 349.7 275.6 351.5 276.2 356.4 276.7 354.3 277.3 358.3 277.8 359.5 278.4 359.4 278.9 349.3 279.5 355.8 280.0 358.4 280.6 360.0 281.1 354.2 281.7 363.7 282.2 361.8 282.8 353.8 283.3 363.3 283.9 370.7 284.4 371.3 285.0 386.5 285.5 376.0 286.1 375.4 286.6 380.1 287.2 390.3 287.7 379.2 288.3 376.7 288.8 363.7 289.4 361.7 289.9 373.7 290.5 367.4 291.0 372.3 291.6 366.1 292.1 374.4 292.7 372.6 293.2 366.8 293.8 372.9 294.3 374.6 294.9 374.3 295.4 371.1 296.0 385.6 296.5 378.5 297.1 369.6 297.6 377.8 298.2 377.2 298.7 373.8 299.3 368.0 299.8 371.6 300.4 377.9 300.9 370.1 301.5 374.9 302.0 380.5 302.6 383.5 303.1 391.0 303.7 390.2 304.2 377.6 304.8 378.8 305.3 373.3 305.9 368.6 306.4 377.3 307.0 380.3 307.5 368.7 308.1 384.6 308.6 380.4 309.2 380.9 309.7 379.3 310.3 382.0 310.8 380.9 311.4 381.4 311.9 385.3 312.5 386.5 313.0 382.2 313.6 375.6 314.1 378.0 314.7 377.7 315.2 382.5 315.8 381.1 316.3 381.8 316.9 374.8 317.4 365.9 318.0 372.8 318.5 379.3 319.1 368.0 319.6 381.3 320.2 379.7 320.7 380.2 321.3 375.9 321.8 375.7 322.4 377.6 322.9 375.9 323.5 378.0 324.0 377.4 324.6 365.9 325.1 385.3 325.7 380.0 326.2 377.4 326.8 374.6 327.3 380.2 327.9 370.9 328.4 383.1 329.0 383.8 329.5 380.0 330.1 378.5 330.6 379.7 331.2 379.4 331.7 372.2 332.3 370.1 332.8 375.2 333.4 365.9 333.9 370.4 334.5 372.5 335.0 356.7 335.6 371.7 336.1 361.2 336.7 357.3 337.2 368.4 337.8 372.6 338.3 368.1 338.9 368.8 339.4 367.5 340.0 372.6 340.5 363.7 341.1 379.3 341.6 360.2 342.2 365.7 342.7 376.1 343.3 372.5 343.8 388.4 344.4 368.4 344.9 376.9 345.5 370.4 346.0 374.4 346.6 386.1 347.1 375.2 347.7 376.1 348.2 370.2 348.8 373.5 349.3 372.8 349.9 370.1 350.4 380.3 351.0 387.7 351.5 376.1 352.1 371.0 352.6 378.2 353.2 378.3 353.7 374.9 354.3 372.6 354.8 371.7 355.4 367.6 355.9 365.5 356.5 375.0 357.0 363.5 357.6 372.8 358.1 366.7 358.7 374.3 359.2 373.7 359.8 372.3 360.3 370.3 360.9 375.5 361.4 371.3 362.0 367.3 362.5 365.5 363.1 379.3 363.6 366.5 364.2 371.7 364.7 361.8 365.3 374.2 365.8 371.9 366.4 374.4 366.9 375.2 367.5 369.0 368.0 369.2 368.6 369.9 369.1 358.8 369.7 371.5 370.2 374.9 370.8 384.0 371.3 371.1 371.9 372.2 372.4 383.2 373.0 377.3 373.5 371.8 374.1 374.8 374.6 380.5 375.2 371.2 375.7 368.1 376.3 371.0 376.8 371.9 377.4 377.2 377.9 372.8 378.5 365.4 379.0 369.9 379.6 379.2 380.1 374.1 380.7 375.2 381.2 375.1 381.8 374.1 382.3 372.0 382.9 375.8 383.4 378.0 384.0 374.7 384.5 365.5 385.1 370.1 385.6 366.6 386.2 365.5 386.7 370.2 387.3 376.1 387.8 368.6 388.4 368.2 388.9 366.5 389.5 370.6 390.0 364.4 390.6 369.6 391.1 374.5 391.7 369.4 392.2 367.5 392.8 371.3 393.3 368.2 393.9 365.1 394.4 370.4 395.0 370.9 395.5 369.1 396.1 374.0 396.6 380.0 397.2 381.5 397.7 375.2 398.3 373.3 398.8 376.3 399.4 377.2 399.9 366.2 400.5 373.4 401.0 372.0 401.6 358.9 402.1 371.1 402.7 370.4 403.2 374.2 403.8 375.3 404.3 371.5 404.9 372.4 405.4 372.0 406.0 378.8 406.5 377.0 407.1 375.0 407.6 369.7 408.2 370.0 408.7 361.0 409.3 373.2 409.8 379.1 410.4 372.6 410.9 361.8 411.5 373.2 412.0 380.8 412.6 380.6 413.1 385.5 413.7 384.7 414.2 385.7 414.8 381.1 415.3 384.3 415.9 381.1 416.4 381.8 417.0 375.4 417.5 371.8 418.1 377.3 418.6 382.4 419.2 385.3 419.7 379.4 420.3 372.2 420.8 376.9 421.4 380.5 421.9 378.0 422.5 383.4 423.0 380.1 423.6 379.0 424.1 380.5 424.7 383.7 425.2 382.6 425.8 375.3 426.3 387.3 426.9 396.6 427.4 388.3 428.0 385.8 428.5 377.5 429.1 384.3 429.6 383.7 430.2 385.5 430.7 385.3 431.3 376.1 431.8 387.2 432.4 380.7 432.9 383.6 433.5 389.2 434.0 373.7 434.6 382.4 435.1 378.8 435.7 375.7 436.2 377.7 436.8 376.4 437.3 376.4 437.9 374.6 438.4 374.5 439.0 365.2 439.5 373.6 440.1 388.0 440.6 374.4 441.2 374.1 441.7 377.1 442.3 373.0 442.8 379.3 443.4 374.5 443.9 376.6 444.5 378.8 445.0 372.2 445.6 383.4 446.1 385.6 446.7 377.2 447.2 379.9 447.8 377.8 448.3 370.8 448.9 376.2 449.4 380.9 450.0 385.4 450.5 383.3 451.1 382.7 451.6 388.6 452.2 383.3 452.7 389.6 453.3 384.7 453.8 381.2 454.4 376.7 454.9 382.6 455.5 380.7 456.0 380.7 456.6 383.5 457.1 373.0 457.7 378.8 458.2 382.6 458.8 385.0 459.3 375.3 459.9 378.0 460.4 369.7 461.0 378.0 461.5 383.4 462.1 378.9 462.6 379.5 463.2 378.3 463.7 377.7 464.3 378.8 464.8 387.4 465.4 369.2 465.9 383.8 466.5 377.9 467.0 389.3 467.6 385.6 468.1 384.2 468.7 382.6 469.2 385.3 469.8 384.7 470.3 386.6 470.9 381.5 471.4 378.8 472.0 383.1 472.5 382.3 473.1 376.9 473.6 378.2 474.2 382.0 474.7 377.1 475.3 368.8 475.8 373.5 476.4 372.5 476.9 374.1 477.5 372.3 478.0 377.5 478.6 380.3 479.1 377.7 479.7 367.5 480.2 368.6 480.8 376.0 481.3 379.9 481.9 378.3 482.4 370.9 483.0 383.6 483.5 371.3 484.1 376.6 484.6 376.1 485.2 386.6 485.7 374.2 486.3 375.7 486.8 380.2 487.4 373.7 487.9 363.2 488.5 376.5 489.0 373.9 489.6 377.3 490.1 375.7 490.7 373.7 491.2 369.8 491.8 380.1 492.3 369.9 492.9 368.8 493.4 370.2 494.0 371.7 494.5 377.1 495.1 372.1 495.6 365.6 496.2 378.8 496.7 382.2 497.3 375.3 497.8 375.6 498.4 374.4 498.9 369.0 499.5 373.8 500.0 369.1 500.6 377.9 501.1 379.9 501.7 378.2 502.2 365.1 502.8 368.0 503.3 376.6 503.9 373.5 504.4 376.4 505.0 376.6 505.5 376.0 506.1 378.1 506.6 378.4 507.2 375.4 507.7 377.2 508.3 377.6 508.8 379.3 509.4 387.9 509.9 382.0 510.5 389.9 511.0 384.1 511.6 386.2 512.1 383.9 512.7 380.8 513.2 379.4 513.8 375.2 514.3 376.4 514.9 378.6 515.4 369.8 516.0 368.9 516.5 369.2 517.1 371.8 517.6 376.2 518.2 376.5 518.7 372.0 519.3 388.6 519.8 377.1 520.4 374.5 520.9 381.1 521.5 378.0 522.0 379.9 522.6 379.4 523.1 378.5 523.7 373.7 524.2 376.9 524.8 367.5 525.3 371.3 525.9 369.0 526.4 365.6 527.0 363.0 527.5 358.4 528.1 366.5 528.6 379.4 529.2 364.6 529.7 372.8 530.3 376.6 530.8 378.9 531.4 380.6 531.9 369.8 532.5 380.2 533.0 385.9 533.6 379.4 534.1 375.3 534.7 376.3 535.2 376.1 535.8 375.8 536.3 374.5 536.9 371.1 537.4 372.2 538.0 376.9 538.5 368.8 539.1 375.4 539.6 373.8 540.2 374.3 540.7 376.7 541.3 371.0 541.8 368.6 542.4 383.3 542.9 368.5 543.5 372.9 544.0 362.4 544.6 368.6 545.1 373.6 545.7 378.4 546.2 378.1 546.8 378.3 547.3 377.7 547.9 374.8 548.4 376.0 549.0 380.6 549.5 380.2 550.1 380.9 550.6 381.5 551.2 372.3 551.7 380.3 552.3 375.9 552.8 377.2 553.4 380.0 553.9 377.8 554.5 377.2 555.0 382.1 555.6 377.7 556.1 382.3 556.7 377.7 557.2 380.1 557.8 378.8 558.3 379.3 558.9 373.4 559.4 381.1 560.0 382.6 560.5 375.8 561.1 386.0 561.6 375.9 562.2 371.0 562.7 379.6 563.3 391.7 563.8 376.9 564.4 377.5 564.9 379.3 565.5 382.8 566.0 382.6 566.6 376.2 567.1 373.6 567.7 373.0 568.2 375.7 568.8 382.7 569.3 379.3 569.9 373.3 570.4 391.8 571.0 378.1 571.5 373.7 572.1 387.6 572.6 382.6 573.2 371.4 573.7 385.0 574.3 375.3 574.8 393.4 575.4 383.0 575.9 377.9 576.5 376.0 577.0 378.0 577.6 372.9 578.1 379.0 578.7 369.2 579.2 382.0 579.8 383.7 580.3 386.0 580.9 374.7 581.4 377.1 582.0 381.0 582.5 372.6 583.1 381.4 583.6 376.7 584.2 377.1 584.7 381.4 585.3 385.3 585.8 379.6 586.4 384.0 586.9 386.9 587.5 383.1 588.0 397.8 588.6 380.5 589.1 388.7 589.7 386.2 590.2 377.6 590.8 379.4 591.3 380.2 591.9 373.9 592.4 378.1 593.0 380.9 593.5 367.0 594.1 376.2 594.6 377.4 595.2 371.9 595.7 375.8 596.3 375.2 596.8 378.3 597.4 378.9 597.9 375.2 598.5 377.8 599.0 382.0 599.6 379.2 600.1 376.7 600.7 376.6 601.2 384.0 601.8 361.7 602.3 372.2 602.9 367.1 603.4 375.0 604.0 383.0 604.5 380.8 605.1 379.6 605.6 376.0 606.2 376.6 606.7 379.7 607.3 379.9 607.8 375.1 608.4 386.7 608.9 383.0 609.5 378.6 610.0 379.5 610.6 376.5 611.1 374.9 611.7 378.1 612.2 379.0 612.8 382.6 613.3 384.1 613.9 387.9 614.4 387.2 615.0 379.6 615.5 381.3 616.1 390.8 616.6 384.6 617.2 385.7 617.7 383.2 618.3 383.0 618.8 385.7 619.4 384.5 619.9 379.2 620.5 385.5 621.0 393.2 621.6 377.7 622.1 373.9 622.7 375.7 623.2 376.6 623.8 373.3 624.3 379.4 624.9 377.0 625.4 378.3 626.0 379.0 626.5 381.4 627.1 382.0 627.6 381.0 628.2 374.9 628.7 378.0 629.3 387.4 629.8 386.1 630.4 385.3 630.9 382.5 631.5 383.7 632.0 389.6 632.6 379.5 633.1 373.6 633.7 366.8 634.2 340.0 634.8 323.8 635.3 315.5 635.9 325.5 636.4 325.8 637.0 318.5 637.5 332.4 638.1 322.0 638.6 329.4 639.2 317.3 639.7 323.6 640.3 320.5 640.8 323.0 641.4 325.6 641.9 320.0 642.5 314.5 643.0 312.7 643.6 321.7 644.1 321.5 644.7 311.3 645.2 316.9 645.8 317.5 646.3 322.2 646.9 330.8 647.4 323.0 648.0 328.1 648.5 325.9 649.1 335.4 649.6 333.0 650.2 330.2 650.7 328.4 651.3 325.9 651.8 328.0 652.4 317.9 652.9 326.3 653.5 323.5 654.0 332.2 654.6 319.0 655.1 327.0 655.7 332.8 656.2 333.5 656.8 332.1 657.3 344.0 657.9 330.9 658.4 326.7 659.0 333.0 659.5 330.3 660.1 327.8 660.6 327.5 661.2 332.0 661.7 326.4 662.3 322.9 662.8 321.6 663.4 321.5 663.9 322.4 664.5 322.2 665.0 325.8 665.6 325.2 666.1 317.4 666.7 322.7 667.2 321.5 667.8 324.4 668.3 331.9 668.9 326.1 669.4 327.1 670.0 325.6 670.5 325.5 671.1 323.8 671.6 327.6 672.2 328.8 672.7 330.6 673.3 329.8 673.8 323.2 674.4 323.8 674.9 319.5 675.5 318.0 676.0 336.2 676.6 313.6 677.1 322.6 677.7 325.0 678.2 319.5 678.8 324.5 679.3 325.3 679.9 323.4 680.4 326.6 681.0 327.0 681.5 319.1 682.1 326.8 682.6 323.4 683.2 326.8 683.7 323.8 684.3 326.1 684.8 315.3 685.4 331.2 685.9 326.5 686.5 325.0 687.0 315.2 687.6 331.8 688.1 328.6 688.7 324.2 689.2 338.4 689.8 335.8 690.3 335.9 690.9 329.6 691.4 327.8 692.0 334.2 692.5 330.2 693.1 337.5 693.6 333.0 694.2 339.1 694.7 334.6 695.3 321.0 695.8 331.2 696.4 324.6 696.9 324.3 697.5 334.5 698.0 334.4 698.6 332.7 699.1 335.2 699.7 330.5 700.2 334.6 700.8 334.2 701.3 324.6 701.9 329.9 702.4 333.3 703.0 333.2 703.5 332.7 704.1 335.3 704.6 333.5 705.2 338.5 705.7 337.0 706.3 328.7 706.8 337.0 707.4 333.1 707.9 332.2 708.5 331.1 709.0 322.5 709.6 325.3 710.1 320.4 710.7 333.3 711.2 337.0 711.8 328.6 712.3 325.5 712.9 335.2 713.4 329.9 714.0 326.3 714.5 327.7 715.1 332.5 715.6 337.2 716.2 339.1 716.7 332.9 717.3 332.9 717.8 332.0 718.4 327.4 718.9 337.7 719.5 333.7 720.0 334.3 720.6 336.4 721.1 328.7 721.7 343.4 722.2 329.5 722.8 334.0 723.3 332.9 723.9 324.2 724.4 326.8 725.0 326.3 725.5 324.5 726.1 322.7 726.6 326.5 727.2 332.5 727.7 323.6 728.3 330.9 728.8 329.8 729.4 329.7 729.9 328.4 730.5 335.9 731.0 330.7 731.6 330.4 732.1 328.3 732.7 329.6 733.2 332.8 733.8 331.2 734.3 335.4 734.9 337.9 735.4 321.1 736.0 331.7 736.5 332.0 737.1 332.0 737.6 334.0 738.2 330.9 738.7 334.3 739.3 333.1 739.8 345.2 740.4 338.0 740.9 340.8 741.5 336.8 742.0 333.6 742.6 332.1 743.1 334.8 743.7 329.7 744.2 327.7 744.8 334.5 745.3 322.6 745.9 337.9 746.4 339.5 747.0 336.6 747.5 335.7 748.1 341.9 748.6 331.1 749.2 330.8 749.7 328.0 750.3 335.3 750.8 339.4 751.4 327.8 751.9 327.4 752.5 324.9 753.0 325.7 753.6 329.0 754.1 329.0 754.7 326.5 755.2 334.0 755.8 332.4 756.3 322.9 756.9 329.8 757.4 333.3 758.0 330.5 758.5 331.5 759.1 334.8 759.6 333.8 760.2 326.5 760.7 333.4 761.3 333.9 761.8 334.0 762.4 329.2 762.9 331.9 763.5 332.9 764.0 336.0 764.6 335.6 765.1 333.0 765.7 333.3 766.2 336.9 766.8 337.4 767.3 331.4 767.9 339.9 768.4 338.7 769.0 337.5 769.5 343.8 770.1 325.2 770.6 339.1 771.2 336.3 771.7 327.0 772.3 328.9 772.8 332.3 773.4 320.1 773.9 337.0 774.5 322.7 775.0 332.6 775.6 320.7 776.1 328.7 776.7 340.6 777.2 323.2 777.8 329.8 778.3 328.6 778.9 333.8 779.4 331.8 780.0 339.1 780.5 333.6 781.1 331.5 781.6 328.2 782.2 334.9 782.7 339.8 783.3 336.0 783.8 335.7 784.4 325.1 784.9 330.7 785.5 319.4 786.0 325.1 786.6 322.3 787.1 335.0 787.7 329.8 788.2 325.8 788.8 327.6 789.3 327.8 789.9 328.8 790.4 329.7 791.0 333.8 791.5 327.9 792.1 328.7 792.6 332.7 793.2 330.7 793.7 324.5 794.3 328.2 794.8 327.8 795.4 320.1 795.9 340.9 796.5 330.9 797.0 329.4 797.6 335.9 798.1 320.2 798.7 320.7 799.2 328.3 799.8 329.3 800.3 327.4 800.9 326.0 801.4 336.4 802.0 321.3 802.5 330.5 803.1 333.9 803.6 326.8 804.2 324.6 804.7 321.7 805.3 340.8 805.8 327.5 806.4 322.9 806.9 327.0 807.5 328.6 808.0 336.9 808.6 330.0 809.1 328.1 809.7 320.3 810.2 329.8 810.8 328.9 811.3 323.0 811.9 333.4 812.4 334.9 813.0 330.3 813.5 333.0 814.1 334.3 814.6 335.6 815.2 330.2 815.7 327.9 816.3 328.5 816.8 327.2 817.4 332.3 817.9 336.0 818.5 330.1 819.0 318.1 819.6 335.4 820.1 336.0 820.7 336.6 821.2 336.1 821.8 338.0 822.3 324.2 822.9 341.9 823.4 333.6 824.0 335.2 824.5 334.6 825.1 334.7 825.6 336.5 826.2 340.8 826.7 339.2 827.3 343.3 827.8 333.7 828.4 338.9 828.9 336.0 829.5 321.0 830.0 337.5 830.6 318.5 831.1 333.2 831.7 335.3 832.2 338.2 832.8 339.8 833.3 329.0 833.9 328.5 834.4 336.7 835.0 350.3 835.5 334.4 836.1 323.4 836.6 334.2 837.2 326.0 837.7 330.9 838.3 338.4 838.8 339.8 839.4 331.1 839.9 338.0 840.5 341.1 841.0 338.3 841.6 340.6 842.1 336.1 842.7 336.3 843.2 344.6 843.8 341.6 844.3 333.4 844.9 336.0 845.4 350.3 846.0 338.7 846.5 340.3 847.1 343.2 847.6 341.0 848.2 342.8 848.7 337.0 849.3 349.4 849.8 341.7 850.4 345.5 850.9 354.3 851.5 344.4 852.0 346.8 852.6 349.5 853.1 336.1 853.7 345.3 854.2 340.6 854.8 340.0 855.3 342.4 855.9 333.5 856.4 341.5 857.0 341.5 857.5 350.2 858.1 339.3 858.6 339.6 859.2 337.1 859.7 338.9 860.3 340.3 860.8 334.6 861.4 345.6 861.9 347.9 862.5 336.8 863.0 338.8 863.6 340.2 864.1 345.0 864.7 340.1 865.2 342.5 865.8 346.1 866.3 342.4 866.9 336.4 867.4 344.1 868.0 343.7 868.5 348.9 869.1 345.6 869.6 348.2 870.2 340.4 870.7 341.2 871.3 334.1 871.8 340.9 872.4 338.8 872.9 345.2 873.5 339.1 874.0 339.2 874.6 339.7 875.1 342.9 875.7 351.9 876.2 351.4 876.8 342.0 877.3 353.2 877.9 347.8 878.4 350.0 879.0 342.7 879.5 341.3 880.1 342.5 880.6 348.7 881.2 347.2 881.7 346.7 882.3 339.5 882.8 345.4 883.4 348.7 883.9 354.0 884.5 345.1 885.0 342.7 885.6 340.8 886.1 331.8 886.7 340.5 887.2 342.9 887.8 348.7 888.3 332.8 888.9 344.9 889.4 340.0 890.0 341.6 890.5 343.2 891.1 344.7 891.6 342.7 892.2 345.4 892.7 344.0 893.3 346.4 893.8 352.4 894.4 341.1 894.9 350.8 895.5 341.0 896.0 347.9 896.6 339.0 897.1 332.5 897.7 342.0 898.2 333.4 898.8 345.6 899.3 341.0 899.9 339.0 900.4 337.0 901.0 342.9 901.5 340.2 902.1 341.2 902.6 347.7 903.2 338.6 903.7 335.2 904.3 336.6 904.8 343.6 905.4 338.9 905.9 340.5 906.5 345.7 907.0 346.0 907.6 342.4 908.1 337.8 908.7 350.6 909.2 343.8 909.8 348.1 910.3 344.8 910.9 347.8 911.4 343.3 912.0 344.4 912.5 338.8 913.1 343.7 913.6 342.2 914.2 340.1 914.7 339.3 915.3 341.6 915.8 340.2 916.4 336.3 916.9 337.6 917.5 339.7 918.0 341.8 918.6 335.7 919.1 342.9 919.7 331.7 920.2 334.0 920.8 341.1 921.3 332.2 921.9 335.5 922.4 336.5 923.0 340.3 923.5 350.2 924.1 340.7 924.6 327.8 925.2 334.1 925.7 348.0 926.3 339.8 926.8 353.0 927.4 348.1 927.9 340.7 928.5 344.8 929.0 342.2 929.6 340.3 930.1 338.5 930.7 336.8 931.2 330.8 931.8 334.4 932.3 339.6 932.9 338.2 933.4 332.2 934.0 333.1 934.5 341.8 935.1 332.3 935.6 340.1 936.2 329.9 936.7 340.0 937.3 335.5 937.8 318.4 938.4 338.6 938.9 339.7 939.5 339.3 940.0 337.1 940.6 345.7 941.1 341.6 941.7 341.1 942.2 336.9 942.8 314.9 943.3 336.4 943.9 331.2 944.4 336.1 945.0 334.0 945.5 336.1 946.1 332.0 946.6 341.9 947.2 311.4 947.7 348.1 948.3 335.1 948.8 337.7 949.4 335.1 949.9 336.5 950.5 328.2 951.0 316.6 951.6 340.4 952.1 343.1 952.7 342.3 953.2 346.5 953.8 337.5 954.3 339.6 954.9 336.7 955.4 335.1 956.0 339.6 956.5 332.5 957.1 337.5 957.6 334.4 958.2 338.2 958.7 343.9 959.3 352.1 959.8 335.2 960.4 337.2 960.9 336.9 961.5 332.7 962.0 332.0 962.6 336.0 963.1 337.9 963.7 330.2 964.2 337.6 964.8 336.8 965.3 328.5 965.9 338.7 966.4 335.9 967.0 343.6 967.5 341.1 968.1 338.0 968.6 339.5 969.2 337.1 969.7 333.6 970.3 329.8 970.8 342.0 971.4 334.6 971.9 328.5 972.5 337.1 973.0 345.1 973.6 341.6 974.1 335.9 974.7 326.3 975.2 345.0 975.8 337.9 976.3 343.5 976.9 334.7 977.4 344.8 978.0 342.2 978.5 354.9 979.1 336.8 979.6 348.2 980.2 339.0 980.7 340.5 981.3 341.7 981.8 338.5 982.4 342.9 982.9 342.9 983.5 336.9 984.0 341.3 984.6 343.6 985.1 349.2 985.7 342.5 986.2 344.5 986.8 350.7 987.3 348.2 987.9 364.8 988.4 352.1 989.0 348.8 989.5 354.8 990.1 353.2 990.6 351.0 991.2 354.9 991.7 343.2 992.3 348.7 992.8 352.1 993.4 351.6 993.9 347.4 994.5 356.0 995.0 348.4 995.6 349.4 996.1 351.6 996.7 353.2 997.2 351.8 997.8 354.2 998.3 354.0 998.9 342.3 999.4 347.4 1000.0 355.3 1000.5 356.4 1001.1 362.4 1001.6 357.7 1002.2 366.8 1002.7 358.0 1003.3 360.8 1003.8 357.8 1004.4 352.5 1004.9 357.4 1005.5 363.3 1006.0 352.4 1006.6 351.3 1007.1 356.0 1007.7 357.2 1008.2 345.6 1008.8 361.6 1009.3 356.7 1009.9 353.6 1010.4 350.1 1011.0 357.6 1011.5 357.1 1012.1 363.0 1012.6 360.0 1013.2 359.8 1013.7 372.1 1014.3 362.8 1014.8 366.5 1015.4 362.0 1015.9 365.4 1016.5 358.6 1017.0 369.7 1017.6 353.9 1018.1 354.6 1018.7 349.3 1019.2 355.8 1019.8 356.4 1020.3 353.5 1020.9 362.5 1021.4 367.8 1022.0 354.7 1022.5 360.7 1023.1 358.8 1023.6 363.2 1024.2 351.0 1024.7 354.4 1025.3 368.1 1025.8 354.3 1026.4 355.4 1026.9 364.2 1027.5 357.3 1028.0 356.6 1028.6 362.1 1029.1 356.9 1029.7 364.2 1030.2 362.7 1030.8 364.5 1031.3 360.6 1031.9 359.4 1032.4 362.3 1033.0 352.3 1033.5 361.7 1034.1 361.1 1034.6 363.1 1035.2 370.5 1035.7 371.2 1036.3 368.4 1036.8 367.8 1037.4 363.0 1037.9 360.0 1038.5 362.9 1039.0 362.5 1039.6 362.6 1040.1 364.7 1040.7 359.6 1041.2 370.3 1041.8 364.1 1042.3 367.9 1042.9 369.0 1043.4 372.3 1044.0 373.9 1044.5 359.2 1045.1 355.7 1045.6 374.5 1046.2 370.0 1046.7 363.5 1047.3 368.0 1047.8 367.6 1048.4 362.1 1048.9 365.3 1049.5 364.9 1050.0 359.6 1050.6 348.1 1051.1 372.3 1051.7 361.4 1052.2 357.8 1052.8 360.0 1053.3 360.8 1053.9 351.6 1054.4 370.3 1055.0 362.6 1055.5 368.4 1056.1 374.2 1056.6 364.2 1057.2 365.3 1057.7 366.1 1058.3 370.5 1058.8 371.8 1059.4 367.4 1059.9 373.8 1060.5 371.6 1061.0 370.1 1061.6 365.2 1062.1 365.0 1062.7 372.0 1063.2 365.7 1063.8 370.9 1064.3 368.6 1064.9 367.9 1065.4 369.8 1066.0 367.8 1066.5 369.1 1067.1 380.3 1067.6 354.7 1068.2 365.6 1068.7 366.8 1069.3 367.6 1069.8 360.4 1070.4 363.5 1070.9 360.8 1071.5 360.7 1072.0 360.7 1072.6 372.8 1073.1 368.6 1073.7 356.9 1074.2 381.7 1074.8 365.7 1075.3 372.9 1075.9 363.5 1076.4 365.3 1077.0 368.2 1077.5 362.8 1078.1 365.7 1078.6 369.2 1079.2 371.8 1079.7 369.9 1080.3 354.2 1080.8 363.6 1081.4 376.1 1081.9 374.0 1082.5 367.5 1083.0 366.7 1083.6 371.5 1084.1 370.6 1084.7 364.4 1085.2 378.5 1085.8 367.5 1086.3 369.6 1086.9 366.3 1087.4 368.5 1088.0 372.4 1088.5 372.9 1089.1 364.1 1089.6 362.2 1090.2 369.9 1090.7 366.9 1091.3 366.4 1091.8 362.5 1092.4 366.9 1092.9 371.4 1093.5 363.2 1094.0 368.3 1094.6 355.4 1095.1 363.7 1095.7 372.0 1096.2 373.9 1096.8 372.1 1097.3 368.1 1097.9 374.9 1098.4 363.1 1099.0 375.1 1099.5 382.3 1100.1 372.3 1100.6 369.2 1101.2 370.1 1101.7 367.1 1102.3 367.0 1102.8 368.9 1103.4 368.6 1103.9 371.2 1104.5 369.5 1105.0 375.1 1105.6 378.9 1106.1 380.2 1106.7 380.0 1107.2 385.7 1107.8 369.4 1108.3 376.4 1108.9 368.4 1109.4 372.3 1110.0 372.8 1110.5 375.5 1111.1 380.3 1111.6 380.0 1112.2 375.1 1112.7 379.8 1113.3 380.2 1113.8 370.3 1114.4 371.6 1114.9 381.7 1115.5 384.2 1116.0 375.0 1116.6 371.8 1117.1 376.2 1117.7 376.1 1118.2 373.9 1118.8 369.1 1119.3 373.7 1119.9 388.9 1120.4 378.3 1121.0 377.0 1121.5 380.1 1122.1 373.6 1122.6 374.6 1123.2 380.8 1123.7 378.2 1124.3 385.5 1124.8 380.0 1125.4 380.2 1125.9 383.6 1126.5 389.3 1127.0 378.1 1127.6 377.6 1128.1 383.5 1128.7 377.0 1129.2 391.4 1129.8 378.0 1130.3 377.1 1130.9 376.4 1131.4 386.5 1132.0 386.3 1132.5 375.4 1133.1 385.6 1133.6 383.5 1134.2 387.3 1134.7 386.1 1135.3 377.9 1135.8 384.9 1136.4 385.0 1136.9 392.5 1137.5 389.3 1138.0 394.9 1138.6 387.5 1139.1 392.8 1139.7 379.3 1140.2 388.4 1140.8 385.7 1141.3 389.8 1141.9 387.5 1142.4 395.4 1143.0 384.0 1143.5 388.6 1144.1 401.5 1144.6 398.6 1145.2 393.7 1145.7 396.4 1146.3 390.7 1146.8 390.6 1147.4 390.2 1147.9 398.1 1148.5 399.4 1149.0 383.8 1149.6 391.1 1150.1 390.2 1150.7 386.0 1151.2 378.3 1151.8 386.3 1152.3 380.3 1152.9 384.8 1153.4 384.5 1154.0 387.3 1154.5 382.5 1155.1 396.7 1155.6 384.4 1156.2 395.6 1156.7 398.6 1157.3 395.0 1157.8 393.2 1158.4 398.1 1158.9 387.5 1159.5 396.8 1160.0 394.9 1160.6 388.9 1161.1 382.9 1161.7 394.1 1162.2 392.1 1162.8 386.0 1163.3 396.5 1163.9 391.3 1164.4 392.3 1165.0 394.3 1165.5 400.2 1166.1 390.8 1166.6 396.0 1167.2 396.3 1167.7 398.6 1168.3 393.0 1168.8 404.7 1169.4 405.5 1169.9 419.3 1170.5 396.8 1171.0 392.3 1171.6 387.5 1172.1 392.5 1172.7 393.8 1173.2 389.7 1173.8 389.7 1174.3 393.7 1174.9 384.0 1175.4 389.1 1176.0 386.4 1176.5 387.2 1177.1 395.0 1177.6 385.0 1178.2 391.2 1178.7 386.9 1179.3 388.0 1179.8 388.4 1180.4 391.2 1180.9 396.8 1181.5 401.2 1182.0 397.2 1182.6 398.1 1183.1 399.4 1183.7 395.8 1184.2 400.3 1184.8 398.8 1185.3 393.3 1185.9 402.2 1186.4 393.5 1187.0 391.2 1187.5 389.2 1188.1 397.6 1188.6 393.9 1189.2 393.6 1189.7 380.9 1190.3 396.9 1190.8 392.3 1191.4 393.7 1191.9 402.3 1192.5 394.5 1193.0 385.4 1193.6 394.2 1194.1 381.4 1194.7 387.2 1195.2 388.4 1195.8 386.2 1196.3 383.8 1196.9 384.8 1197.4 388.2 1198.0 396.6 1198.5 394.9 1199.1 390.5 1199.6 383.6 1200.2 392.3 1200.7 383.9 1201.3 389.0 1201.8 395.1 1202.4 391.2 1202.9 399.3 1203.5 393.0 1204.0 389.1 1204.6 391.3 1205.1 388.3 1205.7 373.7 1206.2 382.9 1206.8 384.1 1207.3 389.9 1207.9 399.3 1208.4 392.3 1209.0 387.3 1209.5 389.8 1210.1 383.8 1210.6 385.6 1211.2 390.5 1211.7 394.7 1212.3 390.9 1212.8 379.4 1213.4 384.4 1213.9 378.7 1214.5 383.9 1215.0 383.4 1215.6 382.3 1216.1 381.8 1216.7 384.1 1217.2 379.5 1217.8 384.4 1218.3 379.6 1218.9 378.7 1219.4 383.8 1220.0 380.4 1220.5 382.4 1221.1 380.1 1221.6 372.1 1222.2 379.6 1222.7 375.7 1223.3 377.2 1223.8 373.6 1224.4 376.2 1224.9 377.3 1225.5 369.6 1226.0 375.6 1226.6 378.0 1227.1 374.9 1227.7 376.8 1228.2 378.9 1228.8 376.5 1229.3 378.1 1229.9 374.8 1230.4 372.6 1231.0 372.1 1231.5 368.2 1232.1 368.1 1232.6 372.1 1233.2 377.7 1233.7 375.0 1234.3 375.2 1234.8 377.6 1235.4 383.4 1235.9 379.7 1236.5 376.8 1237.0 384.0 1237.6 379.2"/>
<path stroke="#0000ff" d="M98.0 369.6 98.5 373.3 99.1 371.9 99.6 366.4 100.2 371.6 100.7 365.2 101.3 365.2 101.8 368.1 102.4 367.5 102.9 364.7 103.5 368.1 104.0 367.1 104.6 365.7 105.1 362.9 105.7 366.9 106.2 366.7 106.8 364.8 107.3 364.1 107.9 362.5 108.4 368.1 109.0 362.8 109.5 364.5 110.1 362.6 110.6 362.0 111.2 364.5 111.7 366.9 112.3 365.0 112.8 358.8 113.4 367.7 113.9 364.7 114.5 361.9 115.0 358.9 115.6 366.1 116.1 355.8 116.7 367.1 117.2 364.1 117.8 368.6 118.3 366.7 118.9 363.9 119.4 364.4 120.0 363.0 120.5 362.4 121.1 365.9 121.6 370.5 122.2 364.1 122.7 363.2 123.3 358.7 123.8 364.7 124.4 366.0 124.9 363.0 125.5 360.5 126.0 363.0 126.6 362.9 127.1 361.5 127.7 363.5 128.2 368.2 128.8 364.4 129.3 368.0 129.9 364.7 130.4 359.1 131.0 362.8 131.5 365.7 132.1 364.1 132.6 369.7 133.2 362.7 133.7 365.8 134.3 363.8 134.8 370.6 135.4 365.0 135.9 366.3 136.5 364.7 137.0 365.5 137.6 360.2 138.1 366.5 138.7 360.2 139.2 364.9 139.8 364.1 140.3 366.2 140.9 362.8 141.4 360.5 142.0 362.1 142.5 363.6 143.1 363.0 143.6 366.3 144.2 365.5 144.7 364.0 145.3 362.4 145.8 358.6 146.4 367.8 146.9 358.4 147.5 357.8 148.0 359.6 148.6 358.4 149.1 361.8 149.7 362.2 150.2 360.9 150.8 366.5 151.3 364.2 151.9 364.8 152.4 359.1 153.0 359.6 153.5 368.9 154.1 365.3 154.6 362.5 155.2 364.9 155.7 365.5 156.3 370.8 156.8 357.3 157.4 369.0 157.9 360.2 158.5 361.0 159.0 361.6 159.6 360.2 160.1 365.3 160.7 362.1 161.2 362.1 161.8 364.6 162.3 364.8 162.9 361.2 163.4 365.6 164.0 366.9 164.5 367.3 165.1 364.9 165.6 369.4 166.2 363.7 166.7 361.7 167.3 366.2 167.8 360.9 168.4 361.4 168.9 361.7 169.5 365.9 170.0 364.7 170.6 360.8 171.1 362.5 171.7 366.0 172.2 362.5 172.8 367.3 173.3 370.1 173.9 366.2 174.4 367.8 175.0 366.2 175.5 366.8 176.1 365.7 176.6 363.4 177.2 372.9 177.7 356.8 178.3 366.3 178.8 365.8 179.4 361.3 179.9 364.0 180.5 364.9 181.0 365.5 181.6 365.1 182.1 364.5 182.7 363.6 183.2 363.1 183.8 363.3 184.3 369.1 184.9 363.1 185.4 366.6 186.0 359.2 186.5 362.2 187.1 358.5 187.6 354.8 188.2 355.6 188.7 356.2 189.3 359.5 189.8 356.9 190.4 355.1 190.9 361.8 191.5 363.8 192.0 358.3 192.6 359.6 193.1 356.7 193.7 360.2 194.2 356.1 194.8 358.2 195.3 357.6 195.9 354.7 196.4 355.9 197.0 354.9 197.5 356.9 198.1 356.6 198.6 356.6 199.2 360.4 199.7 354.3 200.3 353.3 200.8 355.3 201.4 368.9 201.9 365.8 202.5 366.8 203.0 366.6 203.6 373.1 204.1 365.9 204.7 369.1 205.2 368.9 205.8 375.8 206.3 374.9 206.9 373.5 207.4 372.5 208.0 373.2 208.5 369.6 209.1 371.5 209.6 373.9 210.2 371.2 210.7 371.9 211.3 375.6 211.8 379.8 212.4 372.8 212.9 374.1 213.5 372.2 214.0 373.2 214.6 370.4 215.1 371.1 215.7 367.9 216.2 373.1 216.8 365.3 217.3 373.1 217.9 367.2 218.4 364.2 219.0 369.1 219.5 371.8 220.1 366.9 220.6 365.6 221.2 366.3 221.7 365.5 222.3 367.6 222.8 358.8 223.4 365.5 223.9 367.5 224.5 368.7 225.0 368.1 225.6 369.0 226.1 366.6 226.7 369.5 227.2 371.7 227.8 368.0 228.3 368.7 228.9 373.7 229.4 366.9 230.0 368.7 230.5 368.4 231.1 369.3 231.6 367.6 232.2 371.6 232.7 378.3 233.3 370.7 233.8 365.2 234.4 369.3 234.9 368.3 235.5 369.1 236.0 372.8 236.6 371.5 237.1 370.8 237.7 370.8 238.2 370.6 238.8 371.8 239.3 373.3 239.9 370.0 240.4 368.5 241.0 367.8 241.5 367.1 242.1 372.2 242.6 369.1 243.2 369.8 243.7 374.7 244.3 367.5 244.8 365.9 245.4 373.8 245.9 367.4 246.5 371.6 247.0 371.1 247.6 370.2 248.1 366.5 248.7 371.8 249.2 374.6 249.8 372.8 250.3 368.6 250.9 373.6 251.4 372.7 252.0 372.1 252.5 376.2 253.1 375.4 253.6 375.6 254.2 371.8 254.7 372.3 255.3 371.4 255.8 370.0 256.4 363.4 256.9 367.4 257.5 373.5 258.0 363.0 258.6 369.7 259.1 370.5 259.7 367.2 260.2 364.0 260.8 363.7 261.3 366.3 261.9 370.5 262.4 361.5 263.0 365.6 263.5 367.3 264.1 365.7 264.6 365.4 265.2 366.9 265.7 366.9 266.3 369.2 266.8 360.9 267.4 365.9 267.9 363.7 268.5 358.0 269.0 365.7 269.6 366.3 270.1 366.0 270.7 367.0 271.2 361.6 271.8 365.4 272.3 365.0 272.9 369.1 273.4 364.0 274.0 368.3 274.5 365.8 275.1 362.2 275.6 369.6 276.2 363.7 276.7 365.7 277.3 366.5 277.8 363.0 278.4 366.0 278.9 367.0 279.5 361.0 280.0 372.5 280.6 366.5 281.1 363.8 281.7 362.6 282.2 363.8 282.8 366.5 283.3 367.3 283.9 366.9 284.4 363.7 285.0 365.8 285.5 366.0 286.1 363.6 286.6 364.5 287.2 366.9 287.7 368.1 288.3 365.4 288.8 364.1 289.4 365.5 289.9 361.8 290.5 365.9 291.0 367.7 291.6 369.4 292.1 367.6 292.7 362.6 293.2 370.9 293.8 369.0 294.3 368.8 294.9 369.8 295.4 368.1 296.0 367.5 296.5 367.5 297.1 367.5 297.6 369.5 298.2 366.8 298.7 364.8 299.3 365.2 299.8 369.7 300.4 364.3 300.9 366.8 301.5 364.7 302.0 363.6 302.6 363.9 303.1 362.3 303.7 361.4 304.2 363.7 304.8 356.4 305.3 357.8 305.9 359.9 306.4 354.9 307.0 358.9 307.5 356.8 308.1 357.1 308.6 362.8 309.2 358.8 309.7 361.1 310.3 360.9 310.8 366.9 311.4 361.9 311.9 366.0 312.5 360.3 313.0 362.7 313.6 360.6 314.1 355.4 314.7 359.9 315.2 359.9 315.8 365.0 316.3 360.3 316.9 362.7 317.4 357.5 318.0 359.0 318.5 356.5 319.1 366.3 319.6 360.9 320.2 359.5 320.7 358.1 321.3 359.5 321.8 356.3 322.4 356.4 322.9 360.1 323.5 358.0 324.0 358.3 324.6 352.8 325.1 357.9 325.7 351.1 326.2 359.2 326.8 355.9 327.3 360.3 327.9 359.9 328.4 358.3 329.0 359.5 329.5 358.5 330.1 358.8 330.6 358.5 331.2 357.6 331.7 354.8 332.3 358.9 332.8 358.4 333.4 356.2 333.9 361.1 334.5 363.0 335.0 355.3 335.6 361.4 336.1 358.9 336.7 356.4 337.2 360.3 337.8 359.4 338.3 361.6 338.9 357.2 339.4 360.5 340.0 363.9 340.5 359.4 341.1 359.0 341.6 361.2 342.2 361.5 342.7 358.7 343.3 359.2 343.8 362.5 344.4 356.7 344.9 362.3 345.5 364.6 346.0 359.4 346.6 358.3 347.1 356.1 347.7 359.9 348.2 359.0 348.8 357.0 349.3 358.2 349.9 358.4 350.4 357.8 351.0 363.4 351.5 355.8 352.1 357.1 352.6 355.5 353.2 356.7 353.7 359.8 354.3 354.8 354.8 353.3 355.4 358.2 355.9 351.8 356.5 359.9 357.0 356.2 357.6 357.7 358.1 356.1 358.7 356.4 359.2 356.4 359.8 356.0 360.3 358.2 360.9 358.4 361.4 349.7 362.0 355.5 362.5 359.3 363.1 357.2 363.6 357.8 364.2 354.7 364.7 355.9 365.3 358.5 365.8 358.6 366.4 358.9 366.9 355.4 367.5 358.7 368.0 353.6 368.6 357.1 369.1 358.9 369.7 362.1 370.2 359.6 370.8 363.6 371.3 361.6 371.9 361.5 372.4 359.0 373.0 362.4 373.5 360.6 374.1 362.6 374.6 360.9 375.2 359.7 375.7 360.9 376.3 354.7 376.8 362.6 377.4 363.6 377.9 363.5 378.5 362.0 379.0 367.8 379.6 363.1 380.1 355.0 380.7 356.2 381.2 355.6 381.8 354.8 382.3 356.3 382.9 354.3 383.4 358.8 384.0 356.7 384.5 363.3 385.1 357.8 385.6 359.5 386.2 357.1 386.7 357.1 387.3 357.5 387.8 359.3 388.4 357.2 388.9 360.3 389.5 360.5 390.0 357.2 390.6 354.2 391.1 356.1 391.7 355.5 392.2 354.8 392.8 350.9 393.3 353.4 393.9 358.5 394.4 355.3 395.0 358.5 395.5 353.5 396.1 355.9 396.6 355.0 397.2 353.1 397.7 347.3 398.3 352.8 398.8 361.1 399.4 354.8 399.9 353.5 400.5 354.3 401.0 350.7 401.6 352.3 402.1 351.4 402.7 350.2 403.2 352.7 403.8 345.4 404.3 352.9 404.9 354.3 405.4 348.2 406.0 355.6 406.5 350.3 407.1 350.1 407.6 350.5 408.2 349.0 408.7 349.2 409.3 353.9 409.8 352.8 410.4 350.0 410.9 351.9 411.5 349.9 412.0 350.4 412.6 353.3 413.1 357.6 413.7 356.0 414.2 355.1 414.8 351.2 415.3 350.8 415.9 350.2 416.4 350.2 417.0 353.6 417.5 352.8 418.1 352.3 418.6 353.4 419.2 352.5 419.7 355.2 420.3 353.1 420.8 353.1 421.4 355.7 421.9 352.6 422.5 355.4 423.0 355.6 423.6 359.0 424.1 357.1 424.7 355.9 425.2 354.0 425.8 355.7 426.3 351.8 426.9 356.7 427.4 354.2 428.0 353.6 428.5 355.2 429.1 355.2 429.6 350.7 430.2 353.9 430.7 352.5 431.3 350.5 431.8 351.4 432.4 353.3 432.9 349.3 433.5 349.4 434.0 350.1 434.6 348.4 435.1 344.2 435.7 354.2 436.2 351.4 436.8 346.0 437.3 351.4 437.9 350.8 438.4 349.2 439.0 354.0 439.5 347.6 440.1 351.0 440.6 352.6 441.2 351.1 441.7 344.6 442.3 354.5 442.8 351.1 443.4 354.1 443.9 352.2 444.5 351.5 445.0 351.4 445.6 348.6 446.1 346.5 446.7 351.1 447.2 346.2 447.8 346.4 448.3 354.5 448.9 354.5 449.4 342.3 450.0 349.8 450.5 347.3 451.1 347.2 451.6 347.8 452.2 348.1 452.7 350.5 453.3 342.5 453.8 350.0 454.4 350.9 454.9 349.7 455.5 351.1 456.0 352.7 456.6 347.0 457.1 355.2 457.7 351.4 458.2 349.1 458.8 343.6 459.3 349.6 459.9 350.5 460.4 350.0 461.0 352.2 461.5 353.8 462.1 346.9 462.6 352.5 463.2 355.6 463.7 351.9 464.3 352.8 464.8 349.8 465.4 347.9 465.9 349.3 466.5 343.0 467.0 338.8 467.6 336.4 468.1 335.7 468.7 334.9 469.2 336.7 469.8 331.8 470.3 336.4 470.9 336.0 471.4 335.7 472.0 332.5 472.5 332.2 473.1 336.3 473.6 335.6 474.2 343.0 474.7 335.7 475.3 337.5 475.8 335.6 476.4 333.2 476.9 333.4 477.5 331.4 478.0 330.7 478.6 336.8 479.1 342.0 479.7 335.8 480.2 334.6 480.8 335.8 481.3 334.3 481.9 339.9 482.4 336.8 483.0 329.9 483.5 335.4 484.1 339.1 484.6 339.2 485.2 337.3 485.7 337.7 486.3 341.6 486.8 336.6 487.4 335.9 487.9 338.1 488.5 339.8 489.0 340.1 489.6 339.0 490.1 335.2 490.7 338.7 491.2 335.3 491.8 340.5 492.3 336.4 492.9 338.9 493.4 338.0 494.0 340.3 494.5 341.2 495.1 339.3 495.6 340.6 496.2 335.7 496.7 339.7 497.3 340.2 497.8 340.1 498.4 338.3 498.9 339.7 499.5 339.3 500.0 335.8 500.6 339.0 501.1 338.3 501.7 341.3 502.2 341.3 502.8 343.1 503.3 342.7 503.9 345.2 504.4 345.1 505.0 345.0 505.5 342.1 506.1 337.4 506.6 337.0 507.2 343.2 507.7 341.6 508.3 343.3 508.8 344.2 509.4 344.3 509.9 342.5 510.5 350.3 511.0 346.0 511.6 349.1 512.1 345.1 512.7 350.0 513.2 345.0 513.8 351.2 514.3 341.0 514.9 340.0 515.4 344.6 516.0 343.0 516.5 339.1 517.1 341.0 517.6 343.6 518.2 340.3 518.7 346.3 519.3 339.6 519.8 338.4 520.4 335.6 520.9 341.8 521.5 337.0 522.0 345.9 522.6 343.9 523.1 341.1 523.7 341.6 524.2 346.7 524.8 340.1 525.3 346.1 525.9 343.7 526.4 343.5 527.0 348.1 527.5 339.0 528.1 340.5 528.6 341.0 529.2 343.0 529.7 337.3 530.3 342.9 530.8 344.2 531.4 337.9 531.9 341.9 532.5 341.6 533.0 344.3 533.6 343.3 534.1 343.6 534.7 341.7 535.2 343.0 535.8 341.8 536.3 344.5 536.9 335.6 537.4 340.3 538.0 340.9 538.5 338.6 539.1 340.1 539.6 342.0 540.2 338.7 540.7 340.0 541.3 341.6 541.8 339.5 542.4 342.3 542.9 336.3 543.5 342.0 544.0 343.2 544.6 339.4 545.1 343.2 545.7 340.3 546.2 340.8 546.8 340.2 547.3 340.5 547.9 339.8 548.4 346.9 549.0 344.0 549.5 343.0 550.1 343.3 550.6 345.9 551.2 340.6 551.7 347.7 552.3 344.7 552.8 343.8 553.4 341.9 553.9 343.7 554.5 344.5 555.0 345.4 555.6 346.2 556.1 343.2 556.7 344.6 557.2 339.1 557.8 341.9 558.3 338.5 558.9 347.8 559.4 340.5 560.0 345.2 560.5 343.4 561.1 342.5 561.6 340.6 562.2 340.5 562.7 342.0 563.3 342.6 563.8 343.0 564.4 340.9 564.9 344.4 565.5 340.0 566.0 344.9 566.6 346.0 567.1 342.2 567.7 340.4 568.2 350.4 568.8 344.9 569.3 342.1 569.9 346.9 570.4 341.9 571.0 340.6 571.5 336.0 572.1 335.9 572.6 337.9 573.2 338.7 573.7 337.5 574.3 339.8 574.8 342.7 575.4 337.7 575.9 342.7 576.5 339.4 577.0 340.7 577.6 343.8 578.1 347.3 578.7 340.2 579.2 343.8 579.8 341.0 580.3 335.0 580.9 341.7 581.4 347.5 582.0 342.5 582.5 345.7 583.1 346.4 583.6 347.7 584.2 346.8 584.7 341.1 585.3 345.1 585.8 347.9 586.4 345.8 586.9 352.1 587.5 347.5 588.0 343.9 588.6 343.4 589.1 345.4 589.7 344.9 590.2 343.8 590.8 342.4 591.3 344.8 591.9 345.6 592.4 344.0 593.0 348.5 593.5 352.2 594.1 345.9 594.6 348.3 595.2 345.5 595.7 345.3 596.3 345.7 596.8 345.4 597.4 347.2 597.9 344.1 598.5 343.6 599.0 343.5 599.6 346.3 600.1 353.5 600.7 347.5 601.2 346.7 601.8 341.4 602.3 338.8 602.9 338.1 603.4 334.7 604.0 335.0 604.5 338.4 605.1 334.4 605.6 332.2 606.2 332.9 606.7 329.1 607.3 329.9 607.8 336.3 608.4 338.5 608.9 341.5 609.5 342.5 610.0 339.9 610.6 338.8 611.1 340.0 611.7 341.1 612.2 343.5 612.8 341.9 613.3 340.7 613.9 340.4 614.4 340.1 615.0 345.2 615.5 343.4 616.1 337.9 616.6 338.5 617.2 333.3 617.7 339.0 618.3 342.4 618.8 344.1 619.4 340.6 619.9 342.3 620.5 338.4 621.0 343.4 621.6 343.8 622.1 339.6 622.7 340.4 623.2 332.2 623.8 335.7 624.3 339.0 624.9 336.8 625.4 335.0 626.0 332.5 626.5 340.0 627.1 334.5 627.6 331.4 628.2 332.1 628.7 328.5 629.3 341.7 629.8 334.2 630.4 339.7 630.9 334.4 631.5 336.0 632.0 327.5 632.6 334.0 633.1 334.0 633.7 335.1 634.2 336.4 634.8 338.2 635.3 341.1 635.9 339.8 636.4 341.9 637.0 338.9 637.5 341.6 638.1 340.0 638.6 338.0 639.2 341.6 639.7 343.6 640.3 348.8 640.8 345.8 641.4 351.7 641.9 351.3 642.5 350.4 643.0 348.0 643.6 356.8 644.1 353.0 644.7 354.7 645.2 349.5 645.8 359.8 646.3 353.0 646.9 353.0 647.4 354.2 648.0 352.2 648.5 353.6 649.1 359.4 649.6 359.5 650.2 366.9 650.7 358.8 651.3 358.6 651.8 361.4 652.4 358.8 652.9 364.0 653.5 362.2 654.0 360.2 654.6 359.4 655.1 355.2 655.7 362.9 656.2 361.8 656.8 356.2 657.3 361.4 657.9 356.2 658.4 359.4 659.0 357.2 659.5 358.5 660.1 357.4 660.6 363.8 661.2 353.8 661.7 356.6 662.3 357.4 662.8 354.7 663.4 352.2 663.9 353.4 664.5 354.7 665.0 353.8 665.6 351.0 666.1 354.3 666.7 357.3 667.2 350.8 667.8 351.7 668.3 354.4 668.9 352.8 669.4 354.6 670.0 354.2 670.5 354.4 671.1 354.2 671.6 354.6 672.2 354.8 672.7 358.1 673.3 362.9 673.8 357.8 674.4 357.5 674.9 358.4 675.5 359.4 676.0 356.9 676.6 356.7 677.1 359.8 677.7 357.1 678.2 359.2 678.8 358.6 679.3 356.7 679.9 358.4 680.4 359.3 681.0 355.3 681.5 361.9 682.1 366.3 682.6 364.5 683.2 370.3 683.7 364.8 684.3 369.5 684.8 363.0 685.4 361.0 685.9 359.4 686.5 362.2 687.0 358.5 687.6 362.0 688.1 361.1 688.7 355.1 689.2 356.8 689.8 356.1 690.3 355.8 690.9 355.9 691.4 356.3 692.0 362.5 692.5 362.7 693.1 367.6 693.6 359.4 694.2 364.5 694.7 361.3 695.3 359.2 695.8 358.5 696.4 361.5 696.9 362.9 697.5 359.7 698.0 364.5 698.6 359.1 699.1 361.3 699.7 359.9 700.2 356.7 700.8 356.8 701.3 352.9 701.9 358.2 702.4 362.1 703.0 356.5 703.5 361.6 704.1 364.8 704.6 361.5 705.2 363.0 705.7 364.6 706.3 364.8 706.8 357.0 707.4 366.1 707.9 363.5 708.5 362.2 709.0 357.3 709.6 358.8 710.1 360.8 710.7 359.5 711.2 357.6 711.8 361.4 712.3 363.3 712.9 355.4 713.4 357.9 714.0 360.1 714.5 361.3 715.1 359.6 715.6 360.1 716.2 355.8 716.7 358.8 717.3 356.3 717.8 362.1 718.4 348.7 718.9 358.7 719.5 358.6 720.0 354.2 720.6 351.5 721.1 353.9 721.7 358.1 722.2 355.8 722.8 357.1 723.3 353.4 723.9 358.3 724.4 356.5 725.0 357.3 725.5 359.6 726.1 358.8 726.6 353.2 727.2 357.8 727.7 356.3 728.3 357.5 728.8 358.0 729.4 351.2 729.9 351.7 730.5 353.3 731.0 351.5 731.6 353.8 732.1 359.2 732.7 352.9 733.2 355.4 733.8 353.4 734.3 354.8 734.9 348.5 735.4 350.7 736.0 348.9 736.5 348.7 737.1 350.3 737.6 349.8 738.2 347.2 738.7 347.4 739.3 346.5 739.8 347.2 740.4 349.7 740.9 352.1 741.5 348.3 742.0 347.2 742.6 351.1 743.1 348.5 743.7 352.1 744.2 349.5 744.8 353.3 745.3 357.8 745.9 349.3 746.4 351.2 747.0 351.4 747.5 347.2 748.1 352.0 748.6 350.8 749.2 350.5 749.7 349.3 750.3 350.1 750.8 349.5 751.4 342.7 751.9 350.8 752.5 351.0 753.0 354.5 753.6 347.2 754.1 355.4 754.7 353.4 755.2 346.7 755.8 354.0 756.3 352.5 756.9 352.0 757.4 346.0 758.0 354.5 758.5 354.7 759.1 355.2 759.6 358.2 760.2 357.4 760.7 354.4 761.3 359.1 761.8 367.2 762.4 365.5 762.9 366.1 763.5 368.9 764.0 366.9 764.6 366.8 765.1 365.7 765.7 364.9 766.2 363.6 766.8 362.1 767.3 365.2 767.9 364.2 768.4 364.4 769.0 362.4 769.5 359.0 770.1 358.1 770.6 357.9 771.2 356.6 771.7 356.9 772.3 357.5 772.8 355.0 773.4 356.8 773.9 362.3 774.5 354.5 775.0 357.0 775.6 358.9 776.1 356.1 776.7 356.6 777.2 362.5 777.8 361.6 778.3 356.7 778.9 357.5 779.4 358.2 780.0 360.1 780.5 360.8 781.1 361.5 781.6 363.0 782.2 356.4 782.7 363.3 783.3 357.8 783.8 357.3 784.4 362.2 784.9 367.3 785.5 358.3 786.0 363.8 786.6 362.6 787.1 355.0 787.7 362.8 788.2 360.5 788.8 362.9 789.3 362.6 789.9 364.7 790.4 370.0 791.0 361.6 791.5 363.3 792.1 363.0 792.6 362.8 793.2 362.6 793.7 364.9 794.3 368.0 794.8 368.2 795.4 369.2 795.9 366.7 796.5 370.8 797.0 371.6 797.6 369.4 798.1 372.3 798.7 373.1 799.2 370.5 799.8 364.7 800.3 370.9 800.9 370.7 801.4 374.7 802.0 367.4 802.5 369.4 803.1 366.3 803.6 363.2 804.2 368.4 804.7 360.8 805.3 363.7 805.8 364.4 806.4 367.6 806.9 374.0 807.5 368.2 808.0 369.4 808.6 368.4 809.1 361.5 809.7 367.1 810.2 363.3 810.8 359.2 811.3 363.0 811.9 362.6 812.4 362.7 813.0 361.3 813.5 360.9 814.1 360.8 814.6 363.4 815.2 360.6 815.7 362.7 816.3 360.1 816.8 365.6 817.4 357.0 817.9 359.2 818.5 361.6 819.0 361.9 819.6 363.9 820.1 363.4 820.7 367.6 821.2 368.6 821.8 366.5 822.3 370.3 822.9 372.7 823.4 369.6 824.0 361.6 824.5 367.5 825.1 368.5 825.6 362.9 826.2 369.9 826.7 364.7 827.3 363.1 827.8 365.0 828.4 362.8 828.9 357.9 829.5 358.7 830.0 358.0 830.6 359.6 831.1 358.7 831.7 366.4 832.2 360.5 832.8 358.6 833.3 359.7 833.9 358.6 834.4 360.6 835.0 359.9 835.5 358.0 836.1 357.2 836.6 359.7 837.2 358.6 837.7 355.4 838.3 362.3 838.8 353.8 839.4 357.7 839.9 360.0 840.5 363.3 841.0 363.4 841.6 364.4 842.1 362.1 842.7 359.5 843.2 369.3 843.8 361.9 844.3 363.7 844.9 363.7 845.4 360.3 846.0 359.7 846.5 359.9 847.1 357.5 847.6 359.4 848.2 360.7 848.7 354.3 849.3 359.6 849.8 360.9 850.4 356.8 850.9 358.3 851.5 363.4 852.0 360.5 852.6 362.5 853.1 361.0 853.7 363.9 854.2 355.7 854.8 359.7 855.3 358.9 855.9 356.7 856.4 355.1 857.0 354.9 857.5 356.7 858.1 361.3 858.6 356.9 859.2 355.3 859.7 357.4 860.3 358.6 860.8 362.7 861.4 360.2 861.9 359.8 862.5 361.0 863.0 360.3 863.6 357.9 864.1 362.7 864.7 357.8 865.2 357.7 865.8 358.7 866.3 357.1 866.9 360.6 867.4 358.5 868.0 362.5 868.5 359.5 869.1 356.6 869.6 360.8 870.2 359.7 870.7 363.6 871.3 356.3 871.8 360.9 872.4 352.0 872.9 359.0 873.5 358.9 874.0 361.6 874.6 356.6 875.1 352.6 875.7 360.3 876.2 360.0 876.8 364.1 877.3 360.6 877.9 361.3 878.4 360.0 879.0 354.9 879.5 361.4 880.1 361.3 880.6 355.8 881.2 356.9 881.7 356.2 882.3 353.1 882.8 354.1 883.4 352.6 883.9 354.9 884.5 356.6 885.0 351.8 885.6 352.2 886.1 355.8 886.7 348.3 887.2 352.4 887.8 355.9 888.3 356.9 888.9 354.7 889.4 355.6 890.0 353.4 890.5 357.4 891.1 362.2 891.6 358.6 892.2 354.4 892.7 362.9 893.3 359.3 893.8 349.4 894.4 355.5 894.9 359.9 895.5 352.0 896.0 356.5 896.6 354.4 897.1 355.0 897.7 358.4 898.2 361.1 898.8 357.6 899.3 360.5 899.9 363.8 900.4 349.8 901.0 354.8 901.5 355.9 902.1 353.9 902.6 356.8 903.2 357.5 903.7 358.1 904.3 358.8 904.8 359.5 905.4 358.7 905.9 359.7 906.5 358.6 907.0 364.6 907.6 357.6 908.1 358.1 908.7 358.0 909.2 357.9 909.8 355.6 910.3 356.9 910.9 358.4 911.4 354.9 912.0 356.9 912.5 354.8 913.1 359.5 913.6 357.0 914.2 357.1 914.7 358.3 915.3 355.5 915.8 360.5 916.4 357.9 916.9 352.8 917.5 355.5 918.0 358.2 918.6 354.1 919.1 354.4 919.7 354.5 920.2 358.7 920.8 360.0 921.3 359.8 921.9 358.4 922.4 362.5 923.0 363.8 923.5 361.1 924.1 359.2 924.6 360.8 925.2 362.0 925.7 354.5 926.3 358.7 926.8 359.5 927.4 362.4 927.9 356.5 928.5 361.6 929.0 354.1 929.6 348.1 930.1 354.7 930.7 350.8 931.2 354.4 931.8 355.9 932.3 358.6 932.9 350.7 933.4 356.0 934.0 351.7 934.5 355.3 935.1 356.3 935.6 354.9 936.2 355.4 936.7 364.2 937.3 355.1 937.8 358.5 938.4 356.5 938.9 349.8 939.5 357.0 940.0 356.1 940.6 351.9 941.1 353.0 941.7 353.6 942.2 357.2 942.8 349.8 943.3 354.0 943.9 346.5 944.4 351.2 945.0 354.7 945.5 354.9 946.1 346.3 946.6 348.6 947.2 350.3 947.7 349.3 948.3 350.4 948.8 352.0 949.4 346.9 949.9 350.2 950.5 354.7 951.0 352.6 951.6 352.8 952.1 355.7 952.7 356.5 953.2 354.5 953.8 355.8 954.3 354.2 954.9 350.4 955.4 352.7 956.0 351.8 956.5 358.4 957.1 353.3 957.6 354.9 958.2 357.0 958.7 351.2 959.3 354.8 959.8 354.6 960.4 358.9 960.9 357.6 961.5 355.3 962.0 350.9 962.6 356.1 963.1 354.5 963.7 353.2 964.2 354.8 964.8 351.9 965.3 351.9 965.9 347.9 966.4 348.9 967.0 347.8 967.5 350.0 968.1 352.6 968.6 351.9 969.2 352.2 969.7 359.5 970.3 352.9 970.8 354.8 971.4 354.6 971.9 355.3 972.5 356.3 973.0 358.7 973.6 360.8 974.1 357.5 974.7 357.0 975.2 353.3 975.8 355.5 976.3 352.1 976.9 354.7 977.4 355.2 978.0 356.7 978.5 354.1 979.1 356.9 979.6 357.0 980.2 348.9 980.7 355.2 981.3 356.0 981.8 355.0 982.4 356.4 982.9 357.6 983.5 358.6 984.0 358.5 984.6 353.9 985.1 356.3 985.7 357.1 986.2 361.6 986.8 366.3 987.3 363.5 987.9 358.9 988.4 359.0 989.0 356.3 989.5 357.6 990.1 360.6 990.6 362.3 991.2 363.9 991.7 362.6 992.3 361.4 992.8 359.2 993.4 357.8 993.9 364.1 994.5 360.9 995.0 361.2 995.6 359.4 996.1 357.0 996.7 362.2 997.2 359.5 997.8 358.9 998.3 366.0 998.9 364.5 999.4 361.3 1000.0 355.4 1000.5 359.0 1001.1 357.1 1001.6 358.4 1002.2 359.7 1002.7 354.3 1003.3 360.5 1003.8 359.9 1004.4 360.7 1004.9 357.7 1005.5 359.5 1006.0 364.3 1006.6 363.2 1007.1 360.4 1007.7 352.2 1008.2 363.5 1008.8 358.8 1009.3 362.0 1009.9 359.8 1010.4 356.3 1011.0 357.4 1011.5 359.7 1012.1 357.9 1012.6 353.2 1013.2 367.0 1013.7 363.1 1014.3 362.0 1014.8 360.6 1015.4 361.8 1015.9 359.7 1016.5 365.3 1017.0 359.3 1017.6 361.3 1018.1 361.5 1018.7 356.5 1019.2 360.8 1019.8 361.0 1020.3 362.0 1020.9 360.4 1021.4 360.4 1022.0 359.8 1022.5 363.6 1023.1 359.8 1023.6 355.2 1024.2 358.4 1024.7 359.5 1025.3 356.2 1025.8 356.0 1026.4 362.7 1026.9 357.1 1027.5 357.3 1028.0 356.5 1028.6 358.8 1029.1 357.5 1029.7 364.6 1030.2 359.7 1030.8 360.1 1031.3 360.5 1031.9 358.7 1032.4 359.9 1033.0 367.1 1033.5 367.4 1034.1 355.0 1034.6 353.9 1035.2 356.8 1035.7 361.5 1036.3 356.1 1036.8 357.6 1037.4 356.6 1037.9 355.4 1038.5 357.3 1039.0 353.0 1039.6 360.9 1040.1 358.1 1040.7 359.4 1041.2 356.1 1041.8 355.2 1042.3 358.4 1042.9 357.9 1043.4 359.2 1044.0 353.7 1044.5 359.5 1045.1 363.7 1045.6 359.6 1046.2 362.8 1046.7 364.3 1047.3 357.6 1047.8 361.4 1048.4 362.5 1048.9 360.6 1049.5 366.7 1050.0 362.9 1050.6 360.2 1051.1 364.0 1051.7 356.6 1052.2 362.0 1052.8 366.3 1053.3 364.4 1053.9 361.7 1054.4 363.3 1055.0 363.0 1055.5 361.5 1056.1 366.1 1056.6 364.5 1057.2 358.1 1057.7 359.1 1058.3 361.9 1058.8 362.1 1059.4 363.2 1059.9 361.9 1060.5 365.3 1061.0 365.4 1061.6 363.0 1062.1 362.5 1062.7 363.2 1063.2 361.8 1063.8 360.2 1064.3 360.0 1064.9 365.4 1065.4 367.5 1066.0 362.9 1066.5 365.3 1067.1 362.8 1067.6 364.3 1068.2 362.0 1068.7 363.3 1069.3 363.2 1069.8 364.7 1070.4 364.4 1070.9 369.3 1071.5 367.6 1072.0 362.6 1072.6 366.1 1073.1 371.4 1073.7 363.6 1074.2 367.4 1074.8 369.6 1075.3 372.5 1075.9 371.8 1076.4 372.0 1077.0 373.0 1077.5 373.9 1078.1 377.4 1078.6 377.4 1079.2 373.1 1079.7 372.8 1080.3 370.6 1080.8 372.6 1081.4 372.6 1081.9 374.4 1082.5 375.2 1083.0 372.1 1083.6 371.9 1084.1 366.7 1084.7 365.8 1085.2 369.0 1085.8 369.1 1086.3 370.5 1086.9 369.8 1087.4 372.6 1088.0 363.2 1088.5 372.2 1089.1 370.1 1089.6 368.8 1090.2 371.4 1090.7 365.7 1091.3 373.3 1091.8 370.9 1092.4 368.3 1092.9 366.2 1093.5 367.5 1094.0 367.8 1094.6 375.0 1095.1 368.9 1095.7 368.4 1096.2 366.6 1096.8 364.5 1097.3 366.1 1097.9 372.3 1098.4 360.6 1099.0 369.2 1099.5 370.7 1100.1 368.4 1100.6 368.4 1101.2 366.7 1101.7 370.1 1102.3 374.7 1102.8 365.0 1103.4 364.6 1103.9 365.3 1104.5 367.2 1105.0 364.4 1105.6 368.6 1106.1 368.5 1106.7 369.0 1107.2 373.5 1107.8 372.3 1108.3 370.8 1108.9 371.6 1109.4 373.7 1110.0 365.8 1110.5 369.9 1111.1 370.1 1111.6 371.1 1112.2 369.5 1112.7 376.5 1113.3 375.2 1113.8 371.6 1114.4 364.4 1114.9 370.8 1115.5 374.7 1116.0 365.7 1116.6 366.6 1117.1 370.1 1117.7 362.7 1118.2 361.9 1118.8 370.1 1119.3 366.2 1119.9 370.6 1120.4 362.4 1121.0 364.5 1121.5 364.4 1122.1 364.4 1122.6 362.0 1123.2 357.3 1123.7 359.0 1124.3 362.4 1124.8 362.8 1125.4 359.5 1125.9 362.2 1126.5 364.4 1127.0 359.8 1127.6 358.0 1128.1 361.4 1128.7 356.0 1129.2 357.8 1129.8 361.0 1130.3 358.1 1130.9 358.8 1131.4 360.5 1132.0 356.5 1132.5 356.1 1133.1 361.6 1133.6 354.5 1134.2 360.3 1134.7 365.8 1135.3 365.2 1135.8 362.4 1136.4 363.3 1136.9 361.8 1137.5 367.3 1138.0 360.4 1138.6 364.3 1139.1 366.7 1139.7 369.9 1140.2 365.3 1140.8 367.1 1141.3 370.9 1141.9 372.7 1142.4 373.8 1143.0 374.9 1143.5 369.5 1144.1 375.6 1144.6 370.0 1145.2 367.7 1145.7 372.3 1146.3 371.7 1146.8 371.6 1147.4 372.8 1147.9 372.3 1148.5 377.1 1149.0 375.2 1149.6 369.1 1150.1 377.0 1150.7 376.3 1151.2 376.2 1151.8 373.8 1152.3 372.3 1152.9 373.4 1153.4 374.1 1154.0 369.0 1154.5 372.3 1155.1 369.5 1155.6 369.5 1156.2 374.9 1156.7 374.7 1157.3 368.8 1157.8 371.7 1158.4 366.2 1158.9 372.8 1159.5 370.6 1160.0 371.2 1160.6 370.5 1161.1 368.7 1161.7 366.3 1162.2 369.8 1162.8 370.4 1163.3 364.0 1163.9 372.3 1164.4 363.3 1165.0 365.3 1165.5 364.0 1166.1 362.5 1166.6 360.2 1167.2 360.7 1167.7 359.0 1168.3 361.5 1168.8 363.0 1169.4 361.8 1169.9 367.0 1170.5 361.4 1171.0 359.2 1171.6 356.3 1172.1 361.9 1172.7 362.7 1173.2 356.4 1173.8 353.1 1174.3 360.0 1174.9 358.2 1175.4 360.5 1176.0 357.4 1176.5 352.9 1177.1 357.5 1177.6 356.6 1178.2 353.0 1178.7 353.4 1179.3 357.0 1179.8 351.6 1180.4 352.9 1180.9 353.3 1181.5 353.8 1182.0 354.6 1182.6 353.5 1183.1 361.9 1183.7 354.4 1184.2 353.7 1184.8 352.7 1185.3 354.4 1185.9 358.1 1186.4 355.4 1187.0 352.7 1187.5 353.3 1188.1 354.9 1188.6 357.4 1189.2 359.4 1189.7 354.2 1190.3 346.9 1190.8 354.0 1191.4 353.3 1191.9 356.0 1192.5 354.3 1193.0 356.0 1193.6 358.3 1194.1 356.4 1194.7 356.4 1195.2 359.8 1195.8 354.5 1196.3 356.3 1196.9 356.2 1197.4 357.0 1198.0 356.4 1198.5 358.2 1199.1 359.4 1199.6 363.8 1200.2 355.2 1200.7 353.6 1201.3 352.9 1201.8 346.2 1202.4 354.7 1202.9 354.7 1203.5 348.3 1204.0 350.1 1204.6 346.1 1205.1 347.8 1205.7 349.4 1206.2 343.4 1206.8 349.0 1207.3 354.5 1207.9 353.0 1208.4 352.6 1209.0 354.0 1209.5 358.8 1210.1 357.7 1210.6 354.8 1211.2 359.6 1211.7 364.0 1212.3 362.2 1212.8 360.7 1213.4 360.6 1213.9 364.9 1214.5 363.0 1215.0 365.0 1215.6 363.5 1216.1 370.0 1216.7 363.8 1217.2 368.7 1217.8 369.0 1218.3 364.0 1218.9 365.3 1219.4 366.3 1220.0 365.8 1220.5 365.8 1221.1 364.7 1221.6 367.5 1222.2 368.3 1222.7 365.0 1223.3 368.3 1223.8 367.6 1224.4 366.6 1224.9 373.5 1225.5 370.2 1226.0 362.5 1226.6 362.4 1227.1 366.7 1227.7 365.8 1228.2 367.0 1228.8 365.4 1229.3 366.3 1229.9 366.0 1230.4 371.3 1231.0 368.1 1231.5 371.7 1232.1 371.9 1232.6 370.0 1233.2 374.0 1233.7 371.9 1234.3 370.7 1234.8 373.7 1235.4 374.8 1235.9 372.7 1236.5 373.3 1237.0 371.0 1237.6 372.7"/>
</g>
<g stroke="#0d0d0d" stroke-width="2" fill="none">
<rect x="98.0" y="273.5" width="1140.0" height="172.5"/>
<path d="M185.7 446.0V434.0M361.1 446.0V434.0M361.1 273.5V285.5M536.5 446.0V434.0M536.5 273.5V285.5M711.8 446.0V434.0M711.8 273.5V285.5M887.2 446.0V434.0M887.2 273.5V285.5M1062.6 446.0V434.0M1062.6 273.5V285.5M98.0 273.5H109.5M1238.0 273.5H1226.5M1238.0 316.6H1226.5M98.0 359.8H109.5M1238.0 359.8H1226.5M98.0 402.9H109.5M1238.0 402.9H1226.5M98.0 446.0H109.5M1238.0 446.0H1226.5M185.7 273.5V282.0M185.7 284.5V286.5M98.0 316.6H103.5M105.5 316.6H109.0"/>
</g>
<g font-family="Liberation Sans, sans-serif" font-size="22" fill="#0d0d0d">
<text x="161.22" y="471.50">20</text>
<path d="M191.59 471.50L193.59 471.50L193.59 456.03L192.20 456.03C191.74 457.75 189.87 458.78 187.89 459.00L187.89 460.32C189.65 460.24 190.97 459.73 191.59 458.85ZM203.82 471.50L205.83 471.50L205.83 456.03L204.44 456.03C203.98 457.75 202.11 458.78 200.13 459.00L200.13 460.32C201.89 460.24 203.21 459.73 203.82 458.85Z"/>
<text x="336.61" y="471.50">20</text>
<text x="373.31" y="471.50">2</text>
<path d="M366.97 471.50L368.97 471.50L368.97 456.03L367.59 456.03C367.13 457.75 365.26 458.78 363.28 459.00L363.28 460.32C365.04 460.24 366.36 459.73 366.97 458.85Z"/>
<text x="511.99" y="471.50">20</text>
<text x="548.70" y="471.50">3</text>
<path d="M542.36 471.50L544.36 471.50L544.36 456.03L542.97 456.03C542.51 457.75 540.64 458.78 538.66 459.00L538.66 460.32C540.42 460.24 541.74 459.73 542.36 458.85Z"/>
<text x="687.38" y="471.50">20</text>
<text x="724.08" y="471.50">4</text>
<path d="M717.74 471.50L719.74 471.50L719.74 456.03L718.36 456.03C717.90 457.75 716.03 458.78 714.05 459.00L714.05 460.32C715.81 460.24 717.13 459.73 717.74 458.85Z"/>
<text x="862.76" y="471.50">20</text>
<text x="899.47" y="471.50">5</text>
<path d="M893.13 471.50L895.13 471.50L895.13 456.03L893.74 456.03C893.28 457.75 891.41 458.78 889.43 459.00L889.43 460.32C891.19 460.24 892.51 459.73 893.13 458.85Z"/>
<text x="1038.14" y="471.50">20</text>
<text x="1074.85" y="471.50">6</text>
<path d="M1068.51 471.50L1070.51 471.50L1070.51 456.03L1069.13 456.03C1068.67 457.75 1066.80 458.78 1064.82 459.00L1064.82 460.32C1066.58 460.24 1067.90 459.73 1068.51 458.85Z"/>
<text x="1213.53" y="471.50">20</text>
<text x="1250.24" y="471.50">7</text>
<path d="M1243.90 471.50L1245.90 471.50L1245.90 456.03L1244.51 456.03C1244.05 457.75 1242.18 458.78 1240.20 459.00L1240.20 460.32C1241.96 460.24 1243.28 459.73 1243.90 458.85Z"/>
<text x="77.56" y="279.00">0</text>
<path d="M71.23 279.00L73.23 279.00L73.23 263.53L71.84 263.53C71.38 265.25 69.51 266.28 67.53 266.50L67.53 267.82C69.29 267.74 70.61 267.23 71.23 266.35Z"/>
<text x="77.56" y="322.12">5</text>
<text x="77.56" y="365.25">0</text>
<text x="70.24" y="408.38">-5</text>
<text x="58.00" y="451.50">-</text>
<text x="77.56" y="451.50">0</text>
<path d="M71.23 451.50L73.23 451.50L73.23 436.03L71.84 436.03C71.38 437.75 69.51 438.78 67.53 439.00L67.53 440.32C69.29 440.24 70.61 439.73 71.23 438.85Z"/>
</g>
<text x="112.4" y="313.0" font-family="Liberation Sans, sans-serif" font-size="36" fill="#000">(b)</text>
<g stroke-width="2">
<line x1="826.6" y1="311.1" x2="895.0" y2="311.1" stroke="#ff0000"/>
<line x1="957.4" y1="311.1" x2="1025.0" y2="311.1" stroke="#00ff00"/>
<line x1="1087.5" y1="311.1" x2="1155.3" y2="311.1" stroke="#0000ff"/>
</g>
<g font-family="Liberation Sans, sans-serif" font-size="24" font-weight="bold" fill="#000" stroke="#000" stroke-width="0.45" stroke-linejoin="round">
<text x="899.5" y="317.4">PC</text>
<path d="M939.37 317.40L942.39 317.40L942.39 300.31L939.94 300.31C939.37 302.28 937.40 303.00 934.88 303.05L934.88 305.59C936.92 305.59 938.48 305.28 939.37 304.68Z"/>
<text x="1030.3" y="317.4">PC2</text>
<text x="1160.4" y="317.4">PC3</text>
</g>
<g clip-path="url(#cc)" fill="none" stroke-width="2.4" stroke-linejoin="round">
<path stroke="#ff0000" d="M98.0 590.5 98.7 590.1 99.4 588.2 100.1 587.7 100.8 585.7 101.5 587.5 102.2 586.7 102.9 580.7 103.6 578.3 104.3 580.5 105.0 579.1 105.7 579.8 106.4 580.1 107.1 582.1 107.8 578.7 108.5 580.6 109.2 579.2 109.9 577.9 110.6 582.8 111.3 576.6 112.0 578.7 112.7 577.5 113.4 579.0 114.1 579.3 114.8 578.6 115.5 578.4 116.2 574.4 116.9 579.1 117.6 577.5 118.3 578.3 119.0 574.4 119.7 585.6 120.4 591.8 121.1 614.0 121.8 617.7 122.5 619.1 123.2 614.2 123.9 609.8 124.6 579.9 125.3 600.2 126.0 605.0 126.7 589.7 127.4 570.4 128.1 596.9 128.8 596.2 129.5 595.7 130.2 608.9 130.9 597.7 131.6 612.0 132.3 609.3 133.0 615.1 133.7 597.1 134.4 600.7 135.1 581.7 135.8 600.2 136.5 579.7 137.2 631.6 137.9 604.5 138.6 621.6 139.3 606.0 140.0 615.1 140.7 606.5 141.4 608.6 142.1 607.0 142.8 621.4 143.5 601.5 144.2 594.1 144.9 610.7 145.6 600.7 146.3 626.4 147.0 623.6 147.7 617.3 148.4 597.0 149.1 593.8 149.8 594.5 150.5 613.5 151.2 605.7 151.9 605.5 152.6 599.0 153.3 612.8 154.0 591.8 154.7 594.7 155.4 604.5 156.1 605.5 156.8 579.2 157.5 606.1 158.2 602.4 158.9 608.1 159.6 598.4 160.3 598.1 161.0 601.2 161.7 604.9 162.4 596.5 163.1 628.8 163.8 602.2 164.5 608.0 165.2 577.4 165.9 596.7 166.6 591.2 167.3 624.6 168.0 590.5 168.7 592.9 169.4 605.2 170.1 594.2 170.8 592.0 171.5 575.2 172.2 594.6 172.9 604.1 173.6 586.9 174.3 615.3 175.0 602.2 175.7 583.6 176.4 623.1 177.1 585.0 177.8 623.4 178.5 609.5 179.2 626.5 179.9 596.5 180.6 612.0 181.3 621.9 182.0 604.1 182.7 599.7 183.4 609.2 184.1 605.8 184.8 607.9 185.5 601.2 186.2 580.8 186.9 609.0 187.6 599.8 188.3 606.7 189.0 599.8 189.7 601.2 190.4 605.6 191.1 589.0 191.8 604.7 192.5 601.3 193.2 604.6 193.9 604.2 194.6 604.2 195.3 606.7 196.0 590.9 196.7 606.6 197.4 600.2 198.1 607.6 198.8 609.5 199.5 633.6 200.2 615.4 200.9 605.6 201.6 600.7 202.3 607.1 203.0 629.5 203.7 601.1 204.4 604.3 205.1 590.7 205.8 595.9 206.5 598.8 207.2 601.1 207.9 611.0 208.6 609.1 209.3 606.4 210.0 583.9 210.7 608.8 211.4 578.6 212.1 580.6 212.8 594.9 213.5 590.5 214.2 600.0 214.9 596.9 215.6 593.1 216.3 590.5 217.0 582.4 217.7 597.9 218.4 568.4 219.1 577.2 219.8 568.3 220.5 588.7 221.2 600.3 221.9 593.6 222.6 596.4 223.3 586.7 224.0 617.9 224.7 591.8 225.4 591.3 226.1 601.9 226.8 593.1 227.5 597.0 228.2 602.8 228.9 602.7 229.6 609.2 230.3 598.8 231.0 612.9 231.7 612.6 232.4 596.3 233.1 604.3 233.8 603.7 234.5 614.8 235.2 596.8 235.9 598.1 236.6 605.3 237.3 633.1 238.0 594.5 238.7 607.6 239.4 605.1 240.1 599.0 240.8 606.4 241.5 610.2 242.2 617.9 242.9 618.5 243.6 606.4 244.3 591.4 245.0 608.3 245.7 606.4 246.4 599.0 247.1 595.2 247.8 609.6 248.5 602.1 249.2 597.7 249.9 606.2 250.6 596.5 251.3 604.5 252.0 589.7 252.7 605.5 253.4 607.0 254.1 613.9 254.8 599.9 255.5 621.5 256.2 613.2 256.9 618.8 257.6 609.3 258.3 587.4 259.0 603.5 259.7 604.7 260.4 615.3 261.1 612.3 261.8 619.8 262.5 631.1 263.2 582.5 263.9 606.4 264.6 604.5 265.3 604.7 266.0 599.9 266.7 590.3 267.4 618.0 268.1 590.0 268.8 600.6 269.5 612.5 270.2 602.5 270.9 606.1 271.6 603.1 272.3 615.9 273.0 611.0 273.7 624.3 274.4 612.3 275.1 624.7 275.8 610.6 276.5 617.3 277.2 616.3 277.9 608.1 278.6 607.9 279.3 614.7 280.0 605.3 280.7 599.2 281.4 612.0 282.1 630.5 282.8 609.0 283.5 610.7 284.2 604.3 284.9 611.7 285.6 617.5 286.3 620.0 287.0 620.7 287.7 597.3 288.4 610.4 289.1 614.8 289.8 597.8 290.5 610.6 291.2 606.3 291.9 604.4 292.6 603.2 293.3 598.3 294.0 608.0 294.7 609.0 295.4 602.0 296.1 613.2 296.8 608.8 297.5 607.7 298.2 600.9 298.9 606.8 299.6 613.5 300.3 582.7 301.0 614.6 301.7 595.4 302.4 605.7 303.1 584.5 303.8 607.2 304.5 615.6 305.2 605.8 305.9 631.7 306.6 615.5 307.3 586.1 308.0 602.2 308.7 599.6 309.4 625.1 310.1 632.1 310.8 598.5 311.5 621.0 312.2 605.7 312.9 611.0 313.6 608.1 314.3 600.4 315.0 615.9 315.7 624.9 316.4 615.2 317.1 621.7 317.8 611.7 318.5 596.2 319.2 625.8 319.9 601.3 320.6 617.9 321.3 606.7 322.0 606.7 322.7 611.5 323.4 613.5 324.1 600.8 324.8 617.6 325.5 611.7 326.2 610.4 326.9 605.6 327.6 631.3 328.3 597.4 329.0 610.4 329.7 582.0 330.4 609.3 331.1 620.0 331.8 616.0 332.5 611.4 333.2 619.8 333.9 603.3 334.6 598.9 335.3 627.5 336.0 614.0 336.7 609.5 337.4 615.7 338.1 609.2 338.8 619.8 339.5 617.4 340.2 611.2 340.9 599.6 341.6 614.2 342.3 610.6 343.0 596.4 343.7 615.4 344.4 638.1 345.1 610.6 345.8 596.8 346.5 639.7 347.2 613.8 347.9 637.9 348.6 615.6 349.3 614.5 350.0 626.0 350.7 601.8 351.4 620.7 352.1 611.1 352.8 612.5 353.5 612.4 354.2 622.5 354.9 611.9 355.6 618.7 356.3 617.6 357.0 591.3 357.7 632.9 358.4 594.0 359.1 616.9 359.8 613.3 360.5 606.6 361.2 613.7 361.9 615.3 362.6 618.5 363.3 611.2 364.0 603.0 364.7 608.3 365.4 609.8 366.1 609.2 366.8 612.9 367.5 609.3 368.2 622.2 368.9 615.2 369.6 625.8 370.3 613.6 371.0 617.5 371.7 594.5 372.4 622.1 373.1 617.8 373.8 625.5 374.5 617.4 375.2 615.1 375.9 614.9 376.6 623.7 377.3 614.9 378.0 612.1 378.7 607.1 379.4 611.5 380.1 615.6 380.8 601.9 381.5 602.8 382.2 625.7 382.9 609.4 383.6 611.0 384.3 620.8 385.0 613.2 385.7 605.2 386.4 618.8 387.1 634.3 387.8 621.3 388.5 617.1 389.2 614.1 389.9 615.5 390.6 634.4 391.3 606.8 392.0 612.1 392.7 615.2 393.4 608.0 394.1 626.1 394.8 615.3 395.5 611.7 396.2 618.0 396.9 611.7 397.6 621.7 398.3 607.4 399.0 623.8 399.7 613.1 400.4 633.5 401.1 626.8 401.8 594.1 402.5 610.3 403.2 619.6 403.9 621.5 404.6 616.1 405.3 621.6 406.0 614.2 406.7 614.9 407.4 607.9 408.1 613.9 408.8 611.1 409.5 613.0 410.2 621.7 410.9 619.2 411.6 616.9 412.3 628.9 413.0 600.3 413.7 633.2 414.4 609.7 415.1 605.2 415.8 620.5 416.5 617.1 417.2 615.1 417.9 604.4 418.6 606.9 419.3 607.2 420.0 599.3 420.7 610.3 421.4 605.9 422.1 614.4 422.8 612.5 423.5 591.7 424.2 585.9 424.9 610.8 425.6 594.3 426.3 616.0 427.0 609.1 427.7 610.7 428.4 614.4 429.1 627.7 429.8 587.9 430.5 616.9 431.2 638.9 431.9 639.0 432.6 620.6 433.3 602.4 434.0 614.9 434.7 616.2 435.4 616.2 436.1 634.0 436.8 605.7 437.5 604.8 438.2 623.7 438.9 615.1 439.6 614.9 440.3 601.1 441.0 635.6 441.7 608.6 442.4 611.0 443.1 624.7 443.8 611.7 444.5 613.1 445.2 628.5 445.9 598.0 446.6 601.0 447.3 594.2 448.0 597.8 448.7 609.9 449.4 599.1 450.1 617.4 450.8 610.4 451.5 634.6 452.2 618.9 452.9 627.7 453.6 634.2 454.3 635.7 455.0 595.0 455.7 605.3 456.4 612.4 457.1 604.1 457.8 601.9 458.5 613.1 459.2 620.6 459.9 607.4 460.6 618.3 461.3 614.3 462.0 608.4 462.7 604.3 463.4 607.6 464.1 601.3 464.8 636.3 465.5 601.8 466.2 614.5 466.9 630.6 467.6 611.0 468.3 597.5 469.0 604.7 469.7 597.0 470.4 609.6 471.1 595.6 471.8 618.5 472.5 607.4 473.2 609.5 473.9 601.6 474.6 606.6 475.3 611.6 476.0 620.9 476.7 591.2 477.4 604.3 478.1 577.5 478.8 596.0 479.5 604.7 480.2 593.2 480.9 601.7 481.6 598.2 482.3 592.4 483.0 597.3 483.7 594.9 484.4 598.6 485.1 614.0 485.8 580.6 486.5 625.2 487.2 611.3 487.9 599.8 488.6 600.8 489.3 595.2 490.0 601.7 490.7 605.4 491.4 586.8 492.1 632.9 492.8 591.7 493.5 598.2 494.2 601.1 494.9 603.3 495.6 597.9 496.3 588.7 497.0 602.9 497.7 596.4 498.4 614.7 499.1 603.8 499.8 594.5 500.5 584.2 501.2 605.3 501.9 623.6 502.6 597.9 503.3 608.8 504.0 608.6 504.7 598.7 505.4 598.8 506.1 587.1 506.8 620.9 507.5 613.5 508.2 606.8 508.9 606.7 509.6 611.0 510.3 593.6 511.0 594.2 511.7 602.5 512.4 612.9 513.1 586.9 513.8 605.5 514.5 622.7 515.2 618.4 515.9 616.0 516.6 634.6 517.3 575.4 518.0 606.3 518.7 599.1 519.4 617.7 520.1 619.7 520.8 605.4 521.5 622.2 522.2 613.5 522.9 611.6 523.6 613.2 524.3 611.0 525.0 610.8 525.7 616.9 526.4 606.1 527.1 602.3 527.8 613.9 528.5 606.9 529.2 601.8 529.9 604.9 530.6 614.1 531.3 614.1 532.0 600.1 532.7 603.7 533.4 607.7 534.1 608.9 534.8 600.1 535.5 608.8 536.2 605.9 536.9 569.2 537.6 606.2 538.3 587.0 539.0 609.4 539.7 593.4 540.4 593.8 541.1 611.7 541.8 567.2 542.5 596.7 543.2 619.7 543.9 586.8 544.6 609.3 545.3 611.7 546.0 606.1 546.7 599.1 547.4 619.5 548.1 617.3 548.8 615.9 549.5 615.4 550.2 614.6 550.9 604.8 551.6 626.6 552.3 602.6 553.0 615.2 553.7 610.0 554.4 600.8 555.1 618.8 555.8 589.2 556.5 614.2 557.2 598.7 557.9 613.5 558.6 592.8 559.3 597.5 560.0 607.6 560.7 608.5 561.4 599.3 562.1 593.7 562.8 595.1 563.5 609.4 564.2 616.9 564.9 614.7 565.6 603.2 566.3 598.1 567.0 596.9 567.7 619.9 568.4 605.6 569.1 612.9 569.8 605.3 570.5 601.4 571.2 601.6 571.9 589.3 572.6 610.0 573.3 608.8 574.0 621.3 574.7 590.2 575.4 604.5 576.1 628.5 576.8 601.8 577.5 604.7 578.2 612.7 578.9 635.3 579.6 622.4 580.3 598.2 581.0 607.9 581.7 621.9 582.4 617.0 583.1 620.0 583.8 606.8 584.5 620.6 585.2 615.2 585.9 614.0 586.6 602.2 587.3 569.2 588.0 591.8 588.7 615.0 589.4 610.0 590.1 610.7 590.8 607.9 591.5 616.8 592.2 612.8 592.9 601.5 593.6 633.5 594.3 600.2 595.0 618.9 595.7 615.3 596.4 604.7 597.1 622.5 597.8 602.4 598.5 599.9 599.2 578.4 599.9 620.0 600.6 622.8 601.3 613.4 602.0 622.9 602.7 604.3 603.4 582.6 604.1 613.6 604.8 607.0 605.5 594.2 606.2 601.9 606.9 620.4 607.6 605.8 608.3 610.3 609.0 609.8 609.7 605.2 610.4 634.4 611.1 610.4 611.8 600.8 612.5 627.8 613.2 622.5 613.9 623.2 614.6 610.2 615.3 609.9 616.0 613.4 616.7 624.9 617.4 624.2 618.1 598.6 618.8 604.8 619.5 610.5 620.2 639.5 620.9 622.8 621.6 590.8 622.3 621.3 623.0 620.7 623.7 621.2 624.4 614.2 625.1 598.7 625.8 618.3 626.5 631.2 627.2 622.6 627.9 613.2 628.6 610.9 629.3 619.8 630.0 610.5 630.7 592.5 631.4 614.6 632.1 635.4 632.8 593.7 633.5 614.0 634.2 627.9 634.9 603.0 635.6 633.6 636.3 604.7 637.0 618.9 637.7 603.9 638.4 604.4 639.1 618.1 639.8 614.2 640.5 612.8 641.2 619.3 641.9 614.9 642.6 614.5 643.3 630.3 644.0 590.2 644.7 617.9 645.4 609.6 646.1 629.2 646.8 612.1 647.5 628.9 648.2 605.0 648.9 607.1 649.6 627.5 650.3 627.0 651.0 624.9 651.7 614.9 652.4 630.1 653.1 625.0 653.8 623.4 654.5 621.8 655.2 618.0 655.9 616.4 656.6 618.6 657.3 623.0 658.0 618.2 658.7 617.8 659.4 606.4 660.1 611.0 660.8 610.3 661.5 619.2 662.2 617.1 662.9 611.2 663.6 610.9 664.3 618.7 665.0 615.2 665.7 605.4 666.4 607.7 667.1 609.9 667.8 606.9 668.5 615.4 669.2 627.1 669.9 614.9 670.6 594.4 671.3 610.7 672.0 615.1 672.7 604.3 673.4 624.5 674.1 620.0 674.8 619.2 675.5 608.3 676.2 612.3 676.9 615.4 677.6 641.8 678.3 615.2 679.0 611.0 679.7 617.1 680.4 605.8 681.1 619.3 681.8 617.4 682.5 612.0 683.2 620.4 683.9 625.0 684.6 614.7 685.3 605.0 686.0 610.3 686.7 603.0 687.4 606.5 688.1 615.2 688.8 612.5 689.5 614.3 690.2 624.3 690.9 595.3 691.6 612.5 692.3 605.0 693.0 611.4 693.7 620.5 694.4 603.5 695.1 607.9 695.8 634.0 696.5 608.0 697.2 606.9 697.9 593.9 698.6 603.7 699.3 615.4 700.0 624.2 700.7 613.1 701.4 609.9 702.1 601.0 702.8 563.9 703.5 587.2 704.2 595.5 704.9 592.0 705.6 594.8 706.3 602.9 707.0 591.3 707.7 591.3 708.4 608.2 709.1 565.1 709.8 602.4 710.5 594.0 711.2 621.4 711.9 570.1 712.6 620.3 713.3 602.6 714.0 604.1 714.7 598.3 715.4 611.8 716.1 611.1 716.8 600.3 717.5 635.3 718.2 633.1 718.9 624.8 719.6 622.3 720.3 593.6 721.0 613.0 721.7 609.4 722.4 607.3 723.1 606.9 723.8 610.6 724.5 607.0 725.2 601.8 725.9 612.8 726.6 617.2 727.3 608.3 728.0 608.8 728.7 620.5 729.4 634.2 730.1 617.4 730.8 646.9 731.5 635.4 732.2 621.1 732.9 621.7 733.6 626.6 734.3 636.5 735.0 620.1 735.7 629.8 736.4 649.8 737.1 619.9 737.8 626.1 738.5 629.1 739.2 628.2 739.9 619.3 740.6 617.9 741.3 628.0 742.0 613.7 742.7 604.7 743.4 620.9 744.1 610.2 744.8 613.2 745.5 615.9 746.2 633.8 746.9 625.0 747.6 604.6 748.3 616.7 749.0 613.9 749.7 619.3 750.4 631.3 751.1 608.6 751.8 643.2 752.5 602.2 753.2 624.9 753.9 619.2 754.6 617.1 755.3 620.6 756.0 615.7 756.7 609.9 757.4 620.9 758.1 617.9 758.8 600.4 759.5 598.6 760.2 596.5 760.9 600.8 761.6 616.4 762.3 618.7 763.0 585.2 763.7 605.4 764.4 606.9 765.1 611.1 765.8 597.2 766.5 579.0 767.2 596.8 767.9 612.2 768.6 599.6 769.3 604.0 770.0 628.1 770.7 586.7 771.4 593.8 772.1 606.0 772.8 609.2 773.5 585.6 774.2 605.3 774.9 615.8 775.6 604.1 776.3 601.8 777.0 609.4 777.7 622.5 778.4 608.5 779.1 600.2 779.8 602.6 780.5 571.4 781.2 600.5 781.9 598.1 782.6 597.4 783.3 593.2 784.0 595.4 784.7 589.5 785.4 590.6 786.1 578.8 786.8 591.6 787.5 598.1 788.2 581.0 788.9 595.2 789.6 597.0 790.3 589.3 791.0 594.4 791.7 598.2 792.4 581.3 793.1 596.8 793.8 595.1 794.5 594.1 795.2 567.2 795.9 601.2 796.6 618.0 797.3 603.3 798.0 597.7 798.7 591.8 799.4 600.5 800.1 591.0 800.8 595.2 801.5 596.1 802.2 610.5 802.9 591.0 803.6 590.1 804.3 589.6 805.0 595.4 805.7 612.8 806.4 601.8 807.1 598.5 807.8 591.3 808.5 595.4 809.2 568.3 809.9 590.7 810.6 578.5 811.3 588.4 812.0 619.6 812.7 598.0 813.4 596.6 814.1 583.7 814.8 611.6 815.5 580.4 816.2 563.7 816.9 596.7 817.6 581.9 818.3 592.7 819.0 588.5 819.7 587.9 820.4 591.2 821.1 610.2 821.8 616.6 822.5 594.4 823.2 601.6 823.9 569.6 824.6 609.1 825.3 604.4 826.0 598.3 826.7 605.4 827.4 617.7 828.1 602.4 828.8 625.8 829.5 617.4 830.2 605.6 830.9 603.3 831.6 593.0 832.3 627.7 833.0 592.8 833.7 595.1 834.4 600.3 835.1 595.9 835.8 599.3 836.5 605.8 837.2 599.0 837.9 606.2 838.6 582.0 839.3 604.2 840.0 614.6 840.7 610.3 841.4 628.8 842.1 601.1 842.8 602.4 843.5 574.6 844.2 603.6 844.9 604.8 845.6 601.2 846.3 603.7 847.0 619.5 847.7 607.7 848.4 600.5 849.1 590.6 849.8 603.0 850.5 613.2 851.2 618.3 851.9 615.6 852.6 592.2 853.3 604.4 854.0 615.9 854.7 592.4 855.4 600.7 856.1 589.5 856.8 593.9 857.5 587.5 858.2 601.3 858.9 596.5 859.6 602.9 860.3 594.5 861.0 605.2 861.7 597.3 862.4 574.5 863.1 602.8 863.8 616.9 864.5 594.1 865.2 598.2 865.9 585.8 866.6 606.8 867.3 601.4 868.0 594.6 868.7 581.3 869.4 604.7 870.1 592.5 870.8 584.6 871.5 589.3 872.2 573.7 872.9 585.4 873.6 577.6 874.3 601.4 875.0 550.7 875.7 590.1 876.4 565.3 877.1 578.0 877.8 583.6 878.5 558.0 879.2 549.9 879.9 581.2 880.6 583.9 881.3 597.4 882.0 591.8 882.7 578.3 883.4 582.3 884.1 597.5 884.8 581.6 885.5 587.2 886.2 592.9 886.9 550.7 887.6 574.4 888.3 584.9 889.0 583.6 889.7 594.9 890.4 589.0 891.1 591.3 891.8 581.3 892.5 581.7 893.2 587.9 893.9 594.6 894.6 578.4 895.3 605.7 896.0 602.9 896.7 597.2 897.4 604.7 898.1 624.3 898.8 601.4 899.5 617.0 900.2 613.8 900.9 596.2 901.6 576.4 902.3 601.0 903.0 617.9 903.7 626.6 904.4 608.7 905.1 603.2 905.8 595.8 906.5 619.3 907.2 578.6 907.9 611.5 908.6 602.6 909.3 590.8 910.0 621.2 910.7 609.9 911.4 604.6 912.1 615.3 912.8 607.8 913.5 629.4 914.2 639.1 914.9 598.0 915.6 589.5 916.3 606.2 917.0 610.5 917.7 608.8 918.4 603.3 919.1 621.4 919.8 619.4 920.5 580.8 921.2 590.7 921.9 616.8 922.6 616.2 923.3 609.5 924.0 607.9 924.7 609.0 925.4 588.7 926.1 601.9 926.8 608.1 927.5 609.1 928.2 599.6 928.9 600.4 929.6 616.2 930.3 608.7 931.0 608.8 931.7 577.1 932.4 599.5 933.1 627.6 933.8 605.7 934.5 625.3 935.2 594.5 935.9 590.3 936.6 603.4 937.3 598.6 938.0 587.0 938.7 579.9 939.4 592.1 940.1 569.1 940.8 587.6 941.5 601.4 942.2 617.3 942.9 584.1 943.6 578.0 944.3 572.8 945.0 592.5 945.7 573.8 946.4 584.8 947.1 578.7 947.8 581.3 948.5 571.3 949.2 585.6 949.9 612.2 950.6 605.2 951.3 587.5 952.0 571.8 952.7 557.4 953.4 577.9 954.1 572.1 954.8 546.6 955.5 590.9 956.2 570.9 956.9 576.8 957.6 571.5 958.3 556.2 959.0 594.4 959.7 594.6 960.4 600.2 961.1 579.4 961.8 568.1 962.5 597.1 963.2 579.7 963.9 600.4 964.6 577.1 965.3 599.3 966.0 579.2 966.7 595.8 967.4 593.6 968.1 590.0 968.8 589.5 969.5 569.7 970.2 606.9 970.9 594.4 971.6 596.3 972.3 589.6 973.0 584.4 973.7 591.8 974.4 594.2 975.1 591.0 975.8 583.8 976.5 582.1 977.2 584.0 977.9 582.6 978.6 614.0 979.3 583.7 980.0 583.2 980.7 582.6 981.4 595.8 982.1 586.7 982.8 609.4 983.5 594.0 984.2 598.1 984.9 590.1 985.6 585.5 986.3 594.9 987.0 591.6 987.7 593.0 988.4 595.3 989.1 598.5 989.8 593.9 990.5 569.0 991.2 581.3 991.9 570.9 992.6 583.5 993.3 607.3 994.0 578.3 994.7 601.7 995.4 585.1 996.1 596.7 996.8 609.2 997.5 602.0 998.2 605.3 998.9 603.6 999.6 591.0 1000.3 598.4 1001.0 572.7 1001.7 596.1 1002.4 576.0 1003.1 588.8 1003.8 601.4 1004.5 589.9 1005.2 599.2 1005.9 591.4 1006.6 595.4 1007.3 577.9 1008.0 589.5 1008.7 593.2 1009.4 599.1 1010.1 588.4 1010.8 580.7 1011.5 589.7 1012.2 600.6 1012.9 586.7 1013.6 584.0 1014.3 583.8 1015.0 584.6 1015.7 534.3 1016.4 571.7 1017.1 597.1 1017.8 574.9 1018.5 573.2 1019.2 579.6 1019.9 605.0 1020.6 601.1 1021.3 587.4 1022.0 584.9 1022.7 582.0 1023.4 579.9 1024.1 583.7 1024.8 605.2 1025.5 578.2 1026.2 556.9 1026.9 584.0 1027.6 578.1 1028.3 574.9 1029.0 580.1 1029.7 583.1 1030.4 613.0 1031.1 568.2 1031.8 582.2 1032.5 563.4 1033.2 597.6 1033.9 584.4 1034.6 574.9 1035.3 595.8 1036.0 601.9 1036.7 613.8 1037.4 617.1 1038.1 611.6 1038.8 605.3 1039.5 626.1 1040.2 610.6 1040.9 598.1 1041.6 620.0 1042.3 619.7 1043.0 610.3 1043.7 611.6 1044.4 598.9 1045.1 612.9 1045.8 612.6 1046.5 597.1 1047.2 597.3 1047.9 590.8 1048.6 613.2 1049.3 595.7 1050.0 601.0 1050.7 586.4 1051.4 596.8 1052.1 580.7 1052.8 597.9 1053.5 579.9 1054.2 561.3 1054.9 560.9 1055.6 554.0 1056.3 547.3 1057.0 568.1 1057.7 566.9 1058.4 564.2 1059.1 564.2 1059.8 567.6 1060.5 564.4 1061.2 553.0 1061.9 566.4 1062.6 576.0 1063.3 568.9 1064.0 575.2 1064.7 569.1 1065.4 556.7 1066.1 565.8 1066.8 546.6 1067.5 563.8 1068.2 559.7 1068.9 557.8 1069.6 581.2 1070.3 564.2 1071.0 566.9 1071.7 565.4 1072.4 571.6 1073.1 578.9 1073.8 587.0 1074.5 573.2 1075.2 564.7 1075.9 565.6 1076.6 560.9 1077.3 553.1 1078.0 582.3 1078.7 568.2 1079.4 544.1 1080.1 565.4 1080.8 565.3 1081.5 570.7 1082.2 560.9 1082.9 575.8 1083.6 568.6 1084.3 595.2 1085.0 580.8 1085.7 574.8 1086.4 577.7 1087.1 573.5 1087.8 573.1 1088.5 563.5 1089.2 546.9 1089.9 573.4 1090.6 584.6 1091.3 572.7 1092.0 566.1 1092.7 563.3 1093.4 578.7 1094.1 577.9 1094.8 574.0 1095.5 581.3 1096.2 580.5 1096.9 591.5 1097.6 587.3 1098.3 597.7 1099.0 609.6 1099.7 624.3 1100.4 614.8 1101.1 613.4 1101.8 610.9 1102.5 604.0 1103.2 614.7 1103.9 625.8 1104.6 607.6 1105.3 604.1 1106.0 637.3 1106.7 603.3 1107.4 595.5 1108.1 606.9 1108.8 616.1 1109.5 614.3 1110.2 609.5 1110.9 605.9 1111.6 592.8 1112.3 618.1 1113.0 595.4 1113.7 605.9 1114.4 597.2 1115.1 625.8 1115.8 593.1 1116.5 613.0 1117.2 627.5 1117.9 606.8 1118.6 608.2 1119.3 607.1 1120.0 619.7 1120.7 615.3 1121.4 581.7 1122.1 604.5 1122.8 576.2 1123.5 595.9 1124.2 601.1 1124.9 607.4 1125.6 602.5 1126.3 603.7 1127.0 612.4 1127.7 618.5 1128.4 595.2 1129.1 612.3 1129.8 606.5 1130.5 604.6 1131.2 608.5 1131.9 626.9 1132.6 622.2 1133.3 642.3 1134.0 649.3 1134.7 653.7 1135.4 640.7 1136.1 658.9 1136.8 642.1 1137.5 652.9 1138.2 646.3 1138.9 674.0 1139.6 646.9 1140.3 648.3 1141.0 641.5 1141.7 642.4 1142.4 651.4 1143.1 640.3 1143.8 638.6 1144.5 652.1 1145.2 630.8 1145.9 644.0 1146.6 659.2 1147.3 646.8 1148.0 653.5 1148.7 628.6 1149.4 652.9 1150.1 680.3 1150.8 655.2 1151.5 618.6 1152.2 636.7 1152.9 655.2 1153.6 647.5 1154.3 641.4 1155.0 639.0 1155.7 645.6 1156.4 659.4 1157.1 636.9 1157.8 636.7 1158.5 629.4 1159.2 637.4 1159.9 652.8 1160.6 641.5 1161.3 646.1 1162.0 628.3 1162.7 630.0 1163.4 643.8 1164.1 632.7 1164.8 628.2 1165.5 617.8 1166.2 629.1 1166.9 619.9 1167.6 617.3 1168.3 618.6 1169.0 611.6 1169.7 625.7 1170.4 617.7 1171.1 607.4 1171.8 610.0 1172.5 616.1 1173.2 612.3 1173.9 625.6 1174.6 623.2 1175.3 644.2 1176.0 619.4 1176.7 619.3 1177.4 640.1 1178.1 630.6 1178.8 584.4 1179.5 596.4 1180.2 602.9 1180.9 624.9 1181.6 591.8 1182.3 589.1 1183.0 610.2 1183.7 615.2 1184.4 624.1 1185.1 614.4 1185.8 621.9 1186.5 613.2 1187.2 647.2 1187.9 629.5 1188.6 638.0 1189.3 625.8 1190.0 606.3 1190.7 630.7 1191.4 617.8 1192.1 618.3 1192.8 623.7 1193.5 626.6 1194.2 622.4 1194.9 627.1 1195.6 618.3 1196.3 588.7 1197.0 610.8 1197.7 638.1 1198.4 617.2 1199.1 611.6 1199.8 613.4 1200.5 617.6 1201.2 621.0 1201.9 609.7 1202.6 620.0 1203.3 616.1 1204.0 629.7 1204.7 601.9 1205.4 614.5 1206.1 623.1 1206.8 619.6 1207.5 619.6 1208.2 616.1 1208.9 633.1 1209.6 629.9 1210.3 619.8 1211.0 616.2 1211.7 623.9 1212.4 609.3 1213.1 608.2 1213.8 622.4 1214.5 612.4 1215.2 609.6 1215.9 610.1 1216.6 607.7 1217.3 614.7 1218.0 630.9 1218.7 610.7 1219.4 626.9 1220.1 610.7 1220.8 622.1 1221.5 617.5 1222.2 633.0 1222.9 610.1 1223.6 616.7 1224.3 622.4 1225.0 630.8 1225.7 611.7 1226.4 608.7 1227.1 607.2 1227.8 614.5 1228.5 598.0 1229.2 621.9 1229.9 617.9 1230.6 634.5 1231.3 628.0 1232.0 618.4 1232.7 604.1 1233.4 609.2 1234.1 614.2 1234.8 615.6 1235.5 634.4 1236.2 644.9 1236.9 588.4 1237.6 627.6"/>
<path stroke="#00ff00" d="M98.0 607.8 98.7 604.0 99.4 603.6 100.1 598.3 100.8 599.2 101.5 598.7 102.2 599.0 102.9 599.7 103.6 603.1 104.3 606.7 105.0 608.3 105.7 608.7 106.4 605.7 107.1 603.8 107.8 603.4 108.5 603.9 109.2 601.2 109.9 595.2 110.6 597.9 111.3 601.2 112.0 592.1 112.7 596.2 113.4 605.9 114.1 600.9 114.8 599.2 115.5 600.7 116.2 601.3 116.9 602.2 117.6 600.2 118.3 600.0 119.0 600.7 119.7 596.4 120.4 604.9 121.1 593.7 121.8 594.2 122.5 612.8 123.2 613.2 123.9 634.9 124.6 622.7 125.3 618.0 126.0 626.5 126.7 620.5 127.4 599.3 128.1 619.1 128.8 614.1 129.5 620.7 130.2 610.2 130.9 613.9 131.6 601.3 132.3 629.7 133.0 616.0 133.7 618.5 134.4 611.9 135.1 600.8 135.8 589.3 136.5 599.7 137.2 606.4 137.9 577.2 138.6 586.3 139.3 578.7 140.0 584.3 140.7 593.9 141.4 586.4 142.1 576.6 142.8 600.4 143.5 590.0 144.2 583.3 144.9 593.1 145.6 598.2 146.3 587.7 147.0 608.4 147.7 582.0 148.4 587.4 149.1 597.6 149.8 574.4 150.5 589.3 151.2 596.4 151.9 602.6 152.6 593.5 153.3 587.7 154.0 584.8 154.7 601.7 155.4 581.5 156.1 622.4 156.8 609.4 157.5 606.2 158.2 607.7 158.9 598.6 159.6 605.9 160.3 583.2 161.0 629.6 161.7 623.1 162.4 603.1 163.1 592.2 163.8 591.7 164.5 627.6 165.2 622.5 165.9 600.1 166.6 612.1 167.3 590.9 168.0 604.0 168.7 599.4 169.4 602.7 170.1 590.3 170.8 599.7 171.5 597.3 172.2 616.8 172.9 581.7 173.6 592.3 174.3 577.1 175.0 585.2 175.7 585.8 176.4 577.0 177.1 586.4 177.8 606.6 178.5 618.5 179.2 581.1 179.9 579.2 180.6 581.0 181.3 567.5 182.0 573.0 182.7 574.0 183.4 600.8 184.1 592.1 184.8 614.8 185.5 591.9 186.2 560.6 186.9 582.2 187.6 569.2 188.3 566.0 189.0 578.5 189.7 586.0 190.4 581.2 191.1 595.0 191.8 584.3 192.5 579.1 193.2 587.6 193.9 569.0 194.6 606.9 195.3 562.8 196.0 596.0 196.7 607.4 197.4 611.9 198.1 595.2 198.8 599.2 199.5 605.1 200.2 592.4 200.9 599.6 201.6 613.0 202.3 623.7 203.0 600.4 203.7 601.7 204.4 585.1 205.1 568.7 205.8 621.9 206.5 587.2 207.2 601.0 207.9 606.2 208.6 598.9 209.3 593.1 210.0 608.9 210.7 580.3 211.4 593.2 212.1 560.6 212.8 576.7 213.5 612.6 214.2 592.2 214.9 587.2 215.6 575.8 216.3 604.8 217.0 593.0 217.7 576.5 218.4 571.4 219.1 610.4 219.8 552.0 220.5 575.3 221.2 575.2 221.9 572.4 222.6 595.0 223.3 577.3 224.0 586.6 224.7 587.8 225.4 588.9 226.1 579.9 226.8 582.2 227.5 598.7 228.2 580.0 228.9 571.7 229.6 578.8 230.3 595.2 231.0 587.7 231.7 589.0 232.4 593.3 233.1 581.2 233.8 607.4 234.5 583.9 235.2 580.8 235.9 589.7 236.6 583.8 237.3 599.5 238.0 584.7 238.7 609.2 239.4 597.3 240.1 572.3 240.8 586.1 241.5 579.5 242.2 592.7 242.9 575.3 243.6 568.4 244.3 589.3 245.0 575.5 245.7 586.1 246.4 604.0 247.1 584.9 247.8 588.7 248.5 579.8 249.2 594.2 249.9 589.3 250.6 606.8 251.3 607.7 252.0 604.4 252.7 612.5 253.4 617.1 254.1 604.5 254.8 604.1 255.5 636.3 256.2 605.6 256.9 602.7 257.6 594.1 258.3 589.7 259.0 585.9 259.7 612.0 260.4 591.6 261.1 590.1 261.8 592.8 262.5 583.7 263.2 583.8 263.9 594.0 264.6 591.7 265.3 581.4 266.0 586.5 266.7 588.5 267.4 586.9 268.1 598.8 268.8 585.8 269.5 605.2 270.2 593.2 270.9 594.8 271.6 602.6 272.3 602.4 273.0 596.5 273.7 598.1 274.4 607.2 275.1 615.8 275.8 602.5 276.5 591.7 277.2 615.5 277.9 617.6 278.6 604.9 279.3 610.5 280.0 588.9 280.7 598.5 281.4 611.9 282.1 603.7 282.8 581.7 283.5 586.7 284.2 603.0 284.9 609.6 285.6 611.2 286.3 608.9 287.0 593.8 287.7 599.8 288.4 590.9 289.1 605.4 289.8 578.9 290.5 596.2 291.2 594.9 291.9 589.8 292.6 593.6 293.3 572.8 294.0 607.9 294.7 588.2 295.4 590.7 296.1 573.5 296.8 579.0 297.5 572.2 298.2 586.5 298.9 584.4 299.6 606.5 300.3 608.5 301.0 585.3 301.7 602.8 302.4 592.7 303.1 595.1 303.8 609.9 304.5 599.8 305.2 623.6 305.9 584.5 306.6 594.0 307.3 587.3 308.0 586.2 308.7 590.0 309.4 584.6 310.1 571.0 310.8 581.5 311.5 591.7 312.2 550.7 312.9 591.4 313.6 600.1 314.3 605.9 315.0 604.3 315.7 604.2 316.4 568.9 317.1 601.9 317.8 601.4 318.5 587.5 319.2 613.6 319.9 602.8 320.6 592.1 321.3 599.9 322.0 598.7 322.7 601.3 323.4 604.3 324.1 609.5 324.8 589.0 325.5 594.7 326.2 612.2 326.9 606.5 327.6 588.2 328.3 594.6 329.0 602.1 329.7 599.8 330.4 618.2 331.1 598.9 331.8 652.4 332.5 590.9 333.2 602.0 333.9 572.1 334.6 600.8 335.3 611.9 336.0 601.5 336.7 602.3 337.4 606.8 338.1 606.2 338.8 615.6 339.5 617.6 340.2 607.3 340.9 609.5 341.6 608.2 342.3 600.7 343.0 591.3 343.7 621.6 344.4 570.5 345.1 588.7 345.8 620.4 346.5 602.8 347.2 600.3 347.9 594.1 348.6 601.0 349.3 599.0 350.0 609.0 350.7 611.5 351.4 592.2 352.1 606.5 352.8 594.9 353.5 600.7 354.2 615.8 354.9 591.5 355.6 608.1 356.3 603.4 357.0 596.1 357.7 607.2 358.4 621.3 359.1 596.3 359.8 601.3 360.5 604.6 361.2 604.1 361.9 604.5 362.6 595.7 363.3 627.8 364.0 597.2 364.7 586.9 365.4 582.0 366.1 589.5 366.8 568.3 367.5 581.7 368.2 603.2 368.9 601.2 369.6 598.3 370.3 602.9 371.0 603.7 371.7 600.0 372.4 599.2 373.1 593.5 373.8 609.1 374.5 616.3 375.2 618.8 375.9 605.2 376.6 605.2 377.3 598.9 378.0 623.7 378.7 601.0 379.4 609.1 380.1 610.8 380.8 605.6 381.5 606.5 382.2 608.1 382.9 631.2 383.6 602.7 384.3 611.8 385.0 580.4 385.7 594.9 386.4 601.9 387.1 604.0 387.8 617.8 388.5 605.6 389.2 581.6 389.9 600.2 390.6 618.8 391.3 592.7 392.0 601.8 392.7 613.8 393.4 631.3 394.1 619.8 394.8 610.5 395.5 595.1 396.2 603.2 396.9 591.1 397.6 611.2 398.3 601.0 399.0 608.5 399.7 606.3 400.4 606.9 401.1 591.3 401.8 613.1 402.5 596.3 403.2 607.3 403.9 607.6 404.6 606.1 405.3 611.8 406.0 611.8 406.7 604.8 407.4 599.8 408.1 629.4 408.8 602.6 409.5 624.0 410.2 603.2 410.9 619.2 411.6 608.9 412.3 604.8 413.0 620.8 413.7 618.8 414.4 610.9 415.1 605.2 415.8 609.9 416.5 625.6 417.2 611.9 417.9 614.0 418.6 606.6 419.3 609.5 420.0 599.6 420.7 603.6 421.4 617.5 422.1 602.2 422.8 592.2 423.5 615.6 424.2 610.3 424.9 612.1 425.6 611.8 426.3 617.3 427.0 621.6 427.7 609.6 428.4 592.1 429.1 605.1 429.8 601.1 430.5 598.9 431.2 592.0 431.9 605.0 432.6 602.0 433.3 601.6 434.0 603.7 434.7 621.7 435.4 600.9 436.1 640.9 436.8 612.6 437.5 627.5 438.2 619.4 438.9 604.5 439.6 613.6 440.3 616.8 441.0 621.8 441.7 610.0 442.4 607.2 443.1 589.9 443.8 609.6 444.5 609.7 445.2 640.7 445.9 615.9 446.6 608.2 447.3 603.8 448.0 598.1 448.7 620.1 449.4 624.3 450.1 640.8 450.8 604.8 451.5 619.9 452.2 628.1 452.9 608.4 453.6 628.1 454.3 611.3 455.0 612.3 455.7 606.5 456.4 616.6 457.1 596.0 457.8 622.3 458.5 629.3 459.2 602.0 459.9 609.4 460.6 601.4 461.3 619.6 462.0 629.3 462.7 656.1 463.4 617.9 464.1 615.1 464.8 599.9 465.5 613.8 466.2 618.6 466.9 609.9 467.6 611.8 468.3 588.6 469.0 599.1 469.7 616.3 470.4 633.8 471.1 617.5 471.8 615.9 472.5 622.9 473.2 621.4 473.9 609.9 474.6 627.4 475.3 627.8 476.0 627.0 476.7 589.3 477.4 628.3 478.1 614.6 478.8 615.9 479.5 617.4 480.2 603.3 480.9 605.4 481.6 609.5 482.3 622.1 483.0 644.0 483.7 601.3 484.4 613.1 485.1 614.2 485.8 618.2 486.5 628.0 487.2 579.5 487.9 602.2 488.6 613.5 489.3 609.6 490.0 630.4 490.7 597.8 491.4 607.5 492.1 606.3 492.8 605.4 493.5 578.4 494.2 623.2 494.9 609.0 495.6 593.2 496.3 596.9 497.0 601.4 497.7 594.0 498.4 601.2 499.1 597.4 499.8 610.5 500.5 603.8 501.2 607.5 501.9 572.7 502.6 612.9 503.3 598.5 504.0 600.7 504.7 607.0 505.4 608.5 506.1 601.3 506.8 600.2 507.5 592.8 508.2 606.1 508.9 586.3 509.6 592.7 510.3 620.6 511.0 602.0 511.7 586.6 512.4 597.2 513.1 600.9 513.8 599.4 514.5 603.1 515.2 633.5 515.9 615.7 516.6 629.7 517.3 606.1 518.0 637.0 518.7 611.5 519.4 610.5 520.1 596.3 520.8 623.7 521.5 590.7 522.2 599.9 522.9 599.8 523.6 596.4 524.3 591.6 525.0 594.0 525.7 600.4 526.4 596.4 527.1 609.7 527.8 615.6 528.5 600.2 529.2 606.9 529.9 610.0 530.6 589.2 531.3 606.9 532.0 585.6 532.7 615.1 533.4 633.2 534.1 587.5 534.8 579.4 535.5 606.6 536.2 578.8 536.9 600.0 537.6 616.2 538.3 594.5 539.0 599.0 539.7 625.3 540.4 608.2 541.1 608.8 541.8 610.4 542.5 603.9 543.2 611.4 543.9 625.5 544.6 594.5 545.3 578.1 546.0 579.8 546.7 615.9 547.4 617.5 548.1 632.1 548.8 599.1 549.5 603.4 550.2 602.6 550.9 572.5 551.6 616.2 552.3 598.3 553.0 597.9 553.7 610.0 554.4 610.7 555.1 617.0 555.8 601.5 556.5 594.2 557.2 593.3 557.9 569.2 558.6 569.7 559.3 594.2 560.0 586.9 560.7 591.8 561.4 588.1 562.1 589.3 562.8 587.2 563.5 573.3 564.2 608.9 564.9 597.6 565.6 578.4 566.3 588.5 567.0 602.3 567.7 606.0 568.4 582.4 569.1 607.0 569.8 584.3 570.5 594.4 571.2 590.7 571.9 592.4 572.6 605.6 573.3 598.2 574.0 590.0 574.7 603.2 575.4 583.7 576.1 607.2 576.8 602.0 577.5 626.7 578.2 583.3 578.9 606.8 579.6 596.2 580.3 602.3 581.0 626.8 581.7 597.3 582.4 598.2 583.1 601.6 583.8 596.1 584.5 593.2 585.2 609.7 585.9 611.5 586.6 596.2 587.3 601.0 588.0 578.1 588.7 618.7 589.4 597.2 590.1 608.3 590.8 588.4 591.5 599.2 592.2 594.0 592.9 603.3 593.6 593.0 594.3 601.7 595.0 588.0 595.7 625.8 596.4 590.9 597.1 577.5 597.8 614.1 598.5 595.0 599.2 601.5 599.9 628.8 600.6 602.0 601.3 602.7 602.0 602.9 602.7 632.1 603.4 602.9 604.1 595.7 604.8 595.6 605.5 607.2 606.2 588.6 606.9 578.7 607.6 599.7 608.3 620.8 609.0 591.1 609.7 605.5 610.4 604.9 611.1 568.3 611.8 586.1 612.5 615.2 613.2 587.3 613.9 584.8 614.6 600.2 615.3 626.7 616.0 603.3 616.7 601.5 617.4 605.8 618.1 584.5 618.8 601.0 619.5 593.3 620.2 591.1 620.9 607.7 621.6 584.0 622.3 606.1 623.0 598.3 623.7 615.5 624.4 593.4 625.1 596.3 625.8 597.6 626.5 613.8 627.2 616.6 627.9 621.9 628.6 608.1 629.3 601.3 630.0 592.6 630.7 606.0 631.4 604.3 632.1 590.0 632.8 606.0 633.5 610.4 634.2 602.0 634.9 619.3 635.6 608.9 636.3 621.2 637.0 634.0 637.7 634.4 638.4 634.6 639.1 602.4 639.8 598.9 640.5 636.5 641.2 619.3 641.9 644.6 642.6 629.7 643.3 628.2 644.0 618.8 644.7 618.5 645.4 624.7 646.1 617.2 646.8 611.6 647.5 635.4 648.2 622.3 648.9 623.9 649.6 621.2 650.3 618.6 651.0 611.5 651.7 619.2 652.4 596.2 653.1 616.9 653.8 604.8 654.5 607.4 655.2 600.7 655.9 602.9 656.6 620.2 657.3 611.4 658.0 605.2 658.7 609.0 659.4 617.3 660.1 605.6 660.8 594.4 661.5 608.7 662.2 611.6 662.9 612.3 663.6 612.2 664.3 609.1 665.0 637.5 665.7 605.0 666.4 609.2 667.1 610.3 667.8 614.8 668.5 611.9 669.2 643.1 669.9 612.9 670.6 620.5 671.3 609.2 672.0 613.6 672.7 579.6 673.4 619.8 674.1 606.6 674.8 637.2 675.5 588.4 676.2 628.3 676.9 604.6 677.6 615.8 678.3 606.1 679.0 609.4 679.7 620.9 680.4 606.4 681.1 601.6 681.8 598.6 682.5 597.3 683.2 617.9 683.9 599.7 684.6 577.5 685.3 604.2 686.0 595.2 686.7 634.1 687.4 613.3 688.1 587.8 688.8 611.0 689.5 588.9 690.2 612.5 690.9 629.9 691.6 608.3 692.3 622.4 693.0 629.4 693.7 618.0 694.4 580.2 695.1 604.5 695.8 594.1 696.5 606.4 697.2 588.8 697.9 605.0 698.6 617.5 699.3 614.6 700.0 609.9 700.7 600.5 701.4 605.9 702.1 593.9 702.8 623.8 703.5 620.7 704.2 597.1 704.9 606.9 705.6 618.4 706.3 618.6 707.0 609.9 707.7 601.1 708.4 598.7 709.1 599.9 709.8 603.9 710.5 598.0 711.2 620.4 711.9 608.2 712.6 618.7 713.3 609.2 714.0 616.3 714.7 589.4 715.4 602.3 716.1 621.1 716.8 607.0 717.5 607.7 718.2 619.5 718.9 646.1 719.6 612.2 720.3 644.7 721.0 612.3 721.7 582.4 722.4 604.6 723.1 616.8 723.8 614.7 724.5 586.2 725.2 599.2 725.9 622.9 726.6 611.8 727.3 624.8 728.0 625.8 728.7 651.7 729.4 592.5 730.1 629.6 730.8 624.3 731.5 615.2 732.2 615.0 732.9 619.3 733.6 628.5 734.3 601.3 735.0 606.2 735.7 616.6 736.4 620.6 737.1 606.6 737.8 610.3 738.5 622.8 739.2 638.8 739.9 606.4 740.6 615.2 741.3 604.3 742.0 597.4 742.7 607.8 743.4 581.4 744.1 593.5 744.8 621.1 745.5 607.9 746.2 608.2 746.9 600.9 747.6 588.5 748.3 594.0 749.0 591.8 749.7 606.2 750.4 588.6 751.1 606.1 751.8 601.0 752.5 614.6 753.2 600.7 753.9 616.5 754.6 608.8 755.3 639.6 756.0 603.3 756.7 609.9 757.4 624.3 758.1 606.4 758.8 622.3 759.5 605.1 760.2 597.5 760.9 608.3 761.6 638.1 762.3 577.5 763.0 603.3 763.7 600.5 764.4 630.5 765.1 579.5 765.8 613.4 766.5 600.0 767.2 610.3 767.9 619.1 768.6 627.3 769.3 622.0 770.0 629.0 770.7 617.1 771.4 630.8 772.1 613.1 772.8 637.3 773.5 626.2 774.2 614.4 774.9 618.1 775.6 632.2 776.3 606.8 777.0 615.7 777.7 626.5 778.4 613.2 779.1 611.3 779.8 603.2 780.5 620.8 781.2 599.8 781.9 594.0 782.6 600.4 783.3 602.8 784.0 613.0 784.7 618.3 785.4 608.9 786.1 612.4 786.8 605.3 787.5 607.5 788.2 608.6 788.9 619.7 789.6 605.4 790.3 582.3 791.0 608.7 791.7 610.2 792.4 607.7 793.1 610.5 793.8 620.1 794.5 628.4 795.2 626.8 795.9 622.1 796.6 626.1 797.3 605.0 798.0 598.9 798.7 633.1 799.4 621.0 800.1 625.5 800.8 604.5 801.5 618.9 802.2 604.6 802.9 630.0 803.6 632.0 804.3 613.6 805.0 614.6 805.7 623.8 806.4 606.5 807.1 609.7 807.8 601.6 808.5 631.1 809.2 606.6 809.9 627.9 810.6 587.4 811.3 612.0 812.0 627.4 812.7 617.5 813.4 620.0 814.1 640.9 814.8 610.5 815.5 613.3 816.2 608.5 816.9 602.1 817.6 630.0 818.3 644.3 819.0 614.8 819.7 625.5 820.4 603.6 821.1 604.4 821.8 615.3 822.5 611.4 823.2 604.7 823.9 594.0 824.6 606.7 825.3 623.7 826.0 606.4 826.7 606.4 827.4 590.9 828.1 606.9 828.8 615.9 829.5 609.2 830.2 600.6 830.9 619.9 831.6 599.4 832.3 630.3 833.0 609.0 833.7 610.6 834.4 610.6 835.1 595.7 835.8 630.1 836.5 614.2 837.2 627.7 837.9 627.6 838.6 622.8 839.3 624.4 840.0 614.9 840.7 620.5 841.4 628.1 842.1 607.7 842.8 621.5 843.5 648.6 844.2 610.3 844.9 613.2 845.6 616.8 846.3 637.5 847.0 628.3 847.7 622.3 848.4 619.4 849.1 624.1 849.8 613.2 850.5 638.0 851.2 618.4 851.9 635.0 852.6 601.4 853.3 616.7 854.0 645.7 854.7 623.7 855.4 620.3 856.1 626.1 856.8 623.3 857.5 620.7 858.2 615.1 858.9 612.5 859.6 626.5 860.3 629.3 861.0 596.6 861.7 604.0 862.4 652.6 863.1 621.1 863.8 615.8 864.5 634.2 865.2 619.2 865.9 625.1 866.6 622.2 867.3 626.3 868.0 644.8 868.7 616.9 869.4 598.4 870.1 633.6 870.8 614.4 871.5 615.9 872.2 616.2 872.9 621.1 873.6 619.1 874.3 617.1 875.0 614.3 875.7 627.8 876.4 602.9 877.1 601.9 877.8 650.7 878.5 627.0 879.2 617.5 879.9 641.5 880.6 627.8 881.3 610.1 882.0 625.4 882.7 616.1 883.4 624.1 884.1 582.1 884.8 598.8 885.5 599.9 886.2 610.2 886.9 616.2 887.6 618.8 888.3 623.6 889.0 615.5 889.7 594.4 890.4 609.9 891.1 629.6 891.8 599.5 892.5 613.8 893.2 609.6 893.9 619.9 894.6 615.0 895.3 617.1 896.0 617.7 896.7 623.9 897.4 589.6 898.1 622.0 898.8 644.8 899.5 621.9 900.2 616.4 900.9 607.9 901.6 620.8 902.3 617.5 903.0 613.7 903.7 624.7 904.4 597.2 905.1 621.3 905.8 607.2 906.5 619.2 907.2 625.3 907.9 612.5 908.6 615.7 909.3 630.4 910.0 610.0 910.7 605.5 911.4 616.6 912.1 620.1 912.8 621.4 913.5 601.0 914.2 618.5 914.9 618.9 915.6 609.7 916.3 616.9 917.0 617.9 917.7 613.9 918.4 622.1 919.1 585.0 919.8 611.5 920.5 625.8 921.2 619.4 921.9 626.4 922.6 615.0 923.3 616.4 924.0 586.4 924.7 606.8 925.4 616.1 926.1 628.7 926.8 627.1 927.5 602.5 928.2 641.6 928.9 606.2 929.6 591.5 930.3 610.8 931.0 601.7 931.7 628.9 932.4 615.0 933.1 616.6 933.8 614.4 934.5 610.7 935.2 618.5 935.9 590.4 936.6 613.9 937.3 626.2 938.0 637.3 938.7 612.4 939.4 609.9 940.1 607.6 940.8 619.7 941.5 631.4 942.2 613.5 942.9 615.6 943.6 613.8 944.3 614.7 945.0 617.4 945.7 625.4 946.4 607.9 947.1 631.7 947.8 626.9 948.5 617.5 949.2 602.8 949.9 618.0 950.6 614.1 951.3 648.6 952.0 607.6 952.7 617.7 953.4 616.9 954.1 625.1 954.8 621.7 955.5 616.1 956.2 623.8 956.9 622.5 957.6 627.3 958.3 619.6 959.0 612.4 959.7 623.0 960.4 622.9 961.1 606.3 961.8 600.4 962.5 622.3 963.2 597.7 963.9 611.8 964.6 610.0 965.3 604.9 966.0 617.9 966.7 610.5 967.4 615.2 968.1 616.5 968.8 628.1 969.5 617.4 970.2 611.2 970.9 623.4 971.6 618.5 972.3 636.6 973.0 621.3 973.7 611.0 974.4 601.6 975.1 629.1 975.8 618.1 976.5 615.8 977.2 623.9 977.9 607.5 978.6 622.6 979.3 607.4 980.0 614.3 980.7 615.5 981.4 614.9 982.1 612.1 982.8 602.5 983.5 609.6 984.2 615.3 984.9 624.3 985.6 617.4 986.3 584.9 987.0 613.9 987.7 616.8 988.4 601.5 989.1 605.3 989.8 602.7 990.5 605.7 991.2 616.8 991.9 606.2 992.6 619.0 993.3 609.1 994.0 608.7 994.7 621.2 995.4 607.3 996.1 605.4 996.8 626.8 997.5 630.7 998.2 610.0 998.9 619.9 999.6 626.0 1000.3 628.7 1001.0 630.0 1001.7 632.8 1002.4 630.2 1003.1 608.4 1003.8 639.0 1004.5 629.3 1005.2 646.4 1005.9 623.7 1006.6 618.5 1007.3 628.9 1008.0 615.0 1008.7 623.9 1009.4 615.6 1010.1 613.5 1010.8 610.9 1011.5 621.8 1012.2 605.0 1012.9 613.7 1013.6 619.6 1014.3 632.9 1015.0 618.7 1015.7 623.5 1016.4 620.5 1017.1 617.4 1017.8 622.4 1018.5 623.2 1019.2 617.5 1019.9 610.9 1020.6 602.0 1021.3 636.2 1022.0 615.2 1022.7 607.0 1023.4 606.6 1024.1 615.4 1024.8 597.7 1025.5 611.2 1026.2 611.9 1026.9 606.5 1027.6 616.9 1028.3 607.3 1029.0 579.1 1029.7 625.0 1030.4 611.8 1031.1 602.0 1031.8 610.7 1032.5 602.2 1033.2 606.3 1033.9 610.0 1034.6 582.7 1035.3 612.6 1036.0 606.5 1036.7 600.7 1037.4 606.8 1038.1 606.2 1038.8 614.1 1039.5 618.5 1040.2 628.9 1040.9 597.1 1041.6 602.4 1042.3 613.0 1043.0 609.9 1043.7 600.0 1044.4 625.0 1045.1 615.2 1045.8 600.6 1046.5 568.9 1047.2 605.5 1047.9 597.8 1048.6 594.4 1049.3 625.0 1050.0 589.0 1050.7 612.3 1051.4 589.2 1052.1 583.9 1052.8 612.3 1053.5 582.1 1054.2 605.4 1054.9 601.2 1055.6 590.9 1056.3 592.0 1057.0 596.8 1057.7 595.8 1058.4 579.0 1059.1 573.6 1059.8 577.9 1060.5 578.8 1061.2 589.5 1061.9 591.5 1062.6 598.6 1063.3 597.7 1064.0 596.9 1064.7 605.0 1065.4 584.5 1066.1 620.4 1066.8 610.2 1067.5 598.0 1068.2 602.7 1068.9 602.6 1069.6 616.4 1070.3 601.8 1071.0 575.3 1071.7 603.5 1072.4 606.5 1073.1 588.8 1073.8 607.7 1074.5 591.9 1075.2 601.0 1075.9 607.9 1076.6 623.6 1077.3 613.7 1078.0 619.8 1078.7 628.5 1079.4 620.8 1080.1 598.6 1080.8 615.3 1081.5 612.4 1082.2 613.4 1082.9 618.0 1083.6 612.7 1084.3 610.7 1085.0 615.6 1085.7 580.7 1086.4 604.6 1087.1 613.0 1087.8 599.9 1088.5 616.6 1089.2 583.2 1089.9 582.7 1090.6 633.0 1091.3 608.2 1092.0 604.1 1092.7 585.8 1093.4 591.3 1094.1 624.3 1094.8 630.4 1095.5 604.5 1096.2 595.4 1096.9 607.0 1097.6 599.0 1098.3 607.6 1099.0 590.5 1099.7 609.9 1100.4 576.9 1101.1 616.7 1101.8 602.3 1102.5 605.0 1103.2 602.4 1103.9 608.3 1104.6 606.7 1105.3 596.4 1106.0 602.8 1106.7 603.9 1107.4 612.8 1108.1 585.8 1108.8 576.8 1109.5 594.1 1110.2 611.4 1110.9 609.4 1111.6 583.8 1112.3 580.0 1113.0 604.6 1113.7 571.3 1114.4 613.4 1115.1 605.1 1115.8 594.0 1116.5 630.7 1117.2 610.3 1117.9 594.6 1118.6 601.3 1119.3 599.6 1120.0 610.2 1120.7 619.5 1121.4 623.9 1122.1 607.8 1122.8 580.3 1123.5 615.0 1124.2 600.3 1124.9 612.6 1125.6 587.2 1126.3 592.3 1127.0 575.9 1127.7 603.5 1128.4 586.5 1129.1 593.5 1129.8 593.7 1130.5 570.9 1131.2 591.5 1131.9 570.5 1132.6 566.8 1133.3 578.9 1134.0 543.6 1134.7 547.0 1135.4 527.4 1136.1 533.0 1136.8 536.3 1137.5 545.1 1138.2 526.0 1138.9 535.6 1139.6 540.7 1140.3 549.8 1141.0 550.6 1141.7 519.9 1142.4 552.9 1143.1 522.0 1143.8 565.0 1144.5 543.3 1145.2 545.4 1145.9 537.7 1146.6 522.7 1147.3 521.1 1148.0 553.3 1148.7 543.1 1149.4 537.1 1150.1 539.9 1150.8 522.2 1151.5 547.7 1152.2 526.3 1152.9 519.5 1153.6 538.0 1154.3 543.2 1155.0 550.2 1155.7 563.8 1156.4 539.6 1157.1 537.1 1157.8 552.8 1158.5 540.7 1159.2 559.4 1159.9 534.7 1160.6 549.3 1161.3 575.0 1162.0 554.2 1162.7 548.9 1163.4 551.0 1164.1 551.9 1164.8 548.7 1165.5 548.9 1166.2 554.6 1166.9 553.8 1167.6 542.8 1168.3 548.9 1169.0 582.8 1169.7 551.0 1170.4 543.3 1171.1 551.9 1171.8 553.4 1172.5 586.6 1173.2 552.5 1173.9 555.1 1174.6 571.3 1175.3 565.3 1176.0 561.3 1176.7 558.4 1177.4 561.5 1178.1 556.9 1178.8 547.9 1179.5 564.9 1180.2 558.0 1180.9 565.2 1181.6 563.7 1182.3 566.4 1183.0 562.1 1183.7 547.7 1184.4 567.1 1185.1 564.6 1185.8 555.5 1186.5 575.8 1187.2 570.8 1187.9 565.3 1188.6 584.7 1189.3 576.6 1190.0 586.5 1190.7 567.9 1191.4 599.6 1192.1 565.3 1192.8 561.6 1193.5 594.5 1194.2 572.9 1194.9 596.2 1195.6 582.0 1196.3 587.4 1197.0 569.1 1197.7 581.1 1198.4 574.8 1199.1 567.8 1199.8 582.6 1200.5 588.7 1201.2 585.1 1201.9 580.1 1202.6 587.8 1203.3 582.3 1204.0 582.3 1204.7 591.0 1205.4 587.0 1206.1 575.7 1206.8 587.4 1207.5 580.0 1208.2 593.0 1208.9 594.9 1209.6 595.4 1210.3 586.4 1211.0 591.7 1211.7 592.0 1212.4 591.5 1213.1 599.2 1213.8 590.1 1214.5 598.2 1215.2 604.2 1215.9 592.6 1216.6 587.9 1217.3 595.5 1218.0 587.1 1218.7 593.8 1219.4 596.1 1220.1 588.3 1220.8 592.4 1221.5 584.4 1222.2 607.3 1222.9 578.3 1223.6 594.4 1224.3 586.7 1225.0 572.0 1225.7 570.7 1226.4 587.5 1227.1 590.5 1227.8 587.5 1228.5 588.5 1229.2 603.1 1229.9 589.5 1230.6 590.2 1231.3 585.7 1232.0 598.9 1232.7 584.6 1233.4 595.2 1234.1 594.8 1234.8 589.9 1235.5 583.3 1236.2 592.3 1236.9 585.7 1237.6 574.0"/>
<path stroke="#0000ff" d="M98.0 603.3 98.6 602.3 99.2 602.3 99.8 602.4 100.4 602.4 101.0 602.4 101.6 602.5 102.2 603.5 102.8 602.6 103.4 603.3 104.0 603.1 104.6 603.2 105.2 603.6 105.8 604.1 106.4 602.9 107.0 602.9 107.6 602.7 108.2 603.1 108.8 603.7 109.4 603.1 110.0 602.7 110.6 602.9 111.2 603.0 111.8 603.0 112.4 603.0 113.0 603.8 113.6 602.6 114.2 603.2 114.8 603.2 115.4 603.3 116.0 603.0 116.6 602.5 117.2 603.0 117.8 602.8 118.4 602.9 119.0 602.6 119.6 602.8 120.2 603.4 120.8 600.9 121.4 601.5 122.0 609.0 122.6 613.2 123.2 600.8 123.8 616.9 124.4 605.1 125.0 604.4 125.6 593.0 126.2 597.3 126.8 611.1 127.4 591.4 128.0 597.2 128.6 612.9 129.2 608.0 129.8 603.0 130.4 607.1 131.0 604.0 131.6 609.9 132.2 601.1 132.8 600.1 133.4 606.7 134.0 598.2 134.6 585.9 135.2 600.2 135.8 596.3 136.4 599.5 137.0 603.5 137.6 610.0 138.2 608.2 138.8 611.2 139.4 609.8 140.0 606.4 140.6 599.8 141.2 595.4 141.8 602.9 142.4 603.2 143.0 603.1 143.6 606.0 144.2 602.1 144.8 600.2 145.4 601.4 146.0 605.8 146.6 623.4 147.2 609.1 147.8 609.1 148.4 606.3 149.0 590.2 149.6 600.4 150.2 602.3 150.8 591.3 151.4 601.0 152.0 602.9 152.6 606.0 153.2 612.0 153.8 605.5 154.4 609.7 155.0 604.3 155.6 613.9 156.2 594.7 156.8 604.1 157.4 611.6 158.0 613.9 158.6 612.7 159.2 614.9 159.8 608.2 160.4 621.2 161.0 618.0 161.6 612.9 162.2 625.0 162.8 619.0 163.4 612.7 164.0 615.2 164.6 619.9 165.2 600.1 165.8 606.5 166.4 611.5 167.0 608.4 167.6 609.3 168.2 615.4 168.8 614.6 169.4 601.5 170.0 609.8 170.6 615.8 171.2 615.6 171.8 615.0 172.4 612.0 173.0 614.1 173.6 613.6 174.2 616.0 174.8 613.1 175.4 615.5 176.0 617.7 176.6 609.4 177.2 612.1 177.8 615.5 178.4 614.6 179.0 618.5 179.6 613.5 180.2 616.3 180.8 616.7 181.4 622.6 182.0 610.9 182.6 607.1 183.2 610.9 183.8 610.9 184.4 609.1 185.0 616.6 185.6 608.6 186.2 613.1 186.8 610.5 187.4 609.7 188.0 614.9 188.6 606.3 189.2 623.2 189.8 615.9 190.4 614.7 191.0 618.2 191.6 617.2 192.2 613.3 192.8 627.3 193.4 618.5 194.0 614.1 194.6 614.2 195.2 612.1 195.8 616.1 196.4 616.0 197.0 620.7 197.6 615.4 198.2 618.3 198.8 607.8 199.4 619.0 200.0 610.6 200.6 613.2 201.2 611.0 201.8 626.6 202.4 610.0 203.0 618.3 203.6 625.4 204.2 611.5 204.8 612.8 205.4 610.0 206.0 619.3 206.6 617.6 207.2 615.8 207.8 623.1 208.4 618.1 209.0 615.6 209.6 618.3 210.2 615.6 210.8 622.7 211.4 616.6 212.0 620.5 212.6 615.6 213.2 622.4 213.8 620.2 214.4 617.1 215.0 618.3 215.6 620.2 216.2 617.8 216.8 613.1 217.4 622.2 218.0 617.0 218.6 614.8 219.2 614.9 219.8 609.0 220.4 614.0 221.0 619.4 221.6 608.2 222.2 620.4 222.8 626.2 223.4 617.5 224.0 609.8 224.6 617.7 225.2 624.2 225.8 620.0 226.4 615.6 227.0 620.0 227.6 603.1 228.2 619.7 228.8 616.4 229.4 618.3 230.0 608.9 230.6 612.1 231.2 613.2 231.8 617.2 232.4 622.6 233.0 600.0 233.6 613.5 234.2 595.2 234.8 610.1 235.4 609.2 236.0 615.6 236.6 611.5 237.2 617.2 237.8 617.8 238.4 609.2 239.0 599.9 239.6 608.7 240.2 607.0 240.8 612.7 241.4 609.2 242.0 620.3 242.6 611.2 243.2 608.2 243.8 606.2 244.4 605.0 245.0 604.5 245.6 601.0 246.2 596.1 246.8 588.2 247.4 598.1 248.0 600.8 248.6 600.4 249.2 597.0 249.8 603.9 250.4 601.5 251.0 602.0 251.6 601.3 252.2 604.7 252.8 609.7 253.4 606.3 254.0 598.1 254.6 608.3 255.2 606.2 255.8 610.4 256.4 606.7 257.0 601.0 257.6 604.4 258.2 603.8 258.8 604.5 259.4 590.7 260.0 604.0 260.6 603.5 261.2 616.9 261.8 608.3 262.4 605.4 263.0 601.6 263.6 603.2 264.2 586.9 264.8 600.7 265.4 600.3 266.0 605.4 266.6 612.1 267.2 603.5 267.8 605.6 268.4 610.7 269.0 602.0 269.6 606.0 270.2 604.0 270.8 612.9 271.4 612.6 272.0 608.6 272.6 608.7 273.2 611.3 273.8 613.2 274.4 612.1 275.0 608.1 275.6 610.4 276.2 603.4 276.8 594.6 277.4 602.7 278.0 600.0 278.6 602.5 279.2 607.5 279.8 606.0 280.4 597.6 281.0 601.5 281.6 610.5 282.2 606.3 282.8 614.1 283.4 595.8 284.0 609.5 284.6 605.8 285.2 601.8 285.8 591.5 286.4 604.5 287.0 602.8 287.6 610.1 288.2 608.1 288.8 602.6 289.4 598.7 290.0 600.3 290.6 608.3 291.2 602.3 291.8 601.7 292.4 604.6 293.0 614.6 293.6 606.7 294.2 658.5 294.8 602.6 295.4 617.5 296.0 612.1 296.6 601.4 297.2 620.4 297.8 599.5 298.4 610.5 299.0 609.6 299.6 609.1 300.2 618.6 300.8 601.0 301.4 606.6 302.0 608.1 302.6 586.9 303.2 604.1 303.8 604.7 304.4 600.7 305.0 601.7 305.6 605.7 306.2 602.4 306.8 603.4 307.4 615.0 308.0 616.4 308.6 615.4 309.2 598.8 309.8 606.2 310.4 599.1 311.0 604.5 311.6 602.4 312.2 603.6 312.8 605.7 313.4 588.4 314.0 591.5 314.6 599.0 315.2 608.2 315.8 603.3 316.4 600.7 317.0 598.1 317.6 596.2 318.2 595.8 318.8 604.8 319.4 599.6 320.0 606.0 320.6 607.1 321.2 608.1 321.8 615.5 322.4 617.2 323.0 608.8 323.6 611.9 324.2 604.2 324.8 606.7 325.4 603.2 326.0 607.0 326.6 609.1 327.2 598.5 327.8 608.5 328.4 609.1 329.0 613.0 329.6 610.0 330.2 612.1 330.8 616.6 331.4 607.9 332.0 614.2 332.6 609.7 333.2 602.9 333.8 607.6 334.4 600.8 335.0 608.2 335.6 607.8 336.2 605.8 336.8 601.8 337.4 602.1 338.0 603.2 338.6 613.4 339.2 592.7 339.8 611.8 340.4 616.7 341.0 606.5 341.6 611.1 342.2 599.8 342.8 606.9 343.4 613.8 344.0 617.9 344.6 611.6 345.2 618.5 345.8 615.3 346.4 617.8 347.0 618.6 347.6 610.8 348.2 609.3 348.8 607.9 349.4 606.5 350.0 607.8 350.6 605.1 351.2 612.7 351.8 608.2 352.4 609.0 353.0 609.5 353.6 612.4 354.2 605.6 354.8 615.1 355.4 607.6 356.0 607.9 356.6 604.0 357.2 606.4 357.8 604.5 358.4 600.3 359.0 590.4 359.6 616.0 360.2 615.7 360.8 611.0 361.4 610.0 362.0 612.7 362.6 609.9 363.2 605.6 363.8 603.0 364.4 604.3 365.0 607.8 365.6 606.9 366.2 608.2 366.8 608.7 367.4 613.6 368.0 608.4 368.6 606.3 369.2 610.4 369.8 609.8 370.4 611.0 371.0 604.5 371.6 609.4 372.2 601.5 372.8 614.1 373.4 605.9 374.0 605.1 374.6 610.0 375.2 596.4 375.8 605.1 376.4 612.6 377.0 595.6 377.6 593.1 378.2 606.0 378.8 603.9 379.4 601.0 380.0 592.9 380.6 608.1 381.2 610.0 381.8 611.3 382.4 605.9 383.0 608.2 383.6 604.0 384.2 613.1 384.8 606.4 385.4 602.8 386.0 605.6 386.6 607.9 387.2 597.5 387.8 596.1 388.4 592.5 389.0 599.4 389.6 599.7 390.2 605.8 390.8 602.9 391.4 597.9 392.0 586.1 392.6 599.4 393.2 595.9 393.8 603.1 394.4 600.4 395.0 608.1 395.6 602.4 396.2 596.0 396.8 602.5 397.4 605.7 398.0 610.5 398.6 608.1 399.2 598.9 399.8 605.4 400.4 609.6 401.0 604.5 401.6 604.2 402.2 614.9 402.8 603.6 403.4 601.9 404.0 588.5 404.6 600.9 405.2 615.3 405.8 599.9 406.4 604.4 407.0 610.1 407.6 603.5 408.2 595.8 408.8 601.3 409.4 607.0 410.0 600.0 410.6 597.0 411.2 598.5 411.8 590.2 412.4 596.1 413.0 595.6 413.6 587.2 414.2 600.8 414.8 604.4 415.4 602.9 416.0 597.4 416.6 600.0 417.2 608.0 417.8 582.1 418.4 597.9 419.0 600.3 419.6 595.4 420.2 593.4 420.8 598.6 421.4 595.4 422.0 610.0 422.6 596.2 423.2 593.1 423.8 586.7 424.4 599.6 425.0 584.3 425.6 585.7 426.2 595.9 426.8 597.5 427.4 597.3 428.0 596.6 428.6 607.7 429.2 596.9 429.8 592.3 430.4 613.5 431.0 606.2 431.6 606.7 432.2 601.8 432.8 602.4 433.4 598.9 434.0 600.7 434.6 605.5 435.2 601.6 435.8 610.8 436.4 603.5 437.0 605.0 437.6 599.1 438.2 594.1 438.8 599.6 439.4 603.5 440.0 595.6 440.6 588.7 441.2 593.4 441.8 590.5 442.4 593.3 443.0 593.8 443.6 603.2 444.2 604.0 444.8 588.7 445.4 592.9 446.0 586.9 446.6 585.9 447.2 588.2 447.8 575.3 448.4 587.4 449.0 592.8 449.6 582.8 450.2 578.9 450.8 575.7 451.4 586.5 452.0 582.9 452.6 576.9 453.2 583.9 453.8 577.7 454.4 579.2 455.0 574.8 455.6 577.3 456.2 574.4 456.8 585.2 457.4 577.3 458.0 584.8 458.6 574.5 459.2 582.0 459.8 582.2 460.4 580.1 461.0 584.0 461.6 582.3 462.2 585.7 462.8 571.5 463.4 583.9 464.0 588.0 464.6 576.7 465.2 579.6 465.8 578.2 466.4 582.3 467.0 578.2 467.6 580.3 468.2 584.0 468.8 581.4 469.4 574.6 470.0 583.4 470.6 581.3 471.2 578.5 471.8 581.1 472.4 578.1 473.0 581.8 473.6 575.3 474.2 580.2 474.8 574.8 475.4 579.3 476.0 580.9 476.6 576.9 477.2 584.2 477.8 579.7 478.4 579.5 479.0 577.0 479.6 574.9 480.2 562.9 480.8 576.0 481.4 586.7 482.0 570.4 482.6 579.3 483.2 576.6 483.8 573.8 484.4 566.1 485.0 575.3 485.6 561.0 486.2 576.0 486.8 572.2 487.4 577.4 488.0 567.1 488.6 569.2 489.2 581.0 489.8 584.9 490.4 577.8 491.0 575.6 491.6 570.2 492.2 578.6 492.8 582.2 493.4 572.7 494.0 585.0 494.6 575.2 495.2 585.3 495.8 582.6 496.4 584.7 497.0 580.3 497.6 582.6 498.2 574.3 498.8 578.6 499.4 572.9 500.0 575.3 500.6 582.9 501.2 585.6 501.8 573.0 502.4 582.6 503.0 577.8 503.6 581.6 504.2 579.4 504.8 581.6 505.4 580.4 506.0 581.0 506.6 579.8 507.2 584.2 507.8 579.2 508.4 578.0 509.0 576.8 509.6 587.4 510.2 572.4 510.8 576.9 511.4 595.6 512.0 582.9 512.6 582.6 513.2 580.9 513.8 583.8 514.4 568.4 515.0 589.8 515.6 587.8 516.2 584.2 516.8 584.4 517.4 583.8 518.0 588.3 518.6 576.1 519.2 579.8 519.8 589.0 520.4 595.2 521.0 581.6 521.6 579.9 522.2 584.1 522.8 588.8 523.4 599.7 524.0 580.0 524.6 581.7 525.2 583.3 525.8 591.4 526.4 583.7 527.0 603.1 527.6 587.8 528.2 600.3 528.8 587.8 529.4 580.8 530.0 585.8 530.6 582.5 531.2 584.6 531.8 586.0 532.4 590.1 533.0 589.5 533.6 593.1 534.2 594.1 534.8 591.7 535.4 590.8 536.0 586.7 536.6 590.3 537.2 587.8 537.8 597.5 538.4 600.8 539.0 598.7 539.6 600.7 540.2 595.8 540.8 596.0 541.4 607.0 542.0 597.0 542.6 595.8 543.2 593.6 543.8 601.0 544.4 602.9 545.0 592.2 545.6 597.6 546.2 590.6 546.8 584.7 547.4 592.6 548.0 588.2 548.6 591.4 549.2 592.7 549.8 589.7 550.4 584.8 551.0 585.9 551.6 588.7 552.2 589.1 552.8 580.2 553.4 590.3 554.0 583.5 554.6 585.9 555.2 588.7 555.8 587.6 556.4 584.0 557.0 586.4 557.6 588.5 558.2 592.5 558.8 593.8 559.4 591.4 560.0 584.6 560.6 590.4 561.2 591.3 561.8 595.6 562.4 593.2 563.0 587.8 563.6 582.1 564.2 586.2 564.8 583.7 565.4 586.4 566.0 579.4 566.6 583.9 567.2 579.1 567.8 585.9 568.4 587.6 569.0 588.6 569.6 579.1 570.2 568.7 570.8 576.8 571.4 589.4 572.0 570.4 572.6 591.4 573.2 583.9 573.8 583.3 574.4 589.3 575.0 592.1 575.6 578.9 576.2 589.8 576.8 583.3 577.4 588.0 578.0 581.8 578.6 581.9 579.2 582.8 579.8 571.2 580.4 586.8 581.0 592.1 581.6 582.4 582.2 588.2 582.8 581.7 583.4 586.8 584.0 583.3 584.6 591.2 585.2 588.1 585.8 584.4 586.4 599.6 587.0 585.7 587.6 592.7 588.2 595.0 588.8 592.3 589.4 592.2 590.0 585.7 590.6 589.7 591.2 587.4 591.8 591.1 592.4 588.1 593.0 590.3 593.6 589.3 594.2 588.4 594.8 586.3 595.4 580.9 596.0 588.3 596.6 588.9 597.2 588.4 597.8 594.7 598.4 601.7 599.0 593.5 599.6 598.7 600.2 597.2 600.8 590.7 601.4 593.9 602.0 609.2 602.6 592.5 603.2 590.4 603.8 595.8 604.4 597.5 605.0 588.6 605.6 593.8 606.2 593.3 606.8 579.4 607.4 580.0 608.0 592.1 608.6 600.7 609.2 592.8 609.8 603.0 610.4 591.6 611.0 601.8 611.6 590.8 612.2 594.8 612.8 596.4 613.4 597.5 614.0 592.0 614.6 591.7 615.2 587.7 615.8 597.7 616.4 589.5 617.0 595.2 617.6 588.1 618.2 586.2 618.8 586.1 619.4 599.9 620.0 601.6 620.6 586.4 621.2 597.9 621.8 588.5 622.4 601.1 623.0 596.2 623.6 593.1 624.2 592.7 624.8 592.7 625.4 583.1 626.0 587.7 626.6 599.4 627.2 597.4 627.8 586.4 628.4 596.5 629.0 585.5 629.6 588.5 630.2 587.0 630.8 595.4 631.4 596.8 632.0 585.7 632.6 586.6 633.2 594.5 633.8 598.0 634.4 599.0 635.0 592.0 635.6 592.4 636.2 605.9 636.8 600.9 637.4 595.8 638.0 603.9 638.6 595.1 639.2 599.7 639.8 601.5 640.4 611.0 641.0 604.9 641.6 597.1 642.2 599.8 642.8 595.1 643.4 594.6 644.0 591.8 644.6 606.7 645.2 599.7 645.8 600.2 646.4 592.4 647.0 595.9 647.6 583.2 648.2 593.7 648.8 590.3 649.4 592.8 650.0 583.5 650.6 595.9 651.2 593.0 651.8 597.3 652.4 595.7 653.0 587.5 653.6 578.2 654.2 587.8 654.8 590.4 655.4 581.1 656.0 597.4 656.6 591.3 657.2 586.7 657.8 592.3 658.4 592.0 659.0 594.5 659.6 590.0 660.2 583.6 660.8 587.3 661.4 583.7 662.0 582.6 662.6 585.4 663.2 588.8 663.8 590.9 664.4 587.6 665.0 581.8 665.6 584.4 666.2 589.1 666.8 591.6 667.4 596.6 668.0 589.6 668.6 591.8 669.2 587.1 669.8 603.8 670.4 600.1 671.0 607.6 671.6 592.9 672.2 595.2 672.8 589.4 673.4 594.8 674.0 594.0 674.6 579.8 675.2 586.1 675.8 576.3 676.4 597.8 677.0 590.3 677.6 596.7 678.2 587.6 678.8 590.0 679.4 587.1 680.0 592.4 680.6 579.4 681.2 575.7 681.8 584.6 682.4 586.8 683.0 591.1 683.6 586.8 684.2 587.7 684.8 587.5 685.4 586.0 686.0 582.9 686.6 603.8 687.2 583.7 687.8 583.1 688.4 590.3 689.0 582.3 689.6 593.9 690.2 584.9 690.8 591.3 691.4 589.1 692.0 589.0 692.6 580.0 693.2 594.1 693.8 582.7 694.4 587.7 695.0 582.9 695.6 595.7 696.2 588.0 696.8 593.1 697.4 588.6 698.0 584.0 698.6 574.8 699.2 575.4 699.8 577.9 700.4 585.7 701.0 592.1 701.6 583.2 702.2 586.8 702.8 594.6 703.4 589.8 704.0 592.9 704.6 601.9 705.2 592.8 705.8 601.0 706.4 595.4 707.0 594.8 707.6 591.6 708.2 587.7 708.8 586.2 709.4 589.1 710.0 591.5 710.6 573.7 711.2 592.6 711.8 580.8 712.4 587.4 713.0 588.6 713.6 594.1 714.2 580.9 714.8 595.1 715.4 597.5 716.0 596.9 716.6 599.6 717.2 591.8 717.8 589.8 718.4 591.5 719.0 587.5 719.6 593.4 720.2 594.8 720.8 589.1 721.4 595.8 722.0 593.4 722.6 590.1 723.2 589.8 723.8 583.5 724.4 580.7 725.0 592.7 725.6 590.8 726.2 585.0 726.8 595.5 727.4 602.3 728.0 593.9 728.6 600.2 729.2 599.2 729.8 596.3 730.4 587.6 731.0 602.7 731.6 603.2 732.2 608.6 732.8 605.6 733.4 603.1 734.0 599.3 734.6 598.9 735.2 597.7 735.8 594.8 736.4 585.1 737.0 599.3 737.6 594.2 738.2 593.3 738.8 595.7 739.4 608.2 740.0 589.2 740.6 599.4 741.2 611.4 741.8 597.5 742.4 593.9 743.0 605.8 743.6 592.1 744.2 590.4 744.8 586.5 745.4 591.2 746.0 592.5 746.6 590.3 747.2 582.7 747.8 584.6 748.4 595.1 749.0 585.8 749.6 573.7 750.2 587.5 750.8 595.2 751.4 584.8 752.0 584.7 752.6 586.2 753.2 586.8 753.8 590.0 754.4 587.3 755.0 588.2 755.6 585.8 756.2 584.6 756.8 579.7 757.4 591.6 758.0 589.4 758.6 582.2 759.2 586.1 759.8 589.5 760.4 594.1 761.0 581.1 761.6 596.9 762.2 587.7 762.8 591.3 763.4 588.8 764.0 596.0 764.6 597.2 765.2 592.9 765.8 595.8 766.4 601.2 767.0 597.3 767.6 599.3 768.2 596.7 768.8 596.8 769.4 600.8 770.0 599.2 770.6 597.3 771.2 600.9 771.8 606.3 772.4 591.5 773.0 589.6 773.6 599.0 774.2 593.3 774.8 593.4 775.4 598.9 776.0 598.6 776.6 600.2 777.2 594.5 777.8 594.7 778.4 604.7 779.0 599.6 779.6 590.5 780.2 597.5 780.8 596.5 781.4 598.9 782.0 594.9 782.6 604.1 783.2 597.5 783.8 599.5 784.4 600.9 785.0 601.9 785.6 599.3 786.2 599.0 786.8 599.8 787.4 599.4 788.0 599.5 788.6 604.3 789.2 605.0 789.8 602.8 790.4 600.3 791.0 611.1 791.6 602.8 792.2 618.3 792.8 603.3 793.4 601.3 794.0 608.2 794.6 600.9 795.2 611.5 795.8 609.8 796.4 606.9 797.0 615.2 797.6 604.8 798.2 602.2 798.8 611.3 799.4 604.5 800.0 592.7 800.6 613.4 801.2 603.2 801.8 596.9 802.4 610.1 803.0 612.1 803.6 602.7 804.2 599.7 804.8 592.1 805.4 602.3 806.0 601.2 806.6 604.7 807.2 606.5 807.8 606.0 808.4 597.9 809.0 606.6 809.6 609.6 810.2 596.4 810.8 600.7 811.4 609.8 812.0 602.0 812.6 603.7 813.2 619.4 813.8 612.4 814.4 613.6 815.0 613.7 815.6 601.7 816.2 601.7 816.8 597.5 817.4 606.0 818.0 600.5 818.6 606.0 819.2 604.6 819.8 618.8 820.4 605.7 821.0 615.4 821.6 604.8 822.2 610.6 822.8 613.0 823.4 605.1 824.0 609.6 824.6 612.9 825.2 598.0 825.8 598.9 826.4 610.9 827.0 604.2 827.6 606.7 828.2 605.7 828.8 599.3 829.4 619.3 830.0 598.8 830.6 597.5 831.2 595.4 831.8 595.0 832.4 603.5 833.0 601.9 833.6 616.2 834.2 601.3 834.8 600.5 835.4 609.6 836.0 599.3 836.6 596.6 837.2 604.6 837.8 601.6 838.4 607.9 839.0 610.0 839.6 610.2 840.2 601.4 840.8 601.8 841.4 592.1 842.0 593.0 842.6 612.2 843.2 608.6 843.8 601.7 844.4 612.5 845.0 607.2 845.6 608.7 846.2 615.5 846.8 608.9 847.4 607.2 848.0 610.4 848.6 609.5 849.2 605.3 849.8 613.4 850.4 603.3 851.0 607.1 851.6 612.6 852.2 618.6 852.8 606.9 853.4 608.5 854.0 619.2 854.6 608.7 855.2 619.8 855.8 599.0 856.4 615.4 857.0 619.5 857.6 608.4 858.2 612.8 858.8 601.4 859.4 614.8 860.0 613.4 860.6 602.0 861.2 609.5 861.8 614.3 862.4 608.6 863.0 609.6 863.6 616.1 864.2 597.2 864.8 611.7 865.4 604.5 866.0 603.6 866.6 607.0 867.2 609.1 867.8 621.5 868.4 611.8 869.0 601.9 869.6 605.2 870.2 606.2 870.8 606.3 871.4 599.7 872.0 612.2 872.6 595.2 873.2 605.9 873.8 604.3 874.4 608.4 875.0 606.4 875.6 605.4 876.2 610.6 876.8 607.0 877.4 599.4 878.0 610.7 878.6 592.6 879.2 606.8 879.8 599.7 880.4 614.9 881.0 617.9 881.6 615.8 882.2 609.9 882.8 608.3 883.4 607.7 884.0 616.2 884.6 612.3 885.2 613.9 885.8 615.6 886.4 611.0 887.0 606.3 887.6 606.6 888.2 601.0 888.8 620.3 889.4 611.2 890.0 616.3 890.6 615.4 891.2 612.1 891.8 621.5 892.4 618.0 893.0 627.5 893.6 610.4 894.2 613.4 894.8 615.0 895.4 620.6 896.0 610.6 896.6 611.5 897.2 619.8 897.8 619.0 898.4 618.9 899.0 611.5 899.6 605.2 900.2 612.6 900.8 612.9 901.4 618.3 902.0 616.4 902.6 609.5 903.2 614.2 903.8 609.2 904.4 607.5 905.0 608.3 905.6 607.9 906.2 610.5 906.8 613.3 907.4 612.2 908.0 613.1 908.6 605.1 909.2 602.1 909.8 598.3 910.4 602.9 911.0 598.6 911.6 601.2 912.2 604.1 912.8 621.4 913.4 613.6 914.0 604.9 914.6 606.5 915.2 615.2 915.8 616.6 916.4 606.1 917.0 598.1 917.6 607.2 918.2 615.6 918.8 608.6 919.4 622.0 920.0 621.4 920.6 606.6 921.2 604.6 921.8 599.8 922.4 604.1 923.0 604.0 923.6 607.9 924.2 611.7 924.8 605.6 925.4 605.0 926.0 609.1 926.6 592.0 927.2 614.6 927.8 604.7 928.4 600.3 929.0 607.3 929.6 604.3 930.2 611.5 930.8 613.4 931.4 593.6 932.0 606.3 932.6 609.4 933.2 599.3 933.8 616.4 934.4 606.6 935.0 606.7 935.6 606.7 936.2 616.7 936.8 604.7 937.4 612.3 938.0 612.7 938.6 617.2 939.2 613.7 939.8 610.1 940.4 606.0 941.0 614.6 941.6 613.0 942.2 614.4 942.8 616.4 943.4 615.0 944.0 630.2 944.6 601.2 945.2 619.3 945.8 627.0 946.4 630.2 947.0 616.7 947.6 611.0 948.2 618.6 948.8 622.6 949.4 616.1 950.0 613.7 950.6 610.7 951.2 613.0 951.8 614.5 952.4 624.1 953.0 623.2 953.6 622.1 954.2 612.0 954.8 618.1 955.4 606.2 956.0 619.1 956.6 613.8 957.2 605.4 957.8 614.1 958.4 614.8 959.0 604.1 959.6 609.9 960.2 616.3 960.8 609.9 961.4 622.5 962.0 621.7 962.6 622.4 963.2 623.8 963.8 603.9 964.4 613.0 965.0 623.2 965.6 618.8 966.2 632.8 966.8 621.1 967.4 612.7 968.0 625.8 968.6 611.4 969.2 620.6 969.8 618.1 970.4 619.2 971.0 626.9 971.6 620.5 972.2 622.1 972.8 618.1 973.4 616.2 974.0 609.6 974.6 619.9 975.2 618.2 975.8 616.1 976.4 606.4 977.0 622.9 977.6 619.7 978.2 627.1 978.8 635.1 979.4 623.6 980.0 620.8 980.6 617.8 981.2 623.6 981.8 620.4 982.4 622.5 983.0 623.1 983.6 631.9 984.2 624.1 984.8 620.5 985.4 617.1 986.0 626.0 986.6 624.9 987.2 627.1 987.8 628.6 988.4 629.5 989.0 612.7 989.6 621.0 990.2 612.6 990.8 622.6 991.4 625.1 992.0 629.5 992.6 623.5 993.2 611.6 993.8 623.9 994.4 629.4 995.0 626.4 995.6 626.8 996.2 621.4 996.8 629.9 997.4 622.6 998.0 627.5 998.6 623.7 999.2 619.3 999.8 609.8 1000.4 630.0 1001.0 623.3 1001.6 616.2 1002.2 622.1 1002.8 625.4 1003.4 621.2 1004.0 621.8 1004.6 619.9 1005.2 624.5 1005.8 642.0 1006.4 627.4 1007.0 624.2 1007.6 626.4 1008.2 631.5 1008.8 622.7 1009.4 630.2 1010.0 627.8 1010.6 628.7 1011.2 634.5 1011.8 634.9 1012.4 625.1 1013.0 631.9 1013.6 630.9 1014.2 641.2 1014.8 632.6 1015.4 633.9 1016.0 620.3 1016.6 619.3 1017.2 620.9 1017.8 627.4 1018.4 632.6 1019.0 619.6 1019.6 628.2 1020.2 631.4 1020.8 635.8 1021.4 626.5 1022.0 628.2 1022.6 625.4 1023.2 634.6 1023.8 621.5 1024.4 623.2 1025.0 622.8 1025.6 626.0 1026.2 621.7 1026.8 617.3 1027.4 625.8 1028.0 623.0 1028.6 628.0 1029.2 633.4 1029.8 619.2 1030.4 625.1 1031.0 619.8 1031.6 617.5 1032.2 621.6 1032.8 615.8 1033.4 632.1 1034.0 622.1 1034.6 619.4 1035.2 612.1 1035.8 618.8 1036.4 623.1 1037.0 614.4 1037.6 623.2 1038.2 618.6 1038.8 619.6 1039.4 622.3 1040.0 619.9 1040.6 615.2 1041.2 615.8 1041.8 612.8 1042.4 612.8 1043.0 616.3 1043.6 619.4 1044.2 614.1 1044.8 611.2 1045.4 626.2 1046.0 622.1 1046.6 609.3 1047.2 603.4 1047.8 619.9 1048.4 601.7 1049.0 615.5 1049.6 621.5 1050.2 620.3 1050.8 619.7 1051.4 614.1 1052.0 611.2 1052.6 605.8 1053.2 618.8 1053.8 605.9 1054.4 610.0 1055.0 602.8 1055.6 600.2 1056.2 597.8 1056.8 603.8 1057.4 597.1 1058.0 596.9 1058.6 600.3 1059.2 590.6 1059.8 603.7 1060.4 598.0 1061.0 598.3 1061.6 592.1 1062.2 602.3 1062.8 601.6 1063.4 603.9 1064.0 601.2 1064.6 597.3 1065.2 596.5 1065.8 588.4 1066.4 602.8 1067.0 613.2 1067.6 603.2 1068.2 601.9 1068.8 603.4 1069.4 604.6 1070.0 592.4 1070.6 607.3 1071.2 604.3 1071.8 606.8 1072.4 608.5 1073.0 599.9 1073.6 588.6 1074.2 591.0 1074.8 596.9 1075.4 599.2 1076.0 594.8 1076.6 601.4 1077.2 593.0 1077.8 605.5 1078.4 605.3 1079.0 610.5 1079.6 604.1 1080.2 611.0 1080.8 605.7 1081.4 604.5 1082.0 601.8 1082.6 605.6 1083.2 602.9 1083.8 596.7 1084.4 612.0 1085.0 599.2 1085.6 615.3 1086.2 604.5 1086.8 600.4 1087.4 612.1 1088.0 608.3 1088.6 602.0 1089.2 597.1 1089.8 616.3 1090.4 608.0 1091.0 592.9 1091.6 605.8 1092.2 594.8 1092.8 603.8 1093.4 604.1 1094.0 611.4 1094.6 597.3 1095.2 595.7 1095.8 590.8 1096.4 599.1 1097.0 600.9 1097.6 592.9 1098.2 603.0 1098.8 600.7 1099.4 595.1 1100.0 605.8 1100.6 597.8 1101.2 600.6 1101.8 603.9 1102.4 598.7 1103.0 608.9 1103.6 615.1 1104.2 603.7 1104.8 610.2 1105.4 601.9 1106.0 600.9 1106.6 606.0 1107.2 599.5 1107.8 599.8 1108.4 601.1 1109.0 597.6 1109.6 596.9 1110.2 597.6 1110.8 585.9 1111.4 594.9 1112.0 604.2 1112.6 595.7 1113.2 599.3 1113.8 606.2 1114.4 602.8 1115.0 602.3 1115.6 606.9 1116.2 599.8 1116.8 606.8 1117.4 604.3 1118.0 599.9 1118.6 608.7 1119.2 597.4 1119.8 599.8 1120.4 604.6 1121.0 602.3 1121.6 597.7 1122.2 607.2 1122.8 603.3 1123.4 591.8 1124.0 595.3 1124.6 589.4 1125.2 598.9 1125.8 593.7 1126.4 599.8 1127.0 598.6 1127.6 601.1 1128.2 599.6 1128.8 594.2 1129.4 599.1 1130.0 599.4 1130.6 607.2 1131.2 604.4 1131.8 608.1 1132.4 608.4 1133.0 603.7 1133.6 617.2 1134.2 601.2 1134.8 604.2 1135.4 605.4 1136.0 608.2 1136.6 603.2 1137.2 602.5 1137.8 611.0 1138.4 598.1 1139.0 607.4 1139.6 612.4 1140.2 610.5 1140.8 608.9 1141.4 602.7 1142.0 601.8 1142.6 605.7 1143.2 607.7 1143.8 592.3 1144.4 599.5 1145.0 597.9 1145.6 602.0 1146.2 607.9 1146.8 601.2 1147.4 597.1 1148.0 609.2 1148.6 604.5 1149.2 596.7 1149.8 587.9 1150.4 602.5 1151.0 605.8 1151.6 595.4 1152.2 601.0 1152.8 599.4 1153.4 591.0 1154.0 599.6 1154.6 599.2 1155.2 585.7 1155.8 593.2 1156.4 605.6 1157.0 606.0 1157.6 599.5 1158.2 600.6 1158.8 599.5 1159.4 593.1 1160.0 595.9 1160.6 595.6 1161.2 604.4 1161.8 608.0 1162.4 599.9 1163.0 595.7 1163.6 590.2 1164.2 593.0 1164.8 598.9 1165.4 603.9 1166.0 596.0 1166.6 600.6 1167.2 599.3 1167.8 595.6 1168.4 592.2 1169.0 594.7 1169.6 598.9 1170.2 598.0 1170.8 591.5 1171.4 595.3 1172.0 603.9 1172.6 601.0 1173.2 601.8 1173.8 595.6 1174.4 606.8 1175.0 608.9 1175.6 598.5 1176.2 602.7 1176.8 605.8 1177.4 597.1 1178.0 595.6 1178.6 586.8 1179.2 605.0 1179.8 591.7 1180.4 604.1 1181.0 599.9 1181.6 604.4 1182.2 597.3 1182.8 586.7 1183.4 603.8 1184.0 615.1 1184.6 603.0 1185.2 591.3 1185.8 595.0 1186.4 605.9 1187.0 594.5 1187.6 615.4 1188.2 601.3 1188.8 587.8 1189.4 601.1 1190.0 602.7 1190.6 599.5 1191.2 595.0 1191.8 601.1 1192.4 599.5 1193.0 602.6 1193.6 603.1 1194.2 595.4 1194.8 599.1 1195.4 616.3 1196.0 599.9 1196.6 597.8 1197.2 600.6 1197.8 598.8 1198.4 596.2 1199.0 592.9 1199.6 602.1 1200.2 598.5 1200.8 597.6 1201.4 594.7 1202.0 584.9 1202.6 611.8 1203.2 603.9 1203.8 602.2 1204.4 614.6 1205.0 598.8 1205.6 596.2 1206.2 603.9 1206.8 606.3 1207.4 604.7 1208.0 595.7 1208.6 602.7 1209.2 597.1 1209.8 589.7 1210.4 597.9 1211.0 597.0 1211.6 599.0 1212.2 597.5 1212.8 594.9 1213.4 598.4 1214.0 595.1 1214.6 589.6 1215.2 597.7 1215.8 590.4 1216.4 594.3 1217.0 595.8 1217.6 603.2 1218.2 597.3 1218.8 595.0 1219.4 587.6 1220.0 601.3 1220.6 584.3 1221.2 593.5 1221.8 594.6 1222.4 593.0 1223.0 601.6 1223.6 590.9 1224.2 585.0 1224.8 601.3 1225.4 588.2 1226.0 598.9 1226.6 589.5 1227.2 582.1 1227.8 606.9 1228.4 584.9 1229.0 588.4 1229.6 596.4 1230.2 591.6 1230.8 598.0 1231.4 598.8 1232.0 589.5 1232.6 593.3 1233.2 588.5 1233.8 582.2 1234.4 587.9 1235.0 592.2 1235.6 581.9 1236.2 585.9 1236.8 594.1 1237.4 585.7 1238.0 599.5"/>
</g>
<g stroke="#0d0d0d" stroke-width="2" fill="none">
<rect x="98.0" y="513.7" width="1140.0" height="172.8"/>
<path d="M185.7 686.5V674.5M361.1 686.5V674.5M361.1 513.7V525.7M536.5 686.5V674.5M536.5 513.7V525.7M711.8 686.5V674.5M711.8 513.7V525.7M887.2 686.5V674.5M887.2 513.7V525.7M1062.6 686.5V674.5M1062.6 513.7V525.7M1238.0 521.9H1226.5M1238.0 563.1H1226.5M98.0 604.2H109.5M1238.0 604.2H1226.5M98.0 645.4H109.5M1238.0 645.4H1226.5M98.0 686.5H109.5M1238.0 686.5H1226.5M185.7 513.7V522.2M185.7 524.7V526.7M98.0 521.9H103.5M105.5 521.9H109.0M98.0 563.1H103.5M105.5 563.1H109.0"/>
</g>
<g font-family="Liberation Sans, sans-serif" font-size="22" fill="#0d0d0d">
<text x="161.22" y="712.00">20</text>
<path d="M191.59 712.00L193.59 712.00L193.59 696.53L192.20 696.53C191.74 698.25 189.87 699.28 187.89 699.50L187.89 700.82C189.65 700.74 190.97 700.23 191.59 699.35ZM203.82 712.00L205.83 712.00L205.83 696.53L204.44 696.53C203.98 698.25 202.11 699.28 200.13 699.50L200.13 700.82C201.89 700.74 203.21 700.23 203.82 699.35Z"/>
<text x="336.61" y="712.00">20</text>
<text x="373.31" y="712.00">2</text>
<path d="M366.97 712.00L368.97 712.00L368.97 696.53L367.59 696.53C367.13 698.25 365.26 699.28 363.28 699.50L363.28 700.82C365.04 700.74 366.36 700.23 366.97 699.35Z"/>
<text x="511.99" y="712.00">20</text>
<text x="548.70" y="712.00">3</text>
<path d="M542.36 712.00L544.36 712.00L544.36 696.53L542.97 696.53C542.51 698.25 540.64 699.28 538.66 699.50L538.66 700.82C540.42 700.74 541.74 700.23 542.36 699.35Z"/>
<text x="687.38" y="712.00">20</text>
<text x="724.08" y="712.00">4</text>
<path d="M717.74 712.00L719.74 712.00L719.74 696.53L718.36 696.53C717.90 698.25 716.03 699.28 714.05 699.50L714.05 700.82C715.81 700.74 717.13 700.23 717.74 699.35Z"/>
<text x="862.76" y="712.00">20</text>
<text x="899.47" y="712.00">5</text>
<path d="M893.13 712.00L895.13 712.00L895.13 696.53L893.74 696.53C893.28 698.25 891.41 699.28 889.43 699.50L889.43 700.82C891.19 700.74 892.51 700.23 893.13 699.35Z"/>
<text x="1038.14" y="712.00">20</text>
<text x="1074.85" y="712.00">6</text>
<path d="M1068.51 712.00L1070.51 712.00L1070.51 696.53L1069.13 696.53C1068.67 698.25 1066.80 699.28 1064.82 699.50L1064.82 700.82C1066.58 700.74 1067.90 700.23 1068.51 699.35Z"/>
<text x="1213.53" y="712.00">20</text>
<text x="1250.24" y="712.00">7</text>
<path d="M1243.90 712.00L1245.90 712.00L1245.90 696.53L1244.51 696.53C1244.05 698.25 1242.18 699.28 1240.20 699.50L1240.20 700.82C1241.96 700.74 1243.28 700.23 1243.90 699.35Z"/>
<text x="65.33" y="527.43">20</text>
<text x="77.56" y="568.57">0</text>
<path d="M71.23 568.57L73.23 568.57L73.23 553.11L71.84 553.11C71.38 554.82 69.51 555.86 67.53 556.08L67.53 557.40C69.29 557.31 70.61 556.80 71.23 555.92Z"/>
<text x="77.56" y="609.71">0</text>
<text x="58.00" y="650.86">-</text>
<text x="77.56" y="650.86">0</text>
<path d="M71.23 650.86L73.23 650.86L73.23 635.39L71.84 635.39C71.38 637.11 69.51 638.14 67.53 638.36L67.53 639.68C69.29 639.59 70.61 639.09 71.23 638.21Z"/>
<text x="58.00" y="692.00">-20</text>
</g>
<text x="116.0" y="552.2" font-family="Liberation Sans, sans-serif" font-size="36" fill="#000">(c)</text>
<g stroke-width="2">
<line x1="826.6" y1="550.9" x2="895.0" y2="550.9" stroke="#ff0000"/>
<line x1="957.4" y1="550.9" x2="1025.0" y2="550.9" stroke="#00ff00"/>
<line x1="1087.5" y1="550.9" x2="1155.3" y2="550.9" stroke="#0000ff"/>
</g>
<g font-family="Liberation Sans, sans-serif" font-size="24" font-weight="bold" fill="#000" stroke="#000" stroke-width="0.45" stroke-linejoin="round">
<text x="899.5" y="557.2">PC</text>
<path d="M939.37 557.20L942.39 557.20L942.39 540.11L939.94 540.11C939.37 542.08 937.40 542.80 934.88 542.85L934.88 545.39C936.92 545.39 938.48 545.08 939.37 544.48Z"/>
<text x="1030.3" y="557.2">PC2</text>
<text x="1160.4" y="557.2">PC3</text>
</g>
<text transform="translate(42.3,530) rotate(-90)" font-family="Liberation Sans, sans-serif" font-size="39.5" fill="#0d0d0d">Displacement (mm)</text>
<text x="577.6" y="747" font-family="Liberation Sans, sans-serif" font-size="35.5" fill="#0d0d0d">Time (year)</text>
</g></svg></body></html>
